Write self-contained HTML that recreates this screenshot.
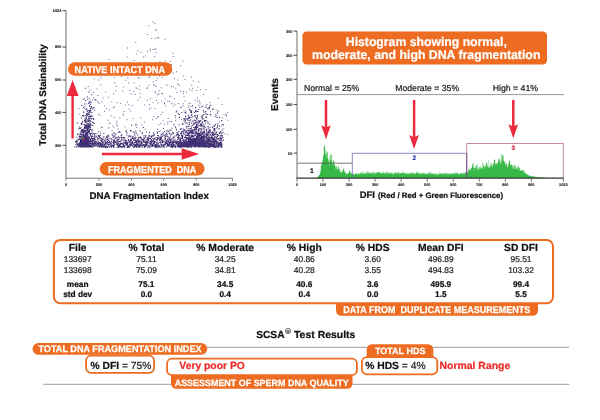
<!DOCTYPE html>
<html><head><meta charset="utf-8"><style>
html,body{margin:0;padding:0;background:#fff;width:600px;height:420px;overflow:hidden}
svg{display:block;font-family:"Liberation Sans", sans-serif;will-change:transform;text-rendering:geometricPrecision}
</style></head><body>
<svg width="600" height="420" viewBox="0 0 600 420">
<rect width="600" height="420" fill="#fff"/>
<path d="M87.5 141.6h1.1v1.1h-1.1zM88.3 145.6h1.1v1.1h-1.1zM84.1 136.9h1.1v1.1h-1.1zM85.8 137.6h1.1v1.1h-1.1zM82.7 146.0h1.1v1.1h-1.1zM84.6 145.3h1.1v1.1h-1.1zM85.5 139.6h1.1v1.1h-1.1zM82.6 143.3h1.1v1.1h-1.1zM89.7 134.2h1.1v1.1h-1.1zM83.1 140.2h1.1v1.1h-1.1zM95.4 99.7h1.1v1.1h-1.1zM86.4 142.2h1.1v1.1h-1.1zM86.4 144.6h1.1v1.1h-1.1zM88.2 125.3h1.1v1.1h-1.1zM79.7 144.0h1.1v1.1h-1.1zM82.0 140.7h1.1v1.1h-1.1zM86.1 136.6h1.1v1.1h-1.1zM84.7 143.6h1.1v1.1h-1.1zM82.6 132.2h1.1v1.1h-1.1zM86.4 135.5h1.1v1.1h-1.1zM82.7 139.0h1.1v1.1h-1.1zM91.5 131.5h1.1v1.1h-1.1zM80.4 143.0h1.1v1.1h-1.1zM84.6 120.5h1.1v1.1h-1.1zM83.2 130.2h1.1v1.1h-1.1zM93.9 144.9h1.1v1.1h-1.1zM84.7 139.7h1.1v1.1h-1.1zM82.7 138.1h1.1v1.1h-1.1zM81.0 146.0h1.1v1.1h-1.1zM79.7 135.9h1.1v1.1h-1.1zM84.4 120.5h1.1v1.1h-1.1zM90.2 135.2h1.1v1.1h-1.1zM78.4 135.7h1.1v1.1h-1.1zM89.4 110.3h1.1v1.1h-1.1zM84.1 138.5h1.1v1.1h-1.1zM84.4 131.4h1.1v1.1h-1.1zM91.9 133.5h1.1v1.1h-1.1zM84.1 142.3h1.1v1.1h-1.1zM84.2 140.4h1.1v1.1h-1.1zM84.1 138.8h1.1v1.1h-1.1zM85.1 144.2h1.1v1.1h-1.1zM86.6 128.2h1.1v1.1h-1.1zM84.2 144.8h1.1v1.1h-1.1zM90.1 120.9h1.1v1.1h-1.1zM79.7 145.4h1.1v1.1h-1.1zM88.1 119.6h1.1v1.1h-1.1zM88.0 125.1h1.1v1.1h-1.1zM82.4 139.8h1.1v1.1h-1.1zM91.3 140.9h1.1v1.1h-1.1zM78.1 144.5h1.1v1.1h-1.1zM84.5 144.1h1.1v1.1h-1.1zM87.4 138.2h1.1v1.1h-1.1zM85.0 135.4h1.1v1.1h-1.1zM85.0 139.7h1.1v1.1h-1.1zM76.4 140.7h1.1v1.1h-1.1zM81.8 131.8h1.1v1.1h-1.1zM80.9 137.4h1.1v1.1h-1.1zM80.4 145.8h1.1v1.1h-1.1zM88.2 117.8h1.1v1.1h-1.1zM78.7 126.5h1.1v1.1h-1.1zM83.2 140.3h1.1v1.1h-1.1zM86.2 133.9h1.1v1.1h-1.1zM86.3 145.7h1.1v1.1h-1.1zM85.2 144.3h1.1v1.1h-1.1zM84.5 141.3h1.1v1.1h-1.1zM84.2 144.4h1.1v1.1h-1.1zM83.5 145.2h1.1v1.1h-1.1zM87.2 120.6h1.1v1.1h-1.1zM86.8 134.6h1.1v1.1h-1.1zM86.7 141.2h1.1v1.1h-1.1zM89.5 140.8h1.1v1.1h-1.1zM89.6 138.7h1.1v1.1h-1.1zM86.2 138.2h1.1v1.1h-1.1zM85.3 141.3h1.1v1.1h-1.1zM85.4 142.7h1.1v1.1h-1.1zM82.1 146.2h1.1v1.1h-1.1zM85.7 108.8h1.1v1.1h-1.1zM84.6 136.7h1.1v1.1h-1.1zM74.2 146.2h1.1v1.1h-1.1zM84.7 121.6h1.1v1.1h-1.1zM85.2 131.6h1.1v1.1h-1.1zM87.6 144.2h1.1v1.1h-1.1zM79.7 128.0h1.1v1.1h-1.1zM83.2 141.5h1.1v1.1h-1.1zM88.2 143.3h1.1v1.1h-1.1zM76.7 122.6h1.1v1.1h-1.1zM88.5 126.0h1.1v1.1h-1.1zM78.9 143.3h1.1v1.1h-1.1zM84.3 137.4h1.1v1.1h-1.1zM84.7 146.1h1.1v1.1h-1.1zM84.0 142.4h1.1v1.1h-1.1zM93.4 107.3h1.1v1.1h-1.1zM94.6 139.1h1.1v1.1h-1.1zM83.7 107.7h1.1v1.1h-1.1zM85.0 140.8h1.1v1.1h-1.1zM86.8 143.8h1.1v1.1h-1.1zM78.7 143.6h1.1v1.1h-1.1zM80.8 123.6h1.1v1.1h-1.1zM81.1 138.3h1.1v1.1h-1.1zM78.8 145.4h1.1v1.1h-1.1zM90.6 133.0h1.1v1.1h-1.1zM82.3 129.2h1.1v1.1h-1.1zM87.5 138.4h1.1v1.1h-1.1zM90.2 141.4h1.1v1.1h-1.1zM89.5 126.3h1.1v1.1h-1.1zM84.0 140.1h1.1v1.1h-1.1zM87.3 109.8h1.1v1.1h-1.1zM81.9 144.8h1.1v1.1h-1.1zM89.5 144.5h1.1v1.1h-1.1zM80.5 144.5h1.1v1.1h-1.1zM91.4 124.6h1.1v1.1h-1.1zM83.8 141.1h1.1v1.1h-1.1zM85.4 136.6h1.1v1.1h-1.1zM88.8 102.3h1.1v1.1h-1.1zM77.0 133.4h1.1v1.1h-1.1zM83.3 139.4h1.1v1.1h-1.1zM87.7 120.8h1.1v1.1h-1.1zM82.1 142.9h1.1v1.1h-1.1zM84.7 142.2h1.1v1.1h-1.1zM89.1 142.7h1.1v1.1h-1.1zM90.0 139.7h1.1v1.1h-1.1zM90.3 141.0h1.1v1.1h-1.1zM78.0 138.8h1.1v1.1h-1.1zM80.7 139.7h1.1v1.1h-1.1zM82.6 115.3h1.1v1.1h-1.1zM84.8 137.2h1.1v1.1h-1.1zM81.8 146.3h1.1v1.1h-1.1zM84.8 146.5h1.1v1.1h-1.1zM87.9 126.4h1.1v1.1h-1.1zM89.2 130.4h1.1v1.1h-1.1zM83.0 136.3h1.1v1.1h-1.1zM88.8 136.4h1.1v1.1h-1.1zM89.5 127.3h1.1v1.1h-1.1zM87.2 142.9h1.1v1.1h-1.1zM85.0 142.4h1.1v1.1h-1.1zM80.7 136.2h1.1v1.1h-1.1zM89.1 128.7h1.1v1.1h-1.1zM83.1 134.6h1.1v1.1h-1.1zM79.3 137.7h1.1v1.1h-1.1zM84.3 139.0h1.1v1.1h-1.1zM76.4 137.0h1.1v1.1h-1.1zM86.6 131.5h1.1v1.1h-1.1zM89.2 120.4h1.1v1.1h-1.1zM84.0 136.3h1.1v1.1h-1.1zM88.6 110.6h1.1v1.1h-1.1zM82.5 144.9h1.1v1.1h-1.1zM87.1 139.2h1.1v1.1h-1.1zM85.2 145.6h1.1v1.1h-1.1zM87.0 132.7h1.1v1.1h-1.1zM76.7 144.4h1.1v1.1h-1.1zM84.5 130.8h1.1v1.1h-1.1zM84.9 119.7h1.1v1.1h-1.1zM89.9 103.7h1.1v1.1h-1.1zM93.3 140.2h1.1v1.1h-1.1zM91.6 138.2h1.1v1.1h-1.1zM83.7 144.3h1.1v1.1h-1.1zM81.4 139.4h1.1v1.1h-1.1zM83.9 143.8h1.1v1.1h-1.1zM84.3 141.7h1.1v1.1h-1.1zM84.3 136.4h1.1v1.1h-1.1zM87.9 139.2h1.1v1.1h-1.1zM85.5 134.3h1.1v1.1h-1.1zM94.4 137.5h1.1v1.1h-1.1zM90.0 127.1h1.1v1.1h-1.1zM90.6 101.9h1.1v1.1h-1.1zM85.7 146.0h1.1v1.1h-1.1zM85.6 127.6h1.1v1.1h-1.1zM86.5 139.6h1.1v1.1h-1.1zM88.1 116.2h1.1v1.1h-1.1zM81.6 144.5h1.1v1.1h-1.1zM82.0 115.1h1.1v1.1h-1.1zM81.7 145.3h1.1v1.1h-1.1zM82.6 145.8h1.1v1.1h-1.1zM80.5 145.6h1.1v1.1h-1.1zM83.1 111.7h1.1v1.1h-1.1zM79.2 145.4h1.1v1.1h-1.1zM92.9 122.3h1.1v1.1h-1.1zM87.6 138.9h1.1v1.1h-1.1zM76.7 141.3h1.1v1.1h-1.1zM81.6 142.6h1.1v1.1h-1.1zM81.5 144.8h1.1v1.1h-1.1zM83.6 145.1h1.1v1.1h-1.1zM86.5 144.3h1.1v1.1h-1.1zM85.2 141.8h1.1v1.1h-1.1zM84.6 142.0h1.1v1.1h-1.1zM81.8 137.8h1.1v1.1h-1.1zM83.8 144.1h1.1v1.1h-1.1zM84.9 142.9h1.1v1.1h-1.1zM83.5 146.3h1.1v1.1h-1.1zM79.7 143.9h1.1v1.1h-1.1zM86.3 138.5h1.1v1.1h-1.1zM85.4 125.1h1.1v1.1h-1.1zM77.8 139.4h1.1v1.1h-1.1zM84.8 140.3h1.1v1.1h-1.1zM80.9 137.7h1.1v1.1h-1.1zM75.0 141.3h1.1v1.1h-1.1zM84.8 124.2h1.1v1.1h-1.1zM79.7 140.0h1.1v1.1h-1.1zM86.3 141.2h1.1v1.1h-1.1zM84.7 145.6h1.1v1.1h-1.1zM85.6 129.6h1.1v1.1h-1.1zM86.2 145.4h1.1v1.1h-1.1zM89.9 123.5h1.1v1.1h-1.1zM80.5 142.4h1.1v1.1h-1.1zM83.2 143.0h1.1v1.1h-1.1zM88.0 144.4h1.1v1.1h-1.1zM83.9 139.1h1.1v1.1h-1.1zM97.6 101.5h1.1v1.1h-1.1zM85.3 136.6h1.1v1.1h-1.1zM93.8 141.9h1.1v1.1h-1.1zM88.0 141.0h1.1v1.1h-1.1zM84.8 138.5h1.1v1.1h-1.1zM86.1 137.8h1.1v1.1h-1.1zM88.0 146.4h1.1v1.1h-1.1zM87.4 142.7h1.1v1.1h-1.1zM85.9 146.0h1.1v1.1h-1.1zM83.1 146.2h1.1v1.1h-1.1zM87.5 135.5h1.1v1.1h-1.1zM84.9 137.1h1.1v1.1h-1.1zM80.3 130.8h1.1v1.1h-1.1zM84.1 120.1h1.1v1.1h-1.1zM91.2 94.2h1.1v1.1h-1.1zM83.3 144.5h1.1v1.1h-1.1zM78.9 145.9h1.1v1.1h-1.1zM90.1 124.0h1.1v1.1h-1.1zM82.4 130.0h1.1v1.1h-1.1zM88.9 125.6h1.1v1.1h-1.1zM88.2 137.7h1.1v1.1h-1.1zM88.5 124.0h1.1v1.1h-1.1zM78.7 135.5h1.1v1.1h-1.1zM84.5 118.6h1.1v1.1h-1.1zM79.2 143.2h1.1v1.1h-1.1zM86.3 146.1h1.1v1.1h-1.1zM86.6 145.1h1.1v1.1h-1.1zM81.5 123.9h1.1v1.1h-1.1zM83.4 134.2h1.1v1.1h-1.1zM85.1 132.2h1.1v1.1h-1.1zM86.0 126.5h1.1v1.1h-1.1zM81.2 129.3h1.1v1.1h-1.1zM85.2 133.0h1.1v1.1h-1.1zM83.8 145.6h1.1v1.1h-1.1zM81.3 145.5h1.1v1.1h-1.1zM84.0 142.6h1.1v1.1h-1.1zM83.2 129.7h1.1v1.1h-1.1zM85.1 100.0h1.1v1.1h-1.1zM84.9 138.3h1.1v1.1h-1.1zM85.9 132.1h1.1v1.1h-1.1zM80.3 133.6h1.1v1.1h-1.1zM85.7 145.5h1.1v1.1h-1.1zM87.9 129.5h1.1v1.1h-1.1zM83.9 142.0h1.1v1.1h-1.1zM83.8 145.7h1.1v1.1h-1.1zM81.7 142.6h1.1v1.1h-1.1zM80.5 132.4h1.1v1.1h-1.1zM80.4 142.2h1.1v1.1h-1.1zM84.3 138.7h1.1v1.1h-1.1zM86.0 144.9h1.1v1.1h-1.1zM87.2 98.7h1.1v1.1h-1.1zM91.4 112.1h1.1v1.1h-1.1zM86.5 125.1h1.1v1.1h-1.1zM85.6 103.4h1.1v1.1h-1.1zM85.1 143.6h1.1v1.1h-1.1zM88.8 110.1h1.1v1.1h-1.1zM88.7 144.6h1.1v1.1h-1.1zM86.7 137.2h1.1v1.1h-1.1zM85.5 125.0h1.1v1.1h-1.1zM89.1 137.6h1.1v1.1h-1.1zM80.6 143.2h1.1v1.1h-1.1zM86.0 118.0h1.1v1.1h-1.1zM84.0 146.5h1.1v1.1h-1.1zM81.9 138.0h1.1v1.1h-1.1zM85.1 144.6h1.1v1.1h-1.1zM81.7 141.2h1.1v1.1h-1.1zM90.3 146.5h1.1v1.1h-1.1zM86.7 129.1h1.1v1.1h-1.1zM85.7 113.9h1.1v1.1h-1.1zM87.9 130.9h1.1v1.1h-1.1zM82.8 140.7h1.1v1.1h-1.1zM89.4 140.3h1.1v1.1h-1.1zM84.5 140.9h1.1v1.1h-1.1zM84.5 139.5h1.1v1.1h-1.1zM85.2 145.2h1.1v1.1h-1.1zM84.3 124.0h1.1v1.1h-1.1zM92.5 142.9h1.1v1.1h-1.1zM82.0 142.6h1.1v1.1h-1.1zM84.4 140.7h1.1v1.1h-1.1zM92.8 107.4h1.1v1.1h-1.1zM80.8 134.0h1.1v1.1h-1.1zM91.2 115.9h1.1v1.1h-1.1zM83.9 130.6h1.1v1.1h-1.1zM83.6 145.9h1.1v1.1h-1.1zM81.8 129.0h1.1v1.1h-1.1zM85.0 133.6h1.1v1.1h-1.1zM88.3 113.8h1.1v1.1h-1.1zM80.9 144.8h1.1v1.1h-1.1zM85.0 142.1h1.1v1.1h-1.1zM88.4 129.7h1.1v1.1h-1.1zM84.9 133.2h1.1v1.1h-1.1zM81.0 142.0h1.1v1.1h-1.1zM82.9 144.2h1.1v1.1h-1.1zM86.2 144.3h1.1v1.1h-1.1zM92.4 137.9h1.1v1.1h-1.1zM94.3 143.4h1.1v1.1h-1.1zM78.0 139.0h1.1v1.1h-1.1zM84.7 144.6h1.1v1.1h-1.1zM85.9 141.3h1.1v1.1h-1.1zM84.3 145.3h1.1v1.1h-1.1zM87.8 136.0h1.1v1.1h-1.1zM86.7 119.2h1.1v1.1h-1.1zM80.9 139.8h1.1v1.1h-1.1zM82.5 137.2h1.1v1.1h-1.1zM86.3 145.7h1.1v1.1h-1.1zM86.2 142.4h1.1v1.1h-1.1zM84.4 137.8h1.1v1.1h-1.1zM86.8 134.1h1.1v1.1h-1.1zM82.4 142.5h1.1v1.1h-1.1zM81.1 142.9h1.1v1.1h-1.1zM90.1 108.0h1.1v1.1h-1.1zM86.8 122.9h1.1v1.1h-1.1zM83.4 146.1h1.1v1.1h-1.1zM88.7 131.0h1.1v1.1h-1.1zM82.6 135.4h1.1v1.1h-1.1zM77.6 146.5h1.1v1.1h-1.1zM91.3 124.7h1.1v1.1h-1.1zM89.0 122.3h1.1v1.1h-1.1zM83.6 145.1h1.1v1.1h-1.1zM78.8 144.4h1.1v1.1h-1.1zM86.7 111.0h1.1v1.1h-1.1zM81.9 130.5h1.1v1.1h-1.1zM79.8 138.9h1.1v1.1h-1.1zM91.0 136.5h1.1v1.1h-1.1zM85.8 143.2h1.1v1.1h-1.1zM85.2 114.9h1.1v1.1h-1.1zM81.7 144.8h1.1v1.1h-1.1zM80.7 142.9h1.1v1.1h-1.1zM79.9 145.0h1.1v1.1h-1.1zM79.3 145.6h1.1v1.1h-1.1zM83.8 140.4h1.1v1.1h-1.1zM83.8 143.3h1.1v1.1h-1.1zM84.1 142.0h1.1v1.1h-1.1zM89.7 138.8h1.1v1.1h-1.1zM85.3 119.6h1.1v1.1h-1.1zM85.0 138.4h1.1v1.1h-1.1zM90.7 106.1h1.1v1.1h-1.1zM85.2 131.3h1.1v1.1h-1.1zM85.5 137.9h1.1v1.1h-1.1zM82.9 132.5h1.1v1.1h-1.1zM86.7 132.7h1.1v1.1h-1.1zM87.3 114.1h1.1v1.1h-1.1zM85.4 141.3h1.1v1.1h-1.1zM83.6 139.7h1.1v1.1h-1.1zM83.8 126.6h1.1v1.1h-1.1zM83.2 129.7h1.1v1.1h-1.1zM88.3 102.7h1.1v1.1h-1.1zM85.5 141.8h1.1v1.1h-1.1zM81.9 143.4h1.1v1.1h-1.1zM83.3 128.6h1.1v1.1h-1.1zM93.3 137.9h1.1v1.1h-1.1zM84.8 143.9h1.1v1.1h-1.1zM89.0 132.8h1.1v1.1h-1.1zM89.8 109.4h1.1v1.1h-1.1zM87.1 143.5h1.1v1.1h-1.1zM89.3 100.8h1.1v1.1h-1.1zM84.9 145.7h1.1v1.1h-1.1zM90.6 140.3h1.1v1.1h-1.1zM81.1 130.0h1.1v1.1h-1.1zM86.2 113.0h1.1v1.1h-1.1zM89.4 112.2h1.1v1.1h-1.1zM90.9 129.4h1.1v1.1h-1.1zM85.6 140.6h1.1v1.1h-1.1zM83.5 140.6h1.1v1.1h-1.1zM85.9 146.5h1.1v1.1h-1.1zM79.0 142.4h1.1v1.1h-1.1zM91.3 144.8h1.1v1.1h-1.1zM89.0 104.9h1.1v1.1h-1.1zM89.4 125.0h1.1v1.1h-1.1zM85.1 124.9h1.1v1.1h-1.1zM85.2 138.5h1.1v1.1h-1.1zM86.6 140.7h1.1v1.1h-1.1zM83.4 140.8h1.1v1.1h-1.1zM90.4 118.1h1.1v1.1h-1.1zM86.7 125.6h1.1v1.1h-1.1zM86.7 128.3h1.1v1.1h-1.1zM84.3 145.7h1.1v1.1h-1.1zM86.8 114.9h1.1v1.1h-1.1zM92.8 117.9h1.1v1.1h-1.1zM83.2 141.3h1.1v1.1h-1.1zM94.1 134.5h1.1v1.1h-1.1zM83.7 142.7h1.1v1.1h-1.1zM81.3 142.5h1.1v1.1h-1.1zM84.2 146.5h1.1v1.1h-1.1zM77.2 133.9h1.1v1.1h-1.1zM90.1 110.6h1.1v1.1h-1.1zM85.2 138.4h1.1v1.1h-1.1zM91.3 107.2h1.1v1.1h-1.1zM83.3 142.9h1.1v1.1h-1.1zM76.4 139.5h1.1v1.1h-1.1zM84.5 144.0h1.1v1.1h-1.1zM85.5 126.2h1.1v1.1h-1.1zM79.1 128.0h1.1v1.1h-1.1zM83.6 134.8h1.1v1.1h-1.1zM87.3 140.9h1.1v1.1h-1.1zM88.0 127.4h1.1v1.1h-1.1zM86.8 129.0h1.1v1.1h-1.1zM85.2 142.9h1.1v1.1h-1.1zM85.3 136.4h1.1v1.1h-1.1zM91.8 141.6h1.1v1.1h-1.1zM88.5 91.4h1.1v1.1h-1.1zM85.7 142.7h1.1v1.1h-1.1zM85.6 137.9h1.1v1.1h-1.1zM83.0 131.0h1.1v1.1h-1.1zM85.5 139.8h1.1v1.1h-1.1zM82.4 134.4h1.1v1.1h-1.1zM81.0 123.0h1.1v1.1h-1.1zM90.3 132.9h1.1v1.1h-1.1zM89.1 142.2h1.1v1.1h-1.1zM80.9 136.0h1.1v1.1h-1.1zM88.4 143.7h1.1v1.1h-1.1zM84.4 142.9h1.1v1.1h-1.1zM88.7 119.6h1.1v1.1h-1.1zM83.4 135.7h1.1v1.1h-1.1zM88.0 137.7h1.1v1.1h-1.1zM86.2 143.2h1.1v1.1h-1.1zM84.9 87.7h1.1v1.1h-1.1zM77.5 145.2h1.1v1.1h-1.1zM87.3 123.5h1.1v1.1h-1.1zM89.9 115.8h1.1v1.1h-1.1zM84.9 144.9h1.1v1.1h-1.1zM88.9 143.9h1.1v1.1h-1.1zM86.5 113.2h1.1v1.1h-1.1zM87.2 140.7h1.1v1.1h-1.1zM81.4 142.7h1.1v1.1h-1.1zM87.4 127.7h1.1v1.1h-1.1zM84.5 135.2h1.1v1.1h-1.1zM85.9 134.4h1.1v1.1h-1.1zM87.5 144.6h1.1v1.1h-1.1zM84.1 143.6h1.1v1.1h-1.1zM90.1 133.3h1.1v1.1h-1.1zM87.4 143.7h1.1v1.1h-1.1zM85.6 132.3h1.1v1.1h-1.1zM83.3 143.9h1.1v1.1h-1.1zM88.2 126.7h1.1v1.1h-1.1zM86.5 136.6h1.1v1.1h-1.1zM85.2 140.2h1.1v1.1h-1.1zM83.9 136.5h1.1v1.1h-1.1zM83.0 144.3h1.1v1.1h-1.1zM83.0 131.6h1.1v1.1h-1.1zM86.0 141.9h1.1v1.1h-1.1zM86.0 108.2h1.1v1.1h-1.1zM88.8 141.0h1.1v1.1h-1.1zM92.6 139.8h1.1v1.1h-1.1zM75.4 140.8h1.1v1.1h-1.1zM83.9 143.8h1.1v1.1h-1.1zM81.6 146.4h1.1v1.1h-1.1zM80.9 117.5h1.1v1.1h-1.1zM87.7 140.0h1.1v1.1h-1.1zM84.6 119.7h1.1v1.1h-1.1zM84.5 146.3h1.1v1.1h-1.1zM79.9 136.5h1.1v1.1h-1.1zM78.0 145.3h1.1v1.1h-1.1zM82.2 134.3h1.1v1.1h-1.1zM87.2 144.5h1.1v1.1h-1.1zM76.2 142.3h1.1v1.1h-1.1zM83.0 145.1h1.1v1.1h-1.1zM88.0 138.1h1.1v1.1h-1.1zM75.4 143.8h1.1v1.1h-1.1zM93.3 144.8h1.1v1.1h-1.1zM81.3 138.3h1.1v1.1h-1.1zM87.2 145.8h1.1v1.1h-1.1zM85.3 117.2h1.1v1.1h-1.1zM86.1 134.4h1.1v1.1h-1.1zM84.0 127.2h1.1v1.1h-1.1zM78.5 143.4h1.1v1.1h-1.1zM90.1 124.4h1.1v1.1h-1.1zM84.9 144.0h1.1v1.1h-1.1zM88.4 137.4h1.1v1.1h-1.1zM86.5 140.5h1.1v1.1h-1.1zM87.5 130.4h1.1v1.1h-1.1zM91.3 118.1h1.1v1.1h-1.1zM86.9 128.8h1.1v1.1h-1.1zM84.9 146.0h1.1v1.1h-1.1zM83.6 135.1h1.1v1.1h-1.1zM82.8 136.5h1.1v1.1h-1.1zM82.4 139.7h1.1v1.1h-1.1zM80.3 135.6h1.1v1.1h-1.1zM87.1 139.1h1.1v1.1h-1.1zM89.6 139.3h1.1v1.1h-1.1zM85.5 138.1h1.1v1.1h-1.1zM84.8 143.1h1.1v1.1h-1.1zM78.5 138.8h1.1v1.1h-1.1zM82.5 144.0h1.1v1.1h-1.1zM84.4 144.8h1.1v1.1h-1.1zM87.9 139.5h1.1v1.1h-1.1zM87.0 137.6h1.1v1.1h-1.1zM83.0 146.0h1.1v1.1h-1.1zM84.5 130.0h1.1v1.1h-1.1zM84.6 127.7h1.1v1.1h-1.1zM84.7 137.7h1.1v1.1h-1.1zM86.4 140.6h1.1v1.1h-1.1zM85.8 122.2h1.1v1.1h-1.1zM86.5 130.0h1.1v1.1h-1.1zM86.8 96.5h1.1v1.1h-1.1zM92.5 138.0h1.1v1.1h-1.1zM82.0 144.2h1.1v1.1h-1.1zM87.1 127.1h1.1v1.1h-1.1zM83.9 141.1h1.1v1.1h-1.1zM89.9 128.9h1.1v1.1h-1.1zM90.8 142.5h1.1v1.1h-1.1zM88.7 125.4h1.1v1.1h-1.1zM90.4 114.9h1.1v1.1h-1.1zM83.9 143.6h1.1v1.1h-1.1zM88.7 141.7h1.1v1.1h-1.1zM84.9 146.0h1.1v1.1h-1.1zM89.3 112.1h1.1v1.1h-1.1zM87.1 132.3h1.1v1.1h-1.1zM84.5 127.3h1.1v1.1h-1.1zM79.1 145.0h1.1v1.1h-1.1zM83.5 140.9h1.1v1.1h-1.1zM82.1 120.7h1.1v1.1h-1.1zM85.0 119.7h1.1v1.1h-1.1zM89.2 145.1h1.1v1.1h-1.1zM84.4 140.2h1.1v1.1h-1.1zM84.9 126.5h1.1v1.1h-1.1zM96.0 135.7h1.1v1.1h-1.1zM84.9 140.9h1.1v1.1h-1.1zM80.3 144.1h1.1v1.1h-1.1zM92.0 129.5h1.1v1.1h-1.1zM86.3 142.8h1.1v1.1h-1.1zM90.0 133.8h1.1v1.1h-1.1zM84.8 132.9h1.1v1.1h-1.1zM85.4 141.8h1.1v1.1h-1.1zM84.2 144.5h1.1v1.1h-1.1zM81.2 134.5h1.1v1.1h-1.1zM88.6 118.3h1.1v1.1h-1.1zM84.9 144.7h1.1v1.1h-1.1zM89.2 146.2h1.1v1.1h-1.1zM82.9 146.5h1.1v1.1h-1.1zM85.9 141.0h1.1v1.1h-1.1zM80.1 143.3h1.1v1.1h-1.1zM81.8 143.6h1.1v1.1h-1.1zM83.3 134.3h1.1v1.1h-1.1zM87.7 112.0h1.1v1.1h-1.1zM85.3 143.0h1.1v1.1h-1.1zM86.5 133.8h1.1v1.1h-1.1zM87.2 120.9h1.1v1.1h-1.1zM80.8 142.7h1.1v1.1h-1.1zM81.1 146.4h1.1v1.1h-1.1zM80.8 141.1h1.1v1.1h-1.1zM77.3 133.5h1.1v1.1h-1.1zM88.5 130.0h1.1v1.1h-1.1zM85.2 142.9h1.1v1.1h-1.1zM84.3 137.0h1.1v1.1h-1.1zM84.7 140.0h1.1v1.1h-1.1zM87.1 127.6h1.1v1.1h-1.1zM75.8 146.3h1.1v1.1h-1.1zM81.4 144.6h1.1v1.1h-1.1zM80.9 143.7h1.1v1.1h-1.1zM82.5 133.7h1.1v1.1h-1.1zM87.5 125.5h1.1v1.1h-1.1zM87.2 142.0h1.1v1.1h-1.1zM88.8 145.9h1.1v1.1h-1.1zM81.5 130.8h1.1v1.1h-1.1zM87.3 146.4h1.1v1.1h-1.1zM79.8 138.7h1.1v1.1h-1.1zM83.2 129.6h1.1v1.1h-1.1zM84.8 145.1h1.1v1.1h-1.1zM87.4 143.2h1.1v1.1h-1.1zM86.5 129.2h1.1v1.1h-1.1zM88.6 131.7h1.1v1.1h-1.1zM79.6 142.6h1.1v1.1h-1.1zM79.1 136.4h1.1v1.1h-1.1zM87.4 137.2h1.1v1.1h-1.1zM78.5 142.6h1.1v1.1h-1.1zM77.0 143.4h1.1v1.1h-1.1zM89.4 120.0h1.1v1.1h-1.1zM84.6 143.1h1.1v1.1h-1.1zM91.3 129.5h1.1v1.1h-1.1zM82.4 141.6h1.1v1.1h-1.1zM85.3 120.0h1.1v1.1h-1.1zM89.3 116.7h1.1v1.1h-1.1zM83.3 134.0h1.1v1.1h-1.1zM83.8 98.2h1.1v1.1h-1.1zM87.7 138.6h1.1v1.1h-1.1zM81.7 122.1h1.1v1.1h-1.1zM83.9 139.3h1.1v1.1h-1.1zM79.8 141.9h1.1v1.1h-1.1zM83.2 143.5h1.1v1.1h-1.1zM86.0 116.3h1.1v1.1h-1.1zM85.8 144.5h1.1v1.1h-1.1zM87.5 113.4h1.1v1.1h-1.1zM85.0 141.2h1.1v1.1h-1.1zM84.7 146.0h1.1v1.1h-1.1zM81.7 131.8h1.1v1.1h-1.1zM81.5 129.8h1.1v1.1h-1.1zM81.2 145.6h1.1v1.1h-1.1zM84.2 125.2h1.1v1.1h-1.1zM87.1 125.1h1.1v1.1h-1.1zM85.6 121.2h1.1v1.1h-1.1zM88.6 115.8h1.1v1.1h-1.1zM83.7 143.6h1.1v1.1h-1.1zM90.9 145.0h1.1v1.1h-1.1zM87.5 125.6h1.1v1.1h-1.1zM87.5 133.9h1.1v1.1h-1.1zM79.8 142.3h1.1v1.1h-1.1zM89.0 145.2h1.1v1.1h-1.1zM87.7 143.6h1.1v1.1h-1.1zM83.8 141.7h1.1v1.1h-1.1zM84.7 142.8h1.1v1.1h-1.1zM83.6 142.3h1.1v1.1h-1.1zM81.1 141.7h1.1v1.1h-1.1zM81.1 104.9h1.1v1.1h-1.1zM85.0 134.5h1.1v1.1h-1.1zM80.7 146.1h1.1v1.1h-1.1zM87.8 128.0h1.1v1.1h-1.1zM83.2 141.2h1.1v1.1h-1.1zM80.0 143.4h1.1v1.1h-1.1zM92.0 121.7h1.1v1.1h-1.1zM87.8 144.2h1.1v1.1h-1.1zM85.8 146.5h1.1v1.1h-1.1zM94.5 98.9h1.1v1.1h-1.1zM79.8 146.4h1.1v1.1h-1.1zM86.2 126.6h1.1v1.1h-1.1zM80.9 144.0h1.1v1.1h-1.1zM86.3 124.2h1.1v1.1h-1.1zM87.1 142.7h1.1v1.1h-1.1zM83.2 143.5h1.1v1.1h-1.1zM83.7 131.5h1.1v1.1h-1.1zM85.2 133.8h1.1v1.1h-1.1zM85.4 145.4h1.1v1.1h-1.1zM80.5 127.2h1.1v1.1h-1.1zM82.9 134.1h1.1v1.1h-1.1zM87.4 140.2h1.1v1.1h-1.1zM93.2 118.9h1.1v1.1h-1.1zM87.9 146.2h1.1v1.1h-1.1zM83.6 143.6h1.1v1.1h-1.1zM92.5 137.8h1.1v1.1h-1.1zM86.5 140.5h1.1v1.1h-1.1zM83.0 138.8h1.1v1.1h-1.1zM85.1 137.0h1.1v1.1h-1.1zM79.2 133.5h1.1v1.1h-1.1zM83.5 141.1h1.1v1.1h-1.1zM88.1 123.3h1.1v1.1h-1.1zM85.2 132.9h1.1v1.1h-1.1zM82.5 139.3h1.1v1.1h-1.1zM84.2 127.9h1.1v1.1h-1.1zM83.8 138.8h1.1v1.1h-1.1zM206.4 146.5h1.1v1.1h-1.1zM127.0 142.6h1.1v1.1h-1.1zM181.6 144.7h1.1v1.1h-1.1zM107.2 143.7h1.1v1.1h-1.1zM119.7 143.1h1.1v1.1h-1.1zM107.9 139.8h1.1v1.1h-1.1zM130.6 140.2h1.1v1.1h-1.1zM185.1 130.4h1.1v1.1h-1.1zM99.8 143.9h1.1v1.1h-1.1zM138.3 146.1h1.1v1.1h-1.1zM219.8 143.9h1.1v1.1h-1.1zM145.1 136.6h1.1v1.1h-1.1zM112.7 144.8h1.1v1.1h-1.1zM114.1 144.4h1.1v1.1h-1.1zM138.8 140.4h1.1v1.1h-1.1zM193.6 145.4h1.1v1.1h-1.1zM180.3 137.6h1.1v1.1h-1.1zM149.0 146.8h1.1v1.1h-1.1zM105.3 141.5h1.1v1.1h-1.1zM186.8 142.8h1.1v1.1h-1.1zM209.5 139.1h1.1v1.1h-1.1zM187.9 143.2h1.1v1.1h-1.1zM143.3 145.4h1.1v1.1h-1.1zM205.7 136.5h1.1v1.1h-1.1zM191.3 142.9h1.1v1.1h-1.1zM178.4 134.7h1.1v1.1h-1.1zM173.2 141.4h1.1v1.1h-1.1zM171.4 145.2h1.1v1.1h-1.1zM99.3 136.9h1.1v1.1h-1.1zM183.0 141.3h1.1v1.1h-1.1zM171.6 146.8h1.1v1.1h-1.1zM147.9 140.0h1.1v1.1h-1.1zM170.5 138.6h1.1v1.1h-1.1zM212.5 141.5h1.1v1.1h-1.1zM110.9 140.4h1.1v1.1h-1.1zM138.9 137.5h1.1v1.1h-1.1zM152.6 145.0h1.1v1.1h-1.1zM159.9 146.5h1.1v1.1h-1.1zM107.9 143.7h1.1v1.1h-1.1zM156.6 131.7h1.1v1.1h-1.1zM99.7 139.6h1.1v1.1h-1.1zM183.6 143.1h1.1v1.1h-1.1zM155.7 139.0h1.1v1.1h-1.1zM156.9 137.4h1.1v1.1h-1.1zM141.8 142.6h1.1v1.1h-1.1zM179.1 145.4h1.1v1.1h-1.1zM139.4 146.5h1.1v1.1h-1.1zM219.9 143.5h1.1v1.1h-1.1zM134.3 141.9h1.1v1.1h-1.1zM140.4 145.0h1.1v1.1h-1.1zM87.8 140.9h1.1v1.1h-1.1zM181.0 143.5h1.1v1.1h-1.1zM133.9 146.4h1.1v1.1h-1.1zM186.8 142.2h1.1v1.1h-1.1zM213.8 142.3h1.1v1.1h-1.1zM195.0 146.0h1.1v1.1h-1.1zM139.3 146.0h1.1v1.1h-1.1zM191.6 143.5h1.1v1.1h-1.1zM196.1 141.9h1.1v1.1h-1.1zM162.4 141.3h1.1v1.1h-1.1zM116.7 140.9h1.1v1.1h-1.1zM172.9 145.4h1.1v1.1h-1.1zM197.3 143.8h1.1v1.1h-1.1zM126.0 140.1h1.1v1.1h-1.1zM160.6 138.1h1.1v1.1h-1.1zM134.2 138.1h1.1v1.1h-1.1zM201.7 146.1h1.1v1.1h-1.1zM120.5 140.5h1.1v1.1h-1.1zM144.0 146.6h1.1v1.1h-1.1zM184.2 146.4h1.1v1.1h-1.1zM124.2 146.6h1.1v1.1h-1.1zM151.2 141.3h1.1v1.1h-1.1zM144.3 140.6h1.1v1.1h-1.1zM135.3 139.6h1.1v1.1h-1.1zM212.3 145.4h1.1v1.1h-1.1zM198.6 145.0h1.1v1.1h-1.1zM209.2 146.0h1.1v1.1h-1.1zM199.1 143.3h1.1v1.1h-1.1zM172.1 145.8h1.1v1.1h-1.1zM215.4 146.7h1.1v1.1h-1.1zM175.2 146.8h1.1v1.1h-1.1zM105.4 143.8h1.1v1.1h-1.1zM117.8 145.8h1.1v1.1h-1.1zM106.8 140.9h1.1v1.1h-1.1zM209.0 145.8h1.1v1.1h-1.1zM207.2 143.0h1.1v1.1h-1.1zM168.7 144.9h1.1v1.1h-1.1zM207.6 137.3h1.1v1.1h-1.1zM193.2 144.5h1.1v1.1h-1.1zM180.2 143.1h1.1v1.1h-1.1zM158.2 146.4h1.1v1.1h-1.1zM206.0 139.8h1.1v1.1h-1.1zM161.5 146.4h1.1v1.1h-1.1zM105.0 142.1h1.1v1.1h-1.1zM153.1 140.0h1.1v1.1h-1.1zM105.6 144.2h1.1v1.1h-1.1zM152.8 138.7h1.1v1.1h-1.1zM203.4 146.7h1.1v1.1h-1.1zM86.9 142.9h1.1v1.1h-1.1zM162.5 140.7h1.1v1.1h-1.1zM176.5 143.4h1.1v1.1h-1.1zM143.0 141.5h1.1v1.1h-1.1zM216.6 138.6h1.1v1.1h-1.1zM172.5 142.6h1.1v1.1h-1.1zM89.9 139.2h1.1v1.1h-1.1zM212.7 140.5h1.1v1.1h-1.1zM130.9 139.1h1.1v1.1h-1.1zM151.9 145.9h1.1v1.1h-1.1zM208.1 136.7h1.1v1.1h-1.1zM171.0 144.6h1.1v1.1h-1.1zM132.1 142.8h1.1v1.1h-1.1zM150.5 142.1h1.1v1.1h-1.1zM157.5 146.2h1.1v1.1h-1.1zM145.2 142.4h1.1v1.1h-1.1zM143.4 135.3h1.1v1.1h-1.1zM125.8 142.7h1.1v1.1h-1.1zM198.6 140.5h1.1v1.1h-1.1zM123.0 142.4h1.1v1.1h-1.1zM154.9 137.4h1.1v1.1h-1.1zM193.7 145.3h1.1v1.1h-1.1zM131.0 144.6h1.1v1.1h-1.1zM165.8 141.8h1.1v1.1h-1.1zM172.3 146.4h1.1v1.1h-1.1zM184.3 145.0h1.1v1.1h-1.1zM206.4 144.8h1.1v1.1h-1.1zM126.9 146.2h1.1v1.1h-1.1zM86.8 141.4h1.1v1.1h-1.1zM168.8 133.2h1.1v1.1h-1.1zM175.5 143.3h1.1v1.1h-1.1zM169.2 133.0h1.1v1.1h-1.1zM169.9 139.8h1.1v1.1h-1.1zM167.1 139.6h1.1v1.1h-1.1zM178.6 144.5h1.1v1.1h-1.1zM148.3 137.4h1.1v1.1h-1.1zM189.7 143.5h1.1v1.1h-1.1zM91.0 144.4h1.1v1.1h-1.1zM191.3 138.7h1.1v1.1h-1.1zM136.2 141.9h1.1v1.1h-1.1zM197.9 144.9h1.1v1.1h-1.1zM121.1 138.7h1.1v1.1h-1.1zM127.1 141.8h1.1v1.1h-1.1zM144.6 144.1h1.1v1.1h-1.1zM173.3 144.8h1.1v1.1h-1.1zM163.2 145.9h1.1v1.1h-1.1zM91.4 138.1h1.1v1.1h-1.1zM164.2 138.7h1.1v1.1h-1.1zM210.9 145.8h1.1v1.1h-1.1zM138.7 146.4h1.1v1.1h-1.1zM166.5 129.9h1.1v1.1h-1.1zM150.7 139.8h1.1v1.1h-1.1zM142.1 139.3h1.1v1.1h-1.1zM114.9 141.2h1.1v1.1h-1.1zM106.6 146.2h1.1v1.1h-1.1zM179.0 146.7h1.1v1.1h-1.1zM102.5 144.1h1.1v1.1h-1.1zM204.3 146.2h1.1v1.1h-1.1zM103.5 136.5h1.1v1.1h-1.1zM118.9 145.6h1.1v1.1h-1.1zM185.8 146.0h1.1v1.1h-1.1zM191.3 144.9h1.1v1.1h-1.1zM183.0 140.3h1.1v1.1h-1.1zM97.5 138.5h1.1v1.1h-1.1zM171.5 145.0h1.1v1.1h-1.1zM212.8 139.8h1.1v1.1h-1.1zM120.6 136.7h1.1v1.1h-1.1zM87.6 144.5h1.1v1.1h-1.1zM88.0 139.8h1.1v1.1h-1.1zM96.8 137.1h1.1v1.1h-1.1zM128.3 146.3h1.1v1.1h-1.1zM203.1 142.9h1.1v1.1h-1.1zM152.1 141.0h1.1v1.1h-1.1zM164.2 144.5h1.1v1.1h-1.1zM145.7 145.2h1.1v1.1h-1.1zM194.4 143.5h1.1v1.1h-1.1zM135.4 141.2h1.1v1.1h-1.1zM142.8 139.6h1.1v1.1h-1.1zM138.5 143.3h1.1v1.1h-1.1zM192.7 131.6h1.1v1.1h-1.1zM163.1 146.2h1.1v1.1h-1.1zM218.5 144.6h1.1v1.1h-1.1zM181.6 144.1h1.1v1.1h-1.1zM168.4 141.6h1.1v1.1h-1.1zM218.9 142.5h1.1v1.1h-1.1zM128.0 139.1h1.1v1.1h-1.1zM144.3 142.0h1.1v1.1h-1.1zM179.1 142.7h1.1v1.1h-1.1zM167.8 137.4h1.1v1.1h-1.1zM124.5 139.6h1.1v1.1h-1.1zM86.2 146.2h1.1v1.1h-1.1zM165.8 140.0h1.1v1.1h-1.1zM197.0 145.3h1.1v1.1h-1.1zM199.3 145.6h1.1v1.1h-1.1zM196.4 141.1h1.1v1.1h-1.1zM123.2 140.5h1.1v1.1h-1.1zM201.8 143.3h1.1v1.1h-1.1zM210.3 137.6h1.1v1.1h-1.1zM133.2 139.7h1.1v1.1h-1.1zM194.4 142.6h1.1v1.1h-1.1zM113.3 146.8h1.1v1.1h-1.1zM117.8 131.7h1.1v1.1h-1.1zM168.5 143.6h1.1v1.1h-1.1zM114.1 140.3h1.1v1.1h-1.1zM120.6 146.7h1.1v1.1h-1.1zM148.5 135.3h1.1v1.1h-1.1zM97.9 142.9h1.1v1.1h-1.1zM117.7 136.3h1.1v1.1h-1.1zM164.8 136.0h1.1v1.1h-1.1zM157.0 138.6h1.1v1.1h-1.1zM150.8 143.2h1.1v1.1h-1.1zM112.2 144.6h1.1v1.1h-1.1zM110.6 144.9h1.1v1.1h-1.1zM162.8 140.9h1.1v1.1h-1.1zM140.7 143.1h1.1v1.1h-1.1zM92.1 146.4h1.1v1.1h-1.1zM221.6 144.6h1.1v1.1h-1.1zM172.1 144.6h1.1v1.1h-1.1zM193.1 141.9h1.1v1.1h-1.1zM132.9 139.5h1.1v1.1h-1.1zM156.6 145.1h1.1v1.1h-1.1zM220.7 146.6h1.1v1.1h-1.1zM203.8 138.4h1.1v1.1h-1.1zM121.6 146.1h1.1v1.1h-1.1zM192.0 132.7h1.1v1.1h-1.1zM190.3 139.7h1.1v1.1h-1.1zM197.4 142.0h1.1v1.1h-1.1zM91.2 145.7h1.1v1.1h-1.1zM113.3 145.7h1.1v1.1h-1.1zM92.9 144.3h1.1v1.1h-1.1zM161.8 141.9h1.1v1.1h-1.1zM214.8 141.6h1.1v1.1h-1.1zM209.7 138.7h1.1v1.1h-1.1zM140.0 143.4h1.1v1.1h-1.1zM102.3 142.0h1.1v1.1h-1.1zM162.8 145.5h1.1v1.1h-1.1zM173.1 137.5h1.1v1.1h-1.1zM139.5 144.2h1.1v1.1h-1.1zM147.0 137.7h1.1v1.1h-1.1zM220.9 132.6h1.1v1.1h-1.1zM116.2 141.9h1.1v1.1h-1.1zM133.9 145.6h1.1v1.1h-1.1zM208.8 136.6h1.1v1.1h-1.1zM92.4 139.8h1.1v1.1h-1.1zM192.9 144.4h1.1v1.1h-1.1zM220.0 137.7h1.1v1.1h-1.1zM93.6 140.1h1.1v1.1h-1.1zM213.8 138.2h1.1v1.1h-1.1zM178.1 144.2h1.1v1.1h-1.1zM189.1 138.5h1.1v1.1h-1.1zM100.3 144.6h1.1v1.1h-1.1zM102.9 142.3h1.1v1.1h-1.1zM151.5 144.5h1.1v1.1h-1.1zM105.5 142.6h1.1v1.1h-1.1zM178.2 136.5h1.1v1.1h-1.1zM112.5 146.0h1.1v1.1h-1.1zM90.9 142.7h1.1v1.1h-1.1zM213.0 144.8h1.1v1.1h-1.1zM203.9 144.1h1.1v1.1h-1.1zM146.8 144.5h1.1v1.1h-1.1zM99.2 135.5h1.1v1.1h-1.1zM171.5 141.4h1.1v1.1h-1.1zM147.5 140.3h1.1v1.1h-1.1zM150.9 136.6h1.1v1.1h-1.1zM171.4 143.9h1.1v1.1h-1.1zM93.7 143.2h1.1v1.1h-1.1zM183.1 143.4h1.1v1.1h-1.1zM204.4 145.6h1.1v1.1h-1.1zM122.2 143.6h1.1v1.1h-1.1zM122.9 144.8h1.1v1.1h-1.1zM200.2 144.8h1.1v1.1h-1.1zM152.8 143.4h1.1v1.1h-1.1zM129.3 144.2h1.1v1.1h-1.1zM219.1 145.0h1.1v1.1h-1.1zM93.7 139.2h1.1v1.1h-1.1zM114.7 140.9h1.1v1.1h-1.1zM150.9 145.7h1.1v1.1h-1.1zM113.4 141.9h1.1v1.1h-1.1zM135.5 123.8h1.1v1.1h-1.1zM211.8 145.5h1.1v1.1h-1.1zM99.3 143.4h1.1v1.1h-1.1zM93.8 133.4h1.1v1.1h-1.1zM184.8 141.9h1.1v1.1h-1.1zM88.2 129.4h1.1v1.1h-1.1zM195.8 144.9h1.1v1.1h-1.1zM86.3 143.8h1.1v1.1h-1.1zM199.2 142.7h1.1v1.1h-1.1zM145.2 146.1h1.1v1.1h-1.1zM210.0 145.1h1.1v1.1h-1.1zM104.8 138.5h1.1v1.1h-1.1zM110.5 145.5h1.1v1.1h-1.1zM112.8 136.6h1.1v1.1h-1.1zM96.8 139.2h1.1v1.1h-1.1zM153.4 142.2h1.1v1.1h-1.1zM123.2 144.4h1.1v1.1h-1.1zM182.3 138.2h1.1v1.1h-1.1zM196.4 143.0h1.1v1.1h-1.1zM94.9 144.6h1.1v1.1h-1.1zM185.6 138.1h1.1v1.1h-1.1zM93.5 141.1h1.1v1.1h-1.1zM196.2 140.4h1.1v1.1h-1.1zM203.6 136.1h1.1v1.1h-1.1zM153.1 132.6h1.1v1.1h-1.1zM150.8 145.4h1.1v1.1h-1.1zM204.6 146.4h1.1v1.1h-1.1zM199.1 142.7h1.1v1.1h-1.1zM135.9 143.6h1.1v1.1h-1.1zM166.9 141.4h1.1v1.1h-1.1zM86.6 139.8h1.1v1.1h-1.1zM156.1 145.9h1.1v1.1h-1.1zM102.4 144.2h1.1v1.1h-1.1zM203.7 135.1h1.1v1.1h-1.1zM129.7 145.3h1.1v1.1h-1.1zM188.2 140.6h1.1v1.1h-1.1zM94.3 135.6h1.1v1.1h-1.1zM153.3 135.2h1.1v1.1h-1.1zM155.8 138.9h1.1v1.1h-1.1zM88.8 145.3h1.1v1.1h-1.1zM217.6 146.1h1.1v1.1h-1.1zM100.0 142.7h1.1v1.1h-1.1zM120.1 146.1h1.1v1.1h-1.1zM99.1 145.3h1.1v1.1h-1.1zM181.1 146.4h1.1v1.1h-1.1zM167.5 145.6h1.1v1.1h-1.1zM164.4 136.8h1.1v1.1h-1.1zM100.0 145.3h1.1v1.1h-1.1zM204.3 146.4h1.1v1.1h-1.1zM102.7 144.9h1.1v1.1h-1.1zM153.1 141.5h1.1v1.1h-1.1zM102.6 146.8h1.1v1.1h-1.1zM141.2 141.1h1.1v1.1h-1.1zM203.1 140.2h1.1v1.1h-1.1zM106.0 137.1h1.1v1.1h-1.1zM108.3 142.0h1.1v1.1h-1.1zM198.3 140.8h1.1v1.1h-1.1zM143.2 144.3h1.1v1.1h-1.1zM200.2 140.4h1.1v1.1h-1.1zM214.0 145.8h1.1v1.1h-1.1zM191.7 144.3h1.1v1.1h-1.1zM131.6 142.7h1.1v1.1h-1.1zM145.2 135.1h1.1v1.1h-1.1zM210.1 145.4h1.1v1.1h-1.1zM196.8 145.6h1.1v1.1h-1.1zM156.4 145.0h1.1v1.1h-1.1zM216.3 142.3h1.1v1.1h-1.1zM143.4 144.8h1.1v1.1h-1.1zM172.0 141.5h1.1v1.1h-1.1zM95.4 140.8h1.1v1.1h-1.1zM144.9 145.5h1.1v1.1h-1.1zM105.0 146.8h1.1v1.1h-1.1zM217.9 144.3h1.1v1.1h-1.1zM172.1 131.7h1.1v1.1h-1.1zM196.1 136.7h1.1v1.1h-1.1zM90.7 137.8h1.1v1.1h-1.1zM173.3 145.8h1.1v1.1h-1.1zM123.2 137.1h1.1v1.1h-1.1zM159.7 138.7h1.1v1.1h-1.1zM120.1 142.7h1.1v1.1h-1.1zM156.8 132.2h1.1v1.1h-1.1zM125.1 140.3h1.1v1.1h-1.1zM127.5 144.8h1.1v1.1h-1.1zM166.8 144.2h1.1v1.1h-1.1zM216.0 141.7h1.1v1.1h-1.1zM149.4 146.4h1.1v1.1h-1.1zM158.6 144.8h1.1v1.1h-1.1zM103.9 144.1h1.1v1.1h-1.1zM125.9 142.3h1.1v1.1h-1.1zM119.1 143.8h1.1v1.1h-1.1zM97.9 134.9h1.1v1.1h-1.1zM169.0 143.2h1.1v1.1h-1.1zM163.5 144.2h1.1v1.1h-1.1zM182.6 143.3h1.1v1.1h-1.1zM148.7 138.3h1.1v1.1h-1.1zM149.8 144.1h1.1v1.1h-1.1zM128.2 146.6h1.1v1.1h-1.1zM155.7 142.2h1.1v1.1h-1.1zM138.1 145.9h1.1v1.1h-1.1zM134.0 146.3h1.1v1.1h-1.1zM203.2 146.2h1.1v1.1h-1.1zM152.8 138.5h1.1v1.1h-1.1zM124.7 141.4h1.1v1.1h-1.1zM191.0 146.4h1.1v1.1h-1.1zM107.6 134.8h1.1v1.1h-1.1zM145.8 141.4h1.1v1.1h-1.1zM94.4 141.5h1.1v1.1h-1.1zM186.0 142.3h1.1v1.1h-1.1zM100.9 144.2h1.1v1.1h-1.1zM186.5 130.6h1.1v1.1h-1.1zM107.0 143.6h1.1v1.1h-1.1zM177.8 141.6h1.1v1.1h-1.1zM169.8 139.7h1.1v1.1h-1.1zM156.4 137.0h1.1v1.1h-1.1zM186.5 146.3h1.1v1.1h-1.1zM150.6 135.8h1.1v1.1h-1.1zM192.8 143.1h1.1v1.1h-1.1zM103.3 132.9h1.1v1.1h-1.1zM204.4 135.7h1.1v1.1h-1.1zM165.7 146.5h1.1v1.1h-1.1zM153.7 138.6h1.1v1.1h-1.1zM142.8 144.8h1.1v1.1h-1.1zM192.6 140.6h1.1v1.1h-1.1zM137.6 140.4h1.1v1.1h-1.1zM147.5 136.7h1.1v1.1h-1.1zM125.8 144.1h1.1v1.1h-1.1zM139.1 140.8h1.1v1.1h-1.1zM129.8 144.6h1.1v1.1h-1.1zM193.0 142.3h1.1v1.1h-1.1zM146.4 140.6h1.1v1.1h-1.1zM111.1 145.6h1.1v1.1h-1.1zM164.3 143.4h1.1v1.1h-1.1zM165.1 134.4h1.1v1.1h-1.1zM130.0 139.1h1.1v1.1h-1.1zM200.7 138.2h1.1v1.1h-1.1zM113.8 132.8h1.1v1.1h-1.1zM144.0 146.0h1.1v1.1h-1.1zM92.5 146.3h1.1v1.1h-1.1zM162.8 132.2h1.1v1.1h-1.1zM191.2 146.6h1.1v1.1h-1.1zM159.2 139.0h1.1v1.1h-1.1zM156.3 146.7h1.1v1.1h-1.1zM179.2 142.1h1.1v1.1h-1.1zM166.9 142.9h1.1v1.1h-1.1zM133.8 137.6h1.1v1.1h-1.1zM157.4 143.7h1.1v1.1h-1.1zM99.5 142.2h1.1v1.1h-1.1zM162.3 142.1h1.1v1.1h-1.1zM164.1 134.6h1.1v1.1h-1.1zM152.2 135.3h1.1v1.1h-1.1zM145.9 131.4h1.1v1.1h-1.1zM132.7 131.5h1.1v1.1h-1.1zM158.1 145.2h1.1v1.1h-1.1zM129.3 143.2h1.1v1.1h-1.1zM219.1 143.2h1.1v1.1h-1.1zM101.0 139.9h1.1v1.1h-1.1zM207.7 142.4h1.1v1.1h-1.1zM220.7 135.6h1.1v1.1h-1.1zM206.8 143.5h1.1v1.1h-1.1zM125.4 145.0h1.1v1.1h-1.1zM155.6 142.6h1.1v1.1h-1.1zM110.8 146.7h1.1v1.1h-1.1zM171.7 142.0h1.1v1.1h-1.1zM221.1 143.1h1.1v1.1h-1.1zM172.6 140.3h1.1v1.1h-1.1zM193.1 145.0h1.1v1.1h-1.1zM127.7 146.6h1.1v1.1h-1.1zM127.4 146.3h1.1v1.1h-1.1zM200.5 138.5h1.1v1.1h-1.1zM112.7 141.8h1.1v1.1h-1.1zM153.7 142.0h1.1v1.1h-1.1zM174.0 145.1h1.1v1.1h-1.1zM158.3 138.3h1.1v1.1h-1.1zM141.9 146.6h1.1v1.1h-1.1zM102.5 140.7h1.1v1.1h-1.1zM100.5 137.7h1.1v1.1h-1.1zM99.6 143.0h1.1v1.1h-1.1zM197.9 139.9h1.1v1.1h-1.1zM169.4 146.0h1.1v1.1h-1.1zM87.7 144.6h1.1v1.1h-1.1zM190.8 142.2h1.1v1.1h-1.1zM134.1 137.6h1.1v1.1h-1.1zM109.0 146.5h1.1v1.1h-1.1zM208.9 143.8h1.1v1.1h-1.1zM165.2 142.7h1.1v1.1h-1.1zM138.4 141.0h1.1v1.1h-1.1zM93.4 140.2h1.1v1.1h-1.1zM216.5 141.3h1.1v1.1h-1.1zM145.8 143.2h1.1v1.1h-1.1zM92.0 143.4h1.1v1.1h-1.1zM212.6 143.3h1.1v1.1h-1.1zM208.2 142.3h1.1v1.1h-1.1zM197.0 143.9h1.1v1.1h-1.1zM216.6 138.5h1.1v1.1h-1.1zM153.4 142.2h1.1v1.1h-1.1zM139.0 145.3h1.1v1.1h-1.1zM183.7 145.8h1.1v1.1h-1.1zM205.0 141.3h1.1v1.1h-1.1zM151.9 145.5h1.1v1.1h-1.1zM109.6 142.1h1.1v1.1h-1.1zM134.7 140.1h1.1v1.1h-1.1zM125.5 130.8h1.1v1.1h-1.1zM162.4 140.8h1.1v1.1h-1.1zM138.4 141.5h1.1v1.1h-1.1zM140.8 143.7h1.1v1.1h-1.1zM198.3 145.5h1.1v1.1h-1.1zM133.8 146.7h1.1v1.1h-1.1zM124.6 142.6h1.1v1.1h-1.1zM118.3 137.4h1.1v1.1h-1.1zM132.4 144.7h1.1v1.1h-1.1zM107.2 146.0h1.1v1.1h-1.1zM122.7 144.0h1.1v1.1h-1.1zM199.6 141.9h1.1v1.1h-1.1zM199.7 141.7h1.1v1.1h-1.1zM195.5 143.5h1.1v1.1h-1.1zM184.3 141.7h1.1v1.1h-1.1zM137.3 142.5h1.1v1.1h-1.1zM215.3 145.7h1.1v1.1h-1.1zM154.7 145.8h1.1v1.1h-1.1zM103.8 139.7h1.1v1.1h-1.1zM182.1 145.9h1.1v1.1h-1.1zM165.9 132.9h1.1v1.1h-1.1zM136.0 146.6h1.1v1.1h-1.1zM114.9 137.9h1.1v1.1h-1.1zM204.6 141.2h1.1v1.1h-1.1zM159.8 141.4h1.1v1.1h-1.1zM122.8 145.9h1.1v1.1h-1.1zM175.4 140.5h1.1v1.1h-1.1zM163.2 144.4h1.1v1.1h-1.1zM97.7 140.8h1.1v1.1h-1.1zM110.1 143.4h1.1v1.1h-1.1zM176.1 142.2h1.1v1.1h-1.1zM100.8 141.1h1.1v1.1h-1.1zM154.0 144.5h1.1v1.1h-1.1zM126.4 141.7h1.1v1.1h-1.1zM116.8 144.5h1.1v1.1h-1.1zM103.2 145.7h1.1v1.1h-1.1zM140.9 141.6h1.1v1.1h-1.1zM209.6 144.7h1.1v1.1h-1.1zM203.1 133.5h1.1v1.1h-1.1zM104.0 146.5h1.1v1.1h-1.1zM178.4 145.2h1.1v1.1h-1.1zM176.3 142.8h1.1v1.1h-1.1zM175.6 141.4h1.1v1.1h-1.1zM181.1 146.7h1.1v1.1h-1.1zM133.9 134.2h1.1v1.1h-1.1zM171.5 145.5h1.1v1.1h-1.1zM210.1 143.9h1.1v1.1h-1.1zM185.8 146.4h1.1v1.1h-1.1zM91.4 145.0h1.1v1.1h-1.1zM108.0 145.0h1.1v1.1h-1.1zM137.8 141.6h1.1v1.1h-1.1zM91.3 143.3h1.1v1.1h-1.1zM110.4 138.2h1.1v1.1h-1.1zM200.2 137.5h1.1v1.1h-1.1zM120.6 142.4h1.1v1.1h-1.1zM145.2 144.4h1.1v1.1h-1.1zM86.1 141.3h1.1v1.1h-1.1zM199.5 145.9h1.1v1.1h-1.1zM91.8 141.5h1.1v1.1h-1.1zM202.2 145.2h1.1v1.1h-1.1zM119.2 145.5h1.1v1.1h-1.1zM101.1 145.7h1.1v1.1h-1.1zM210.4 142.5h1.1v1.1h-1.1zM187.9 138.2h1.1v1.1h-1.1zM139.5 141.6h1.1v1.1h-1.1zM187.7 144.3h1.1v1.1h-1.1zM98.2 142.2h1.1v1.1h-1.1zM214.7 133.5h1.1v1.1h-1.1zM180.1 139.9h1.1v1.1h-1.1zM186.5 142.4h1.1v1.1h-1.1zM147.6 138.8h1.1v1.1h-1.1zM93.4 144.6h1.1v1.1h-1.1zM155.6 140.3h1.1v1.1h-1.1zM212.2 139.1h1.1v1.1h-1.1zM91.9 138.9h1.1v1.1h-1.1zM181.6 145.1h1.1v1.1h-1.1zM160.3 142.0h1.1v1.1h-1.1zM217.8 141.5h1.1v1.1h-1.1zM120.0 140.6h1.1v1.1h-1.1zM94.1 142.6h1.1v1.1h-1.1zM113.4 141.6h1.1v1.1h-1.1zM128.2 140.1h1.1v1.1h-1.1zM177.2 139.1h1.1v1.1h-1.1zM118.4 146.4h1.1v1.1h-1.1zM146.5 139.0h1.1v1.1h-1.1zM213.3 143.5h1.1v1.1h-1.1zM206.3 142.4h1.1v1.1h-1.1zM105.3 141.4h1.1v1.1h-1.1zM196.9 144.5h1.1v1.1h-1.1zM160.6 146.5h1.1v1.1h-1.1zM176.6 142.9h1.1v1.1h-1.1zM167.4 136.0h1.1v1.1h-1.1zM199.0 144.1h1.1v1.1h-1.1zM101.6 145.3h1.1v1.1h-1.1zM114.1 140.8h1.1v1.1h-1.1zM94.2 146.0h1.1v1.1h-1.1zM181.4 142.6h1.1v1.1h-1.1zM146.9 142.4h1.1v1.1h-1.1zM149.7 143.0h1.1v1.1h-1.1zM135.4 145.6h1.1v1.1h-1.1zM87.5 144.6h1.1v1.1h-1.1zM220.9 146.8h1.1v1.1h-1.1zM183.5 144.1h1.1v1.1h-1.1zM219.3 143.9h1.1v1.1h-1.1zM152.5 145.6h1.1v1.1h-1.1zM145.1 143.8h1.1v1.1h-1.1zM87.1 139.2h1.1v1.1h-1.1zM211.1 141.2h1.1v1.1h-1.1zM213.2 139.6h1.1v1.1h-1.1zM174.8 146.8h1.1v1.1h-1.1zM104.9 141.9h1.1v1.1h-1.1zM89.8 144.9h1.1v1.1h-1.1zM126.3 134.5h1.1v1.1h-1.1zM111.3 138.7h1.1v1.1h-1.1zM212.0 137.2h1.1v1.1h-1.1zM108.9 144.2h1.1v1.1h-1.1zM187.0 134.8h1.1v1.1h-1.1zM130.4 141.9h1.1v1.1h-1.1zM129.5 135.7h1.1v1.1h-1.1zM136.1 140.9h1.1v1.1h-1.1zM199.1 144.8h1.1v1.1h-1.1zM118.6 138.7h1.1v1.1h-1.1zM171.4 144.6h1.1v1.1h-1.1zM197.5 142.9h1.1v1.1h-1.1zM214.5 133.2h1.1v1.1h-1.1zM153.2 143.0h1.1v1.1h-1.1zM126.7 146.8h1.1v1.1h-1.1zM165.0 138.1h1.1v1.1h-1.1zM108.3 142.0h1.1v1.1h-1.1zM146.3 144.0h1.1v1.1h-1.1zM91.4 146.3h1.1v1.1h-1.1zM145.8 143.0h1.1v1.1h-1.1zM86.4 137.1h1.1v1.1h-1.1zM200.4 139.8h1.1v1.1h-1.1zM143.9 137.8h1.1v1.1h-1.1zM124.5 142.7h1.1v1.1h-1.1zM143.3 140.2h1.1v1.1h-1.1zM132.1 137.9h1.1v1.1h-1.1zM198.3 143.2h1.1v1.1h-1.1zM208.9 144.0h1.1v1.1h-1.1zM146.3 142.1h1.1v1.1h-1.1zM162.6 144.3h1.1v1.1h-1.1zM97.6 143.3h1.1v1.1h-1.1zM130.0 130.0h1.1v1.1h-1.1zM209.6 142.5h1.1v1.1h-1.1zM203.7 130.4h1.1v1.1h-1.1zM170.3 144.1h1.1v1.1h-1.1zM196.3 137.7h1.1v1.1h-1.1zM168.8 143.2h1.1v1.1h-1.1zM126.4 132.3h1.1v1.1h-1.1zM151.4 139.9h1.1v1.1h-1.1zM174.0 145.0h1.1v1.1h-1.1zM206.4 141.1h1.1v1.1h-1.1zM89.8 143.1h1.1v1.1h-1.1zM146.8 137.7h1.1v1.1h-1.1zM97.6 143.5h1.1v1.1h-1.1zM165.0 141.5h1.1v1.1h-1.1zM142.6 138.6h1.1v1.1h-1.1zM139.9 145.2h1.1v1.1h-1.1zM101.5 141.0h1.1v1.1h-1.1zM160.5 134.4h1.1v1.1h-1.1zM101.3 143.6h1.1v1.1h-1.1zM98.9 143.0h1.1v1.1h-1.1zM158.2 146.7h1.1v1.1h-1.1zM161.3 139.3h1.1v1.1h-1.1zM116.8 143.9h1.1v1.1h-1.1zM155.8 145.4h1.1v1.1h-1.1zM166.0 141.0h1.1v1.1h-1.1zM96.0 143.6h1.1v1.1h-1.1zM145.8 141.4h1.1v1.1h-1.1zM183.2 140.6h1.1v1.1h-1.1zM188.9 131.9h1.1v1.1h-1.1zM184.1 133.7h1.1v1.1h-1.1zM99.9 143.7h1.1v1.1h-1.1zM109.3 141.1h1.1v1.1h-1.1zM216.6 136.4h1.1v1.1h-1.1zM104.6 142.5h1.1v1.1h-1.1zM191.6 142.3h1.1v1.1h-1.1zM136.6 145.1h1.1v1.1h-1.1zM88.1 143.1h1.1v1.1h-1.1zM126.8 144.3h1.1v1.1h-1.1zM182.2 134.6h1.1v1.1h-1.1zM170.5 140.7h1.1v1.1h-1.1zM204.6 133.4h1.1v1.1h-1.1zM204.4 141.2h1.1v1.1h-1.1zM108.8 146.6h1.1v1.1h-1.1zM189.9 140.9h1.1v1.1h-1.1zM178.6 145.3h1.1v1.1h-1.1zM136.7 143.8h1.1v1.1h-1.1zM186.3 137.0h1.1v1.1h-1.1zM91.9 143.5h1.1v1.1h-1.1zM168.1 140.2h1.1v1.1h-1.1zM195.2 142.0h1.1v1.1h-1.1zM101.4 138.1h1.1v1.1h-1.1zM120.6 142.4h1.1v1.1h-1.1zM112.3 135.1h1.1v1.1h-1.1zM165.1 142.7h1.1v1.1h-1.1zM101.4 143.7h1.1v1.1h-1.1zM194.9 146.4h1.1v1.1h-1.1zM111.2 141.7h1.1v1.1h-1.1zM179.5 145.0h1.1v1.1h-1.1zM137.8 138.6h1.1v1.1h-1.1zM159.2 136.4h1.1v1.1h-1.1zM179.8 141.1h1.1v1.1h-1.1zM87.9 132.0h1.1v1.1h-1.1zM132.6 142.3h1.1v1.1h-1.1zM204.7 140.6h1.1v1.1h-1.1zM194.9 142.8h1.1v1.1h-1.1zM197.3 145.9h1.1v1.1h-1.1zM178.4 141.0h1.1v1.1h-1.1zM107.5 142.2h1.1v1.1h-1.1zM200.9 136.4h1.1v1.1h-1.1zM169.1 138.6h1.1v1.1h-1.1zM96.3 144.6h1.1v1.1h-1.1zM207.6 142.8h1.1v1.1h-1.1zM166.1 143.0h1.1v1.1h-1.1zM135.1 145.7h1.1v1.1h-1.1zM149.6 141.1h1.1v1.1h-1.1zM134.1 143.8h1.1v1.1h-1.1zM86.8 141.7h1.1v1.1h-1.1zM88.8 144.0h1.1v1.1h-1.1zM148.5 144.8h1.1v1.1h-1.1zM105.8 146.6h1.1v1.1h-1.1zM177.3 146.1h1.1v1.1h-1.1zM154.0 141.7h1.1v1.1h-1.1zM121.6 139.6h1.1v1.1h-1.1zM216.1 143.5h1.1v1.1h-1.1zM220.9 138.7h1.1v1.1h-1.1zM190.8 145.0h1.1v1.1h-1.1zM204.6 145.4h1.1v1.1h-1.1zM172.3 137.7h1.1v1.1h-1.1zM135.4 144.5h1.1v1.1h-1.1zM204.7 135.4h1.1v1.1h-1.1zM213.7 144.5h1.1v1.1h-1.1zM189.8 141.8h1.1v1.1h-1.1zM186.6 137.6h1.1v1.1h-1.1zM133.7 146.3h1.1v1.1h-1.1zM160.9 144.9h1.1v1.1h-1.1zM131.9 145.5h1.1v1.1h-1.1zM130.0 139.4h1.1v1.1h-1.1zM136.0 146.3h1.1v1.1h-1.1zM119.1 146.2h1.1v1.1h-1.1zM104.4 140.8h1.1v1.1h-1.1zM87.0 141.9h1.1v1.1h-1.1zM146.6 141.6h1.1v1.1h-1.1zM163.3 145.5h1.1v1.1h-1.1zM95.0 143.1h1.1v1.1h-1.1zM127.0 143.0h1.1v1.1h-1.1zM161.0 137.0h1.1v1.1h-1.1zM213.5 138.9h1.1v1.1h-1.1zM165.3 134.5h1.1v1.1h-1.1zM96.9 143.1h1.1v1.1h-1.1zM220.3 139.1h1.1v1.1h-1.1zM134.5 145.7h1.1v1.1h-1.1zM204.1 140.0h1.1v1.1h-1.1zM95.2 132.9h1.1v1.1h-1.1zM123.5 145.4h1.1v1.1h-1.1zM121.0 142.9h1.1v1.1h-1.1zM122.5 146.2h1.1v1.1h-1.1zM181.8 145.5h1.1v1.1h-1.1zM113.2 140.4h1.1v1.1h-1.1zM168.0 140.6h1.1v1.1h-1.1zM112.8 139.7h1.1v1.1h-1.1zM185.8 138.2h1.1v1.1h-1.1zM96.8 144.8h1.1v1.1h-1.1zM196.1 142.6h1.1v1.1h-1.1zM104.6 142.6h1.1v1.1h-1.1zM111.6 133.9h1.1v1.1h-1.1zM173.0 143.7h1.1v1.1h-1.1zM211.5 145.4h1.1v1.1h-1.1zM187.9 141.2h1.1v1.1h-1.1zM174.3 138.7h1.1v1.1h-1.1zM131.9 141.3h1.1v1.1h-1.1zM93.8 145.1h1.1v1.1h-1.1zM171.2 145.8h1.1v1.1h-1.1zM131.5 138.0h1.1v1.1h-1.1zM121.0 146.5h1.1v1.1h-1.1zM149.0 132.0h1.1v1.1h-1.1zM162.7 145.5h1.1v1.1h-1.1zM220.3 138.4h1.1v1.1h-1.1zM184.5 143.7h1.1v1.1h-1.1zM130.8 143.6h1.1v1.1h-1.1zM105.4 144.7h1.1v1.1h-1.1zM190.3 136.7h1.1v1.1h-1.1zM143.6 140.4h1.1v1.1h-1.1zM159.3 139.8h1.1v1.1h-1.1zM175.4 142.4h1.1v1.1h-1.1zM167.8 141.6h1.1v1.1h-1.1zM121.1 137.5h1.1v1.1h-1.1zM182.8 145.9h1.1v1.1h-1.1zM128.1 135.6h1.1v1.1h-1.1zM191.1 139.7h1.1v1.1h-1.1zM123.8 145.8h1.1v1.1h-1.1zM157.2 143.6h1.1v1.1h-1.1zM87.2 145.5h1.1v1.1h-1.1zM150.7 140.5h1.1v1.1h-1.1zM135.3 137.5h1.1v1.1h-1.1zM220.6 145.3h1.1v1.1h-1.1zM98.2 136.0h1.1v1.1h-1.1zM89.8 145.3h1.1v1.1h-1.1zM154.3 145.1h1.1v1.1h-1.1zM161.5 140.4h1.1v1.1h-1.1zM135.7 132.8h1.1v1.1h-1.1zM106.3 142.1h1.1v1.1h-1.1zM211.3 137.3h1.1v1.1h-1.1zM108.0 135.7h1.1v1.1h-1.1zM119.0 144.8h1.1v1.1h-1.1zM219.6 137.6h1.1v1.1h-1.1zM132.8 146.7h1.1v1.1h-1.1zM194.9 141.2h1.1v1.1h-1.1zM208.9 145.4h1.1v1.1h-1.1zM100.7 146.6h1.1v1.1h-1.1zM173.8 144.4h1.1v1.1h-1.1zM140.7 145.3h1.1v1.1h-1.1zM162.7 145.1h1.1v1.1h-1.1zM141.8 133.1h1.1v1.1h-1.1zM171.3 139.2h1.1v1.1h-1.1zM116.5 146.7h1.1v1.1h-1.1zM145.0 141.7h1.1v1.1h-1.1zM117.5 143.6h1.1v1.1h-1.1zM173.4 136.3h1.1v1.1h-1.1zM126.6 142.3h1.1v1.1h-1.1zM163.5 146.6h1.1v1.1h-1.1zM107.3 138.2h1.1v1.1h-1.1zM122.3 136.9h1.1v1.1h-1.1zM188.2 144.5h1.1v1.1h-1.1zM131.1 142.0h1.1v1.1h-1.1zM152.0 143.8h1.1v1.1h-1.1zM178.9 144.4h1.1v1.1h-1.1zM167.3 138.6h1.1v1.1h-1.1zM206.1 144.3h1.1v1.1h-1.1zM114.5 142.2h1.1v1.1h-1.1zM192.1 142.7h1.1v1.1h-1.1zM203.4 141.4h1.1v1.1h-1.1zM221.3 135.0h1.1v1.1h-1.1zM126.5 143.7h1.1v1.1h-1.1zM218.5 146.3h1.1v1.1h-1.1zM87.3 143.6h1.1v1.1h-1.1zM186.1 144.8h1.1v1.1h-1.1zM99.3 142.0h1.1v1.1h-1.1zM98.3 138.2h1.1v1.1h-1.1zM132.2 137.8h1.1v1.1h-1.1zM205.9 141.7h1.1v1.1h-1.1zM219.2 142.1h1.1v1.1h-1.1zM193.7 145.8h1.1v1.1h-1.1zM179.8 139.3h1.1v1.1h-1.1zM117.5 145.0h1.1v1.1h-1.1zM144.5 145.8h1.1v1.1h-1.1zM220.7 146.0h1.1v1.1h-1.1zM129.0 144.4h1.1v1.1h-1.1zM152.3 144.5h1.1v1.1h-1.1zM104.5 143.1h1.1v1.1h-1.1zM179.2 145.0h1.1v1.1h-1.1zM106.1 146.2h1.1v1.1h-1.1zM101.3 139.2h1.1v1.1h-1.1zM134.1 132.2h1.1v1.1h-1.1zM133.5 146.5h1.1v1.1h-1.1zM115.3 133.6h1.1v1.1h-1.1zM185.5 144.1h1.1v1.1h-1.1zM123.1 144.5h1.1v1.1h-1.1zM95.4 142.2h1.1v1.1h-1.1zM91.9 140.2h1.1v1.1h-1.1zM161.7 146.4h1.1v1.1h-1.1zM135.3 136.9h1.1v1.1h-1.1zM174.8 146.1h1.1v1.1h-1.1zM160.0 137.3h1.1v1.1h-1.1zM219.6 143.8h1.1v1.1h-1.1zM204.9 145.5h1.1v1.1h-1.1zM129.3 140.4h1.1v1.1h-1.1zM143.0 140.5h1.1v1.1h-1.1zM138.4 145.7h1.1v1.1h-1.1zM141.8 132.3h1.1v1.1h-1.1zM86.7 128.6h1.1v1.1h-1.1zM168.7 142.3h1.1v1.1h-1.1zM169.1 144.6h1.1v1.1h-1.1zM137.3 146.5h1.1v1.1h-1.1zM101.8 142.5h1.1v1.1h-1.1zM200.7 143.8h1.1v1.1h-1.1zM92.7 132.9h1.1v1.1h-1.1zM180.4 142.6h1.1v1.1h-1.1zM160.7 138.4h1.1v1.1h-1.1zM128.9 146.5h1.1v1.1h-1.1zM187.5 146.8h1.1v1.1h-1.1zM202.1 138.1h1.1v1.1h-1.1zM221.3 146.2h1.1v1.1h-1.1zM117.9 139.4h1.1v1.1h-1.1zM137.5 139.0h1.1v1.1h-1.1zM182.9 140.6h1.1v1.1h-1.1zM169.3 141.9h1.1v1.1h-1.1zM178.1 142.8h1.1v1.1h-1.1zM159.9 138.6h1.1v1.1h-1.1zM116.4 142.9h1.1v1.1h-1.1zM209.6 143.5h1.1v1.1h-1.1zM150.4 145.4h1.1v1.1h-1.1zM150.8 139.0h1.1v1.1h-1.1zM116.1 137.5h1.1v1.1h-1.1zM157.9 135.2h1.1v1.1h-1.1zM157.3 135.1h1.1v1.1h-1.1zM118.5 144.8h1.1v1.1h-1.1zM109.4 143.6h1.1v1.1h-1.1zM173.1 140.3h1.1v1.1h-1.1zM198.5 136.5h1.1v1.1h-1.1zM91.9 138.7h1.1v1.1h-1.1zM137.9 140.9h1.1v1.1h-1.1zM102.7 136.4h1.1v1.1h-1.1zM106.9 146.8h1.1v1.1h-1.1zM134.5 143.8h1.1v1.1h-1.1zM195.2 139.7h1.1v1.1h-1.1zM98.0 145.8h1.1v1.1h-1.1zM139.8 136.8h1.1v1.1h-1.1zM147.1 146.6h1.1v1.1h-1.1zM151.1 143.5h1.1v1.1h-1.1zM106.4 136.3h1.1v1.1h-1.1zM178.5 141.5h1.1v1.1h-1.1zM118.3 141.0h1.1v1.1h-1.1zM136.4 143.4h1.1v1.1h-1.1zM88.4 141.4h1.1v1.1h-1.1zM113.3 144.8h1.1v1.1h-1.1zM110.3 145.8h1.1v1.1h-1.1zM183.7 145.9h1.1v1.1h-1.1zM118.9 141.1h1.1v1.1h-1.1zM199.4 139.0h1.1v1.1h-1.1zM202.8 141.8h1.1v1.1h-1.1zM113.4 136.6h1.1v1.1h-1.1zM170.0 141.4h1.1v1.1h-1.1zM136.5 140.0h1.1v1.1h-1.1zM135.9 144.9h1.1v1.1h-1.1zM182.9 144.9h1.1v1.1h-1.1zM174.2 140.4h1.1v1.1h-1.1zM196.3 143.0h1.1v1.1h-1.1zM164.7 141.7h1.1v1.1h-1.1zM211.8 140.6h1.1v1.1h-1.1zM182.8 130.6h1.1v1.1h-1.1zM136.6 143.9h1.1v1.1h-1.1zM95.6 141.8h1.1v1.1h-1.1zM188.8 141.0h1.1v1.1h-1.1zM153.5 141.3h1.1v1.1h-1.1zM208.6 146.7h1.1v1.1h-1.1zM166.6 145.3h1.1v1.1h-1.1zM148.9 134.7h1.1v1.1h-1.1zM142.4 143.9h1.1v1.1h-1.1zM150.4 141.4h1.1v1.1h-1.1zM152.8 142.4h1.1v1.1h-1.1zM155.6 142.4h1.1v1.1h-1.1zM186.7 138.2h1.1v1.1h-1.1zM140.6 137.3h1.1v1.1h-1.1zM161.3 144.3h1.1v1.1h-1.1zM190.6 146.4h1.1v1.1h-1.1zM116.0 143.6h1.1v1.1h-1.1zM96.5 145.6h1.1v1.1h-1.1zM98.0 144.1h1.1v1.1h-1.1zM188.5 144.8h1.1v1.1h-1.1zM178.6 145.9h1.1v1.1h-1.1zM182.7 144.6h1.1v1.1h-1.1zM180.0 146.6h1.1v1.1h-1.1zM142.8 126.9h1.1v1.1h-1.1zM197.1 135.2h1.1v1.1h-1.1zM204.6 143.2h1.1v1.1h-1.1zM156.5 142.2h1.1v1.1h-1.1zM86.8 141.6h1.1v1.1h-1.1zM121.7 146.4h1.1v1.1h-1.1zM128.6 146.4h1.1v1.1h-1.1zM161.6 133.9h1.1v1.1h-1.1zM155.5 145.0h1.1v1.1h-1.1zM127.4 145.8h1.1v1.1h-1.1zM203.9 142.7h1.1v1.1h-1.1zM121.0 134.7h1.1v1.1h-1.1zM113.5 139.2h1.1v1.1h-1.1zM136.8 144.2h1.1v1.1h-1.1zM149.1 138.2h1.1v1.1h-1.1zM135.7 146.2h1.1v1.1h-1.1zM195.0 142.3h1.1v1.1h-1.1zM161.6 132.9h1.1v1.1h-1.1zM93.0 143.6h1.1v1.1h-1.1zM141.6 139.4h1.1v1.1h-1.1zM162.8 144.5h1.1v1.1h-1.1zM194.3 142.1h1.1v1.1h-1.1zM125.6 143.9h1.1v1.1h-1.1zM166.5 135.5h1.1v1.1h-1.1zM147.8 140.3h1.1v1.1h-1.1zM205.4 144.0h1.1v1.1h-1.1zM93.8 138.3h1.1v1.1h-1.1zM92.7 143.0h1.1v1.1h-1.1zM203.3 138.9h1.1v1.1h-1.1zM110.5 143.0h1.1v1.1h-1.1zM211.4 136.0h1.1v1.1h-1.1zM153.8 142.4h1.1v1.1h-1.1zM177.6 144.3h1.1v1.1h-1.1zM114.7 142.0h1.1v1.1h-1.1zM200.0 137.9h1.1v1.1h-1.1zM114.1 135.3h1.1v1.1h-1.1zM99.7 137.4h1.1v1.1h-1.1zM215.3 140.4h1.1v1.1h-1.1zM142.4 144.1h1.1v1.1h-1.1zM209.2 142.6h1.1v1.1h-1.1zM179.3 145.6h1.1v1.1h-1.1zM180.6 145.0h1.1v1.1h-1.1zM91.7 144.0h1.1v1.1h-1.1zM117.6 142.2h1.1v1.1h-1.1zM165.2 143.3h1.1v1.1h-1.1zM106.9 139.2h1.1v1.1h-1.1zM210.0 141.2h1.1v1.1h-1.1zM106.7 135.7h1.1v1.1h-1.1zM194.7 140.4h1.1v1.1h-1.1zM90.5 146.0h1.1v1.1h-1.1zM137.7 143.9h1.1v1.1h-1.1zM160.2 143.2h1.1v1.1h-1.1zM98.7 136.6h1.1v1.1h-1.1zM144.5 144.5h1.1v1.1h-1.1zM178.3 137.6h1.1v1.1h-1.1zM102.6 138.8h1.1v1.1h-1.1zM211.6 131.4h1.1v1.1h-1.1zM157.6 146.4h1.1v1.1h-1.1zM125.5 140.5h1.1v1.1h-1.1zM153.5 138.0h1.1v1.1h-1.1zM212.5 140.6h1.1v1.1h-1.1zM203.5 142.7h1.1v1.1h-1.1zM167.3 144.1h1.1v1.1h-1.1zM105.0 146.1h1.1v1.1h-1.1zM122.9 137.0h1.1v1.1h-1.1zM116.9 139.0h1.1v1.1h-1.1zM211.7 138.2h1.1v1.1h-1.1zM217.6 145.0h1.1v1.1h-1.1zM132.8 137.9h1.1v1.1h-1.1zM92.8 143.5h1.1v1.1h-1.1zM131.3 142.1h1.1v1.1h-1.1zM187.0 145.3h1.1v1.1h-1.1zM110.3 145.5h1.1v1.1h-1.1zM95.4 141.5h1.1v1.1h-1.1zM162.0 140.0h1.1v1.1h-1.1zM193.2 142.1h1.1v1.1h-1.1zM167.0 145.1h1.1v1.1h-1.1zM155.8 146.4h1.1v1.1h-1.1zM99.2 144.7h1.1v1.1h-1.1zM164.6 144.0h1.1v1.1h-1.1zM134.0 140.0h1.1v1.1h-1.1zM108.3 140.0h1.1v1.1h-1.1zM109.1 141.4h1.1v1.1h-1.1zM200.6 144.7h1.1v1.1h-1.1zM204.8 143.1h1.1v1.1h-1.1zM98.8 146.3h1.1v1.1h-1.1zM205.6 141.2h1.1v1.1h-1.1zM158.9 141.7h1.1v1.1h-1.1zM102.0 143.0h1.1v1.1h-1.1zM158.8 146.0h1.1v1.1h-1.1zM154.9 143.9h1.1v1.1h-1.1zM140.9 143.6h1.1v1.1h-1.1zM113.7 143.4h1.1v1.1h-1.1zM204.5 143.4h1.1v1.1h-1.1zM154.2 145.9h1.1v1.1h-1.1zM214.3 146.1h1.1v1.1h-1.1zM152.4 144.6h1.1v1.1h-1.1zM179.7 138.6h1.1v1.1h-1.1zM117.2 146.8h1.1v1.1h-1.1zM121.9 143.0h1.1v1.1h-1.1zM90.2 140.6h1.1v1.1h-1.1zM125.7 141.9h1.1v1.1h-1.1zM207.1 139.4h1.1v1.1h-1.1zM117.8 142.5h1.1v1.1h-1.1zM167.0 144.6h1.1v1.1h-1.1zM94.5 136.8h1.1v1.1h-1.1zM119.4 131.7h1.1v1.1h-1.1zM91.6 136.0h1.1v1.1h-1.1zM170.1 142.5h1.1v1.1h-1.1zM132.5 135.7h1.1v1.1h-1.1zM196.2 132.6h1.1v1.1h-1.1zM87.5 143.3h1.1v1.1h-1.1zM213.9 141.1h1.1v1.1h-1.1zM98.0 143.3h1.1v1.1h-1.1zM119.3 145.8h1.1v1.1h-1.1zM106.6 137.1h1.1v1.1h-1.1zM132.8 144.1h1.1v1.1h-1.1zM115.9 143.5h1.1v1.1h-1.1zM131.0 124.7h1.1v1.1h-1.1zM193.7 143.4h1.1v1.1h-1.1zM151.2 135.5h1.1v1.1h-1.1zM209.5 146.6h1.1v1.1h-1.1zM188.2 144.0h1.1v1.1h-1.1zM171.0 143.5h1.1v1.1h-1.1zM201.0 146.1h1.1v1.1h-1.1zM183.6 144.0h1.1v1.1h-1.1zM133.5 138.0h1.1v1.1h-1.1zM177.5 132.4h1.1v1.1h-1.1zM187.4 138.7h1.1v1.1h-1.1zM213.5 137.6h1.1v1.1h-1.1zM209.1 146.4h1.1v1.1h-1.1zM195.1 134.5h1.1v1.1h-1.1zM166.3 135.6h1.1v1.1h-1.1zM192.7 142.0h1.1v1.1h-1.1zM204.4 141.8h1.1v1.1h-1.1zM158.3 131.0h1.1v1.1h-1.1zM214.6 134.0h1.1v1.1h-1.1zM193.1 135.4h1.1v1.1h-1.1zM120.3 144.3h1.1v1.1h-1.1zM112.9 142.8h1.1v1.1h-1.1zM148.3 146.2h1.1v1.1h-1.1zM209.5 139.3h1.1v1.1h-1.1zM179.2 145.2h1.1v1.1h-1.1zM192.6 140.5h1.1v1.1h-1.1zM193.9 140.5h1.1v1.1h-1.1zM198.3 132.7h1.1v1.1h-1.1zM141.2 138.7h1.1v1.1h-1.1zM199.7 141.9h1.1v1.1h-1.1zM132.2 136.6h1.1v1.1h-1.1zM193.8 139.9h1.1v1.1h-1.1zM86.6 145.6h1.1v1.1h-1.1zM101.0 146.7h1.1v1.1h-1.1zM196.5 139.1h1.1v1.1h-1.1zM148.2 142.5h1.1v1.1h-1.1zM131.6 145.4h1.1v1.1h-1.1zM200.9 140.9h1.1v1.1h-1.1zM170.2 146.1h1.1v1.1h-1.1zM122.9 144.1h1.1v1.1h-1.1zM181.4 137.9h1.1v1.1h-1.1zM195.8 143.4h1.1v1.1h-1.1zM102.4 146.0h1.1v1.1h-1.1zM197.9 145.1h1.1v1.1h-1.1zM111.0 144.6h1.1v1.1h-1.1zM135.3 130.6h1.1v1.1h-1.1zM116.5 139.9h1.1v1.1h-1.1zM207.6 141.1h1.1v1.1h-1.1zM139.6 130.6h1.1v1.1h-1.1zM154.9 146.8h1.1v1.1h-1.1zM220.4 142.3h1.1v1.1h-1.1zM108.1 135.4h1.1v1.1h-1.1zM157.7 142.8h1.1v1.1h-1.1zM214.5 146.8h1.1v1.1h-1.1zM147.8 145.0h1.1v1.1h-1.1zM133.9 142.2h1.1v1.1h-1.1zM99.7 134.6h1.1v1.1h-1.1zM155.9 142.6h1.1v1.1h-1.1zM137.2 134.4h1.1v1.1h-1.1zM176.6 140.8h1.1v1.1h-1.1zM96.3 141.8h1.1v1.1h-1.1zM216.3 141.9h1.1v1.1h-1.1zM135.2 141.9h1.1v1.1h-1.1zM137.1 139.0h1.1v1.1h-1.1zM157.0 140.5h1.1v1.1h-1.1zM153.7 134.1h1.1v1.1h-1.1zM135.5 144.6h1.1v1.1h-1.1zM199.5 146.5h1.1v1.1h-1.1zM179.0 140.2h1.1v1.1h-1.1zM188.1 144.3h1.1v1.1h-1.1zM207.2 145.4h1.1v1.1h-1.1zM90.8 136.1h1.1v1.1h-1.1zM130.2 136.3h1.1v1.1h-1.1zM207.2 134.6h1.1v1.1h-1.1zM105.7 139.5h1.1v1.1h-1.1zM92.3 142.3h1.1v1.1h-1.1zM139.3 146.6h1.1v1.1h-1.1zM124.2 137.5h1.1v1.1h-1.1zM189.7 144.7h1.1v1.1h-1.1zM143.2 138.9h1.1v1.1h-1.1zM219.0 139.8h1.1v1.1h-1.1zM178.0 137.3h1.1v1.1h-1.1zM137.7 136.9h1.1v1.1h-1.1zM180.0 144.4h1.1v1.1h-1.1zM123.7 142.3h1.1v1.1h-1.1zM198.3 139.6h1.1v1.1h-1.1zM193.9 144.8h1.1v1.1h-1.1zM156.2 143.9h1.1v1.1h-1.1zM205.3 141.2h1.1v1.1h-1.1zM109.2 137.7h1.1v1.1h-1.1zM128.4 141.6h1.1v1.1h-1.1zM138.1 145.0h1.1v1.1h-1.1zM217.5 142.7h1.1v1.1h-1.1zM128.1 145.8h1.1v1.1h-1.1zM214.3 144.9h1.1v1.1h-1.1zM145.6 141.4h1.1v1.1h-1.1zM100.7 146.4h1.1v1.1h-1.1zM138.4 140.3h1.1v1.1h-1.1zM217.0 146.3h1.1v1.1h-1.1zM209.6 142.4h1.1v1.1h-1.1zM147.2 142.0h1.1v1.1h-1.1zM191.9 138.9h1.1v1.1h-1.1zM128.8 140.5h1.1v1.1h-1.1zM149.9 137.9h1.1v1.1h-1.1zM162.0 141.6h1.1v1.1h-1.1zM123.5 137.3h1.1v1.1h-1.1zM135.3 139.9h1.1v1.1h-1.1zM125.2 142.8h1.1v1.1h-1.1zM171.7 146.1h1.1v1.1h-1.1zM91.6 135.7h1.1v1.1h-1.1zM198.4 141.2h1.1v1.1h-1.1zM213.8 144.3h1.1v1.1h-1.1zM122.1 146.7h1.1v1.1h-1.1zM160.6 144.3h1.1v1.1h-1.1zM188.5 143.9h1.1v1.1h-1.1zM195.9 140.8h1.1v1.1h-1.1zM101.1 143.5h1.1v1.1h-1.1zM217.6 138.0h1.1v1.1h-1.1zM172.2 142.8h1.1v1.1h-1.1zM139.7 136.3h1.1v1.1h-1.1zM213.9 146.5h1.1v1.1h-1.1zM139.4 140.9h1.1v1.1h-1.1zM195.6 144.4h1.1v1.1h-1.1zM204.5 143.4h1.1v1.1h-1.1zM158.3 137.2h1.1v1.1h-1.1zM208.6 145.5h1.1v1.1h-1.1zM104.2 145.5h1.1v1.1h-1.1zM142.2 144.8h1.1v1.1h-1.1zM154.3 141.0h1.1v1.1h-1.1zM164.6 139.1h1.1v1.1h-1.1zM140.9 142.1h1.1v1.1h-1.1zM200.9 144.5h1.1v1.1h-1.1zM193.2 144.8h1.1v1.1h-1.1zM177.3 143.6h1.1v1.1h-1.1zM188.6 132.9h1.1v1.1h-1.1zM208.2 146.8h1.1v1.1h-1.1zM187.0 142.7h1.1v1.1h-1.1zM205.5 138.3h1.1v1.1h-1.1zM103.9 143.9h1.1v1.1h-1.1zM169.3 137.1h1.1v1.1h-1.1zM123.4 138.7h1.1v1.1h-1.1zM198.1 143.2h1.1v1.1h-1.1zM123.1 145.7h1.1v1.1h-1.1zM98.8 142.3h1.1v1.1h-1.1zM177.9 135.2h1.1v1.1h-1.1zM134.9 145.0h1.1v1.1h-1.1zM181.1 135.6h1.1v1.1h-1.1zM130.2 141.4h1.1v1.1h-1.1zM86.5 144.4h1.1v1.1h-1.1zM123.4 144.2h1.1v1.1h-1.1zM208.6 137.6h1.1v1.1h-1.1zM201.5 128.4h1.1v1.1h-1.1zM217.9 145.2h1.1v1.1h-1.1zM202.3 143.7h1.1v1.1h-1.1zM189.8 142.1h1.1v1.1h-1.1zM189.4 137.3h1.1v1.1h-1.1zM201.1 143.9h1.1v1.1h-1.1zM217.0 126.4h1.1v1.1h-1.1zM202.1 146.2h1.1v1.1h-1.1zM183.7 129.9h1.1v1.1h-1.1zM210.4 140.4h1.1v1.1h-1.1zM199.4 145.8h1.1v1.1h-1.1zM184.4 136.8h1.1v1.1h-1.1zM183.5 140.9h1.1v1.1h-1.1zM181.7 143.7h1.1v1.1h-1.1zM195.8 124.3h1.1v1.1h-1.1zM217.8 110.7h1.1v1.1h-1.1zM196.4 142.1h1.1v1.1h-1.1zM201.4 139.4h1.1v1.1h-1.1zM196.6 144.9h1.1v1.1h-1.1zM180.3 132.9h1.1v1.1h-1.1zM202.0 139.8h1.1v1.1h-1.1zM192.9 140.8h1.1v1.1h-1.1zM203.3 142.8h1.1v1.1h-1.1zM203.4 138.5h1.1v1.1h-1.1zM214.6 140.1h1.1v1.1h-1.1zM202.8 144.1h1.1v1.1h-1.1zM214.0 143.1h1.1v1.1h-1.1zM180.4 106.8h1.1v1.1h-1.1zM190.4 131.4h1.1v1.1h-1.1zM221.5 132.4h1.1v1.1h-1.1zM188.8 132.5h1.1v1.1h-1.1zM204.2 146.4h1.1v1.1h-1.1zM200.0 124.6h1.1v1.1h-1.1zM194.2 143.1h1.1v1.1h-1.1zM181.0 141.7h1.1v1.1h-1.1zM210.9 142.5h1.1v1.1h-1.1zM203.9 141.7h1.1v1.1h-1.1zM199.0 121.3h1.1v1.1h-1.1zM201.3 145.3h1.1v1.1h-1.1zM185.1 145.3h1.1v1.1h-1.1zM208.3 139.5h1.1v1.1h-1.1zM214.4 139.4h1.1v1.1h-1.1zM186.2 127.5h1.1v1.1h-1.1zM200.8 137.4h1.1v1.1h-1.1zM201.0 138.7h1.1v1.1h-1.1zM199.2 146.3h1.1v1.1h-1.1zM205.5 120.1h1.1v1.1h-1.1zM170.1 140.2h1.1v1.1h-1.1zM195.8 128.1h1.1v1.1h-1.1zM185.7 126.2h1.1v1.1h-1.1zM198.2 143.9h1.1v1.1h-1.1zM198.4 136.8h1.1v1.1h-1.1zM195.9 127.0h1.1v1.1h-1.1zM198.1 129.5h1.1v1.1h-1.1zM193.7 122.3h1.1v1.1h-1.1zM197.8 138.1h1.1v1.1h-1.1zM206.2 135.7h1.1v1.1h-1.1zM201.4 122.7h1.1v1.1h-1.1zM180.7 144.0h1.1v1.1h-1.1zM198.6 143.4h1.1v1.1h-1.1zM206.4 145.3h1.1v1.1h-1.1zM190.7 136.7h1.1v1.1h-1.1zM202.4 139.8h1.1v1.1h-1.1zM202.5 136.8h1.1v1.1h-1.1zM185.2 140.1h1.1v1.1h-1.1zM183.4 145.7h1.1v1.1h-1.1zM196.4 139.5h1.1v1.1h-1.1zM193.2 140.9h1.1v1.1h-1.1zM188.5 143.5h1.1v1.1h-1.1zM180.9 135.0h1.1v1.1h-1.1zM192.4 144.8h1.1v1.1h-1.1zM184.9 120.1h1.1v1.1h-1.1zM193.6 143.5h1.1v1.1h-1.1zM198.5 129.4h1.1v1.1h-1.1zM208.4 127.4h1.1v1.1h-1.1zM184.4 146.1h1.1v1.1h-1.1zM182.9 145.4h1.1v1.1h-1.1zM217.5 146.1h1.1v1.1h-1.1zM193.9 146.0h1.1v1.1h-1.1zM198.6 143.8h1.1v1.1h-1.1zM219.0 117.2h1.1v1.1h-1.1zM180.4 143.1h1.1v1.1h-1.1zM177.3 144.7h1.1v1.1h-1.1zM216.2 145.3h1.1v1.1h-1.1zM199.2 106.7h1.1v1.1h-1.1zM195.2 128.4h1.1v1.1h-1.1zM189.8 144.5h1.1v1.1h-1.1zM191.6 129.5h1.1v1.1h-1.1zM196.6 122.3h1.1v1.1h-1.1zM197.7 125.5h1.1v1.1h-1.1zM196.6 137.6h1.1v1.1h-1.1zM202.9 135.9h1.1v1.1h-1.1zM184.8 136.6h1.1v1.1h-1.1zM198.4 145.9h1.1v1.1h-1.1zM192.6 137.8h1.1v1.1h-1.1zM194.1 146.4h1.1v1.1h-1.1zM208.2 131.5h1.1v1.1h-1.1zM218.4 128.1h1.1v1.1h-1.1zM200.3 139.8h1.1v1.1h-1.1zM209.0 143.9h1.1v1.1h-1.1zM208.6 140.3h1.1v1.1h-1.1zM221.2 137.8h1.1v1.1h-1.1zM217.1 141.7h1.1v1.1h-1.1zM212.5 125.7h1.1v1.1h-1.1zM207.4 125.8h1.1v1.1h-1.1zM205.8 142.5h1.1v1.1h-1.1zM203.5 130.7h1.1v1.1h-1.1zM209.6 130.4h1.1v1.1h-1.1zM201.5 145.2h1.1v1.1h-1.1zM197.2 133.5h1.1v1.1h-1.1zM185.7 139.8h1.1v1.1h-1.1zM188.9 140.7h1.1v1.1h-1.1zM184.3 119.2h1.1v1.1h-1.1zM186.3 132.0h1.1v1.1h-1.1zM204.3 126.5h1.1v1.1h-1.1zM172.7 132.6h1.1v1.1h-1.1zM214.1 125.6h1.1v1.1h-1.1zM200.3 140.3h1.1v1.1h-1.1zM202.2 115.0h1.1v1.1h-1.1zM192.0 140.1h1.1v1.1h-1.1zM194.6 142.6h1.1v1.1h-1.1zM188.5 141.8h1.1v1.1h-1.1zM194.7 140.1h1.1v1.1h-1.1zM181.9 130.7h1.1v1.1h-1.1zM175.0 126.6h1.1v1.1h-1.1zM216.2 143.0h1.1v1.1h-1.1zM196.3 143.3h1.1v1.1h-1.1zM195.0 143.6h1.1v1.1h-1.1zM198.2 122.6h1.1v1.1h-1.1zM206.0 130.3h1.1v1.1h-1.1zM192.1 130.1h1.1v1.1h-1.1zM212.8 138.1h1.1v1.1h-1.1zM183.9 145.3h1.1v1.1h-1.1zM201.6 135.7h1.1v1.1h-1.1zM188.1 141.5h1.1v1.1h-1.1zM168.0 144.6h1.1v1.1h-1.1zM190.1 138.2h1.1v1.1h-1.1zM188.6 115.9h1.1v1.1h-1.1zM185.4 140.7h1.1v1.1h-1.1zM212.1 108.8h1.1v1.1h-1.1zM187.9 145.5h1.1v1.1h-1.1zM199.2 120.4h1.1v1.1h-1.1zM206.2 146.3h1.1v1.1h-1.1zM215.2 144.4h1.1v1.1h-1.1zM180.8 133.6h1.1v1.1h-1.1zM203.7 131.4h1.1v1.1h-1.1zM197.2 143.2h1.1v1.1h-1.1zM188.3 146.2h1.1v1.1h-1.1zM194.2 143.2h1.1v1.1h-1.1zM189.7 109.8h1.1v1.1h-1.1zM187.4 134.8h1.1v1.1h-1.1zM184.9 136.5h1.1v1.1h-1.1zM193.7 145.8h1.1v1.1h-1.1zM187.8 145.7h1.1v1.1h-1.1zM207.8 144.8h1.1v1.1h-1.1zM198.0 145.2h1.1v1.1h-1.1zM166.6 133.7h1.1v1.1h-1.1zM198.2 143.0h1.1v1.1h-1.1zM197.9 145.3h1.1v1.1h-1.1zM189.9 142.5h1.1v1.1h-1.1zM182.2 140.0h1.1v1.1h-1.1zM206.5 132.2h1.1v1.1h-1.1zM219.1 141.9h1.1v1.1h-1.1zM212.0 126.9h1.1v1.1h-1.1zM218.2 143.7h1.1v1.1h-1.1zM201.1 125.3h1.1v1.1h-1.1zM202.6 142.9h1.1v1.1h-1.1zM180.8 146.4h1.1v1.1h-1.1zM206.2 144.6h1.1v1.1h-1.1zM220.2 134.7h1.1v1.1h-1.1zM182.5 144.3h1.1v1.1h-1.1zM188.2 144.8h1.1v1.1h-1.1zM220.7 134.9h1.1v1.1h-1.1zM215.8 137.2h1.1v1.1h-1.1zM197.7 146.3h1.1v1.1h-1.1zM201.2 125.4h1.1v1.1h-1.1zM217.2 141.5h1.1v1.1h-1.1zM218.5 132.4h1.1v1.1h-1.1zM210.1 143.3h1.1v1.1h-1.1zM212.5 141.5h1.1v1.1h-1.1zM191.5 143.4h1.1v1.1h-1.1zM196.2 129.0h1.1v1.1h-1.1zM194.5 130.6h1.1v1.1h-1.1zM208.0 143.7h1.1v1.1h-1.1zM199.8 141.2h1.1v1.1h-1.1zM204.6 141.5h1.1v1.1h-1.1zM188.8 124.1h1.1v1.1h-1.1zM186.9 145.9h1.1v1.1h-1.1zM185.7 143.6h1.1v1.1h-1.1zM178.3 146.2h1.1v1.1h-1.1zM191.7 139.7h1.1v1.1h-1.1zM199.2 132.8h1.1v1.1h-1.1zM201.8 139.3h1.1v1.1h-1.1zM200.2 144.4h1.1v1.1h-1.1zM198.5 145.1h1.1v1.1h-1.1zM209.3 145.7h1.1v1.1h-1.1zM188.7 116.2h1.1v1.1h-1.1zM206.9 137.6h1.1v1.1h-1.1zM204.3 131.5h1.1v1.1h-1.1zM200.5 137.4h1.1v1.1h-1.1zM217.2 125.0h1.1v1.1h-1.1zM175.5 145.2h1.1v1.1h-1.1zM210.2 143.5h1.1v1.1h-1.1zM192.1 144.4h1.1v1.1h-1.1zM202.2 145.5h1.1v1.1h-1.1zM191.0 143.1h1.1v1.1h-1.1zM208.4 132.0h1.1v1.1h-1.1zM191.1 145.6h1.1v1.1h-1.1zM187.4 144.0h1.1v1.1h-1.1zM199.9 134.5h1.1v1.1h-1.1zM201.4 139.3h1.1v1.1h-1.1zM197.7 134.9h1.1v1.1h-1.1zM198.5 138.5h1.1v1.1h-1.1zM209.8 131.7h1.1v1.1h-1.1zM199.0 138.0h1.1v1.1h-1.1zM198.3 136.3h1.1v1.1h-1.1zM210.5 134.9h1.1v1.1h-1.1zM209.7 114.5h1.1v1.1h-1.1zM213.4 131.7h1.1v1.1h-1.1zM203.9 120.9h1.1v1.1h-1.1zM188.4 144.3h1.1v1.1h-1.1zM199.2 121.0h1.1v1.1h-1.1zM212.4 145.6h1.1v1.1h-1.1zM197.6 140.1h1.1v1.1h-1.1zM200.0 144.8h1.1v1.1h-1.1zM203.9 136.9h1.1v1.1h-1.1zM214.8 115.7h1.1v1.1h-1.1zM182.8 146.4h1.1v1.1h-1.1zM207.0 113.9h1.1v1.1h-1.1zM198.4 138.6h1.1v1.1h-1.1zM210.0 113.9h1.1v1.1h-1.1zM161.4 135.8h1.1v1.1h-1.1zM198.8 143.8h1.1v1.1h-1.1zM190.3 139.8h1.1v1.1h-1.1zM201.4 142.2h1.1v1.1h-1.1zM220.6 141.9h1.1v1.1h-1.1zM195.8 141.3h1.1v1.1h-1.1zM194.8 144.6h1.1v1.1h-1.1zM197.1 136.2h1.1v1.1h-1.1zM196.8 143.2h1.1v1.1h-1.1zM182.8 132.8h1.1v1.1h-1.1zM201.2 144.9h1.1v1.1h-1.1zM197.3 111.0h1.1v1.1h-1.1zM202.8 144.7h1.1v1.1h-1.1zM206.1 136.9h1.1v1.1h-1.1zM207.6 122.6h1.1v1.1h-1.1zM204.9 144.5h1.1v1.1h-1.1zM199.9 136.8h1.1v1.1h-1.1zM185.7 122.4h1.1v1.1h-1.1zM200.5 134.6h1.1v1.1h-1.1zM215.4 143.1h1.1v1.1h-1.1zM174.8 115.2h1.1v1.1h-1.1zM193.9 119.4h1.1v1.1h-1.1zM199.1 145.3h1.1v1.1h-1.1zM206.5 142.7h1.1v1.1h-1.1zM198.0 109.0h1.1v1.1h-1.1zM205.2 138.2h1.1v1.1h-1.1zM188.3 125.7h1.1v1.1h-1.1zM202.9 138.6h1.1v1.1h-1.1zM181.3 145.1h1.1v1.1h-1.1zM197.7 136.8h1.1v1.1h-1.1zM213.8 128.7h1.1v1.1h-1.1zM220.7 144.1h1.1v1.1h-1.1zM179.5 145.6h1.1v1.1h-1.1zM209.0 144.3h1.1v1.1h-1.1zM188.0 133.5h1.1v1.1h-1.1zM196.7 141.5h1.1v1.1h-1.1zM205.4 138.3h1.1v1.1h-1.1zM195.0 131.6h1.1v1.1h-1.1zM193.0 135.7h1.1v1.1h-1.1zM180.1 128.8h1.1v1.1h-1.1zM200.0 146.4h1.1v1.1h-1.1zM179.9 132.9h1.1v1.1h-1.1zM199.7 135.0h1.1v1.1h-1.1zM209.3 129.6h1.1v1.1h-1.1zM221.6 140.3h1.1v1.1h-1.1zM204.6 140.7h1.1v1.1h-1.1zM195.0 110.6h1.1v1.1h-1.1zM203.8 131.9h1.1v1.1h-1.1zM192.1 141.6h1.1v1.1h-1.1zM186.8 145.0h1.1v1.1h-1.1zM180.2 143.7h1.1v1.1h-1.1zM199.0 146.1h1.1v1.1h-1.1zM205.8 144.9h1.1v1.1h-1.1zM187.0 145.6h1.1v1.1h-1.1zM203.7 136.9h1.1v1.1h-1.1zM211.1 141.7h1.1v1.1h-1.1zM191.7 133.1h1.1v1.1h-1.1zM190.4 139.3h1.1v1.1h-1.1zM199.7 146.3h1.1v1.1h-1.1zM193.9 141.4h1.1v1.1h-1.1zM190.9 110.4h1.1v1.1h-1.1zM199.3 135.2h1.1v1.1h-1.1zM175.3 135.4h1.1v1.1h-1.1zM188.6 144.1h1.1v1.1h-1.1zM168.2 130.5h1.1v1.1h-1.1zM194.2 127.5h1.1v1.1h-1.1zM205.4 136.4h1.1v1.1h-1.1zM210.7 136.7h1.1v1.1h-1.1zM178.0 144.1h1.1v1.1h-1.1zM211.2 132.3h1.1v1.1h-1.1zM198.3 143.0h1.1v1.1h-1.1zM198.0 144.4h1.1v1.1h-1.1zM197.5 133.4h1.1v1.1h-1.1zM205.3 143.1h1.1v1.1h-1.1zM197.2 132.8h1.1v1.1h-1.1zM199.3 145.2h1.1v1.1h-1.1zM196.8 116.5h1.1v1.1h-1.1zM203.4 142.0h1.1v1.1h-1.1zM195.8 138.4h1.1v1.1h-1.1zM191.9 139.3h1.1v1.1h-1.1zM207.8 143.2h1.1v1.1h-1.1zM201.5 144.5h1.1v1.1h-1.1zM198.6 145.4h1.1v1.1h-1.1zM184.4 143.1h1.1v1.1h-1.1zM184.5 129.2h1.1v1.1h-1.1zM195.6 139.1h1.1v1.1h-1.1zM186.6 144.2h1.1v1.1h-1.1zM210.3 145.9h1.1v1.1h-1.1zM190.6 144.7h1.1v1.1h-1.1zM193.0 132.6h1.1v1.1h-1.1zM186.4 143.6h1.1v1.1h-1.1zM203.0 145.4h1.1v1.1h-1.1zM177.2 136.8h1.1v1.1h-1.1zM203.5 128.6h1.1v1.1h-1.1zM213.8 129.3h1.1v1.1h-1.1zM197.6 134.5h1.1v1.1h-1.1zM202.1 137.3h1.1v1.1h-1.1zM201.9 136.9h1.1v1.1h-1.1zM202.7 145.2h1.1v1.1h-1.1zM191.3 143.2h1.1v1.1h-1.1zM190.6 140.4h1.1v1.1h-1.1zM178.9 146.2h1.1v1.1h-1.1zM193.2 132.3h1.1v1.1h-1.1zM198.7 135.3h1.1v1.1h-1.1zM206.4 133.6h1.1v1.1h-1.1zM178.4 144.0h1.1v1.1h-1.1zM180.6 142.4h1.1v1.1h-1.1zM192.3 144.6h1.1v1.1h-1.1zM189.4 143.7h1.1v1.1h-1.1zM199.9 132.6h1.1v1.1h-1.1zM175.7 111.4h1.1v1.1h-1.1zM199.7 142.3h1.1v1.1h-1.1zM187.5 132.5h1.1v1.1h-1.1zM211.8 145.5h1.1v1.1h-1.1zM202.4 145.9h1.1v1.1h-1.1zM190.4 117.0h1.1v1.1h-1.1zM196.4 123.4h1.1v1.1h-1.1zM189.6 145.1h1.1v1.1h-1.1zM198.8 138.7h1.1v1.1h-1.1zM186.2 132.6h1.1v1.1h-1.1zM195.5 138.2h1.1v1.1h-1.1zM197.9 145.7h1.1v1.1h-1.1zM191.6 141.1h1.1v1.1h-1.1zM188.3 134.4h1.1v1.1h-1.1zM197.9 143.7h1.1v1.1h-1.1zM191.6 132.8h1.1v1.1h-1.1zM208.9 130.3h1.1v1.1h-1.1zM188.3 117.6h1.1v1.1h-1.1zM206.0 116.6h1.1v1.1h-1.1zM193.0 139.8h1.1v1.1h-1.1zM193.3 135.4h1.1v1.1h-1.1zM200.1 120.1h1.1v1.1h-1.1zM205.9 135.9h1.1v1.1h-1.1zM206.3 142.6h1.1v1.1h-1.1zM214.4 130.3h1.1v1.1h-1.1zM205.0 140.2h1.1v1.1h-1.1zM206.9 145.4h1.1v1.1h-1.1zM202.9 110.1h1.1v1.1h-1.1zM206.0 130.4h1.1v1.1h-1.1zM200.0 144.9h1.1v1.1h-1.1zM200.5 144.5h1.1v1.1h-1.1zM199.7 138.2h1.1v1.1h-1.1zM200.5 144.4h1.1v1.1h-1.1zM190.9 130.6h1.1v1.1h-1.1zM187.7 145.1h1.1v1.1h-1.1zM201.7 143.4h1.1v1.1h-1.1zM202.6 143.2h1.1v1.1h-1.1zM196.0 131.7h1.1v1.1h-1.1zM216.4 139.5h1.1v1.1h-1.1zM181.3 112.0h1.1v1.1h-1.1zM189.5 139.6h1.1v1.1h-1.1zM191.2 132.7h1.1v1.1h-1.1zM196.4 144.1h1.1v1.1h-1.1zM191.0 111.6h1.1v1.1h-1.1zM213.5 141.9h1.1v1.1h-1.1zM210.1 143.4h1.1v1.1h-1.1zM209.9 144.7h1.1v1.1h-1.1zM203.2 144.4h1.1v1.1h-1.1zM189.0 131.5h1.1v1.1h-1.1zM193.0 140.5h1.1v1.1h-1.1zM203.2 127.5h1.1v1.1h-1.1zM206.8 146.4h1.1v1.1h-1.1zM185.6 130.6h1.1v1.1h-1.1zM177.7 113.1h1.1v1.1h-1.1zM181.7 142.1h1.1v1.1h-1.1zM209.3 143.1h1.1v1.1h-1.1zM179.7 141.5h1.1v1.1h-1.1zM189.4 141.3h1.1v1.1h-1.1zM204.6 145.2h1.1v1.1h-1.1zM200.6 140.7h1.1v1.1h-1.1zM222.0 135.4h1.1v1.1h-1.1zM211.7 143.4h1.1v1.1h-1.1zM184.4 118.8h1.1v1.1h-1.1zM208.7 132.2h1.1v1.1h-1.1zM163.9 131.0h1.1v1.1h-1.1zM200.4 134.8h1.1v1.1h-1.1zM188.9 141.2h1.1v1.1h-1.1zM200.3 138.0h1.1v1.1h-1.1zM191.8 142.0h1.1v1.1h-1.1zM201.5 126.1h1.1v1.1h-1.1zM187.4 125.8h1.1v1.1h-1.1zM201.6 115.9h1.1v1.1h-1.1zM192.7 131.5h1.1v1.1h-1.1zM189.6 146.0h1.1v1.1h-1.1zM182.0 124.0h1.1v1.1h-1.1zM184.9 141.9h1.1v1.1h-1.1zM193.2 129.7h1.1v1.1h-1.1zM201.7 143.8h1.1v1.1h-1.1zM174.3 141.9h1.1v1.1h-1.1zM197.0 142.1h1.1v1.1h-1.1zM202.3 146.2h1.1v1.1h-1.1zM199.4 145.7h1.1v1.1h-1.1zM189.1 145.7h1.1v1.1h-1.1zM196.6 139.7h1.1v1.1h-1.1zM189.4 140.8h1.1v1.1h-1.1zM206.2 142.4h1.1v1.1h-1.1zM170.0 135.5h1.1v1.1h-1.1zM207.2 121.2h1.1v1.1h-1.1zM189.0 131.9h1.1v1.1h-1.1zM188.2 137.1h1.1v1.1h-1.1zM218.7 145.3h1.1v1.1h-1.1zM178.6 138.5h1.1v1.1h-1.1zM185.7 139.2h1.1v1.1h-1.1zM176.5 134.5h1.1v1.1h-1.1zM208.9 143.9h1.1v1.1h-1.1zM189.9 111.5h1.1v1.1h-1.1zM205.3 133.4h1.1v1.1h-1.1zM215.0 146.1h1.1v1.1h-1.1zM215.0 136.7h1.1v1.1h-1.1zM180.3 140.3h1.1v1.1h-1.1zM204.5 145.4h1.1v1.1h-1.1zM175.9 129.4h1.1v1.1h-1.1zM193.8 141.6h1.1v1.1h-1.1zM200.3 128.7h1.1v1.1h-1.1zM215.7 143.8h1.1v1.1h-1.1zM220.4 141.2h1.1v1.1h-1.1zM172.9 132.9h1.1v1.1h-1.1zM204.0 142.5h1.1v1.1h-1.1zM193.7 142.1h1.1v1.1h-1.1zM196.2 137.8h1.1v1.1h-1.1zM189.7 138.9h1.1v1.1h-1.1zM193.9 112.0h1.1v1.1h-1.1zM178.0 144.3h1.1v1.1h-1.1zM189.3 120.0h1.1v1.1h-1.1zM178.6 124.2h1.1v1.1h-1.1zM190.8 141.6h1.1v1.1h-1.1zM204.0 146.2h1.1v1.1h-1.1zM193.4 138.8h1.1v1.1h-1.1zM216.9 112.4h1.1v1.1h-1.1zM182.3 138.6h1.1v1.1h-1.1zM210.4 144.8h1.1v1.1h-1.1zM190.9 135.5h1.1v1.1h-1.1zM201.0 136.4h1.1v1.1h-1.1zM185.6 143.2h1.1v1.1h-1.1zM195.0 138.6h1.1v1.1h-1.1zM208.8 139.6h1.1v1.1h-1.1zM198.0 141.9h1.1v1.1h-1.1zM197.7 132.6h1.1v1.1h-1.1zM196.9 143.3h1.1v1.1h-1.1zM188.5 138.5h1.1v1.1h-1.1zM204.1 120.7h1.1v1.1h-1.1zM210.9 144.0h1.1v1.1h-1.1zM181.2 131.3h1.1v1.1h-1.1zM187.6 132.8h1.1v1.1h-1.1zM194.8 126.5h1.1v1.1h-1.1zM188.1 118.0h1.1v1.1h-1.1zM220.3 145.5h1.1v1.1h-1.1zM206.0 145.7h1.1v1.1h-1.1zM202.0 144.8h1.1v1.1h-1.1zM180.4 139.7h1.1v1.1h-1.1zM171.3 142.0h1.1v1.1h-1.1zM166.4 130.5h1.1v1.1h-1.1zM197.2 144.6h1.1v1.1h-1.1zM204.7 140.7h1.1v1.1h-1.1zM189.8 144.6h1.1v1.1h-1.1zM190.4 143.8h1.1v1.1h-1.1zM203.5 142.3h1.1v1.1h-1.1zM200.8 138.8h1.1v1.1h-1.1zM202.3 140.1h1.1v1.1h-1.1zM209.0 106.8h1.1v1.1h-1.1zM169.4 139.5h1.1v1.1h-1.1zM199.4 144.1h1.1v1.1h-1.1zM191.6 144.5h1.1v1.1h-1.1zM193.5 145.7h1.1v1.1h-1.1zM188.0 140.8h1.1v1.1h-1.1zM168.4 141.7h1.1v1.1h-1.1zM187.5 133.6h1.1v1.1h-1.1zM201.9 141.0h1.1v1.1h-1.1zM210.2 137.2h1.1v1.1h-1.1zM215.8 146.4h1.1v1.1h-1.1zM207.9 141.7h1.1v1.1h-1.1zM181.9 135.6h1.1v1.1h-1.1zM207.2 140.3h1.1v1.1h-1.1zM191.4 142.6h1.1v1.1h-1.1zM181.0 131.9h1.1v1.1h-1.1zM191.3 113.7h1.1v1.1h-1.1zM203.7 125.5h1.1v1.1h-1.1zM205.7 129.3h1.1v1.1h-1.1zM182.4 141.9h1.1v1.1h-1.1zM187.7 114.6h1.1v1.1h-1.1zM185.9 144.3h1.1v1.1h-1.1zM193.4 145.2h1.1v1.1h-1.1zM213.5 146.2h1.1v1.1h-1.1zM184.6 142.2h1.1v1.1h-1.1zM183.7 141.5h1.1v1.1h-1.1zM198.7 121.7h1.1v1.1h-1.1zM188.7 117.3h1.1v1.1h-1.1zM208.5 135.3h1.1v1.1h-1.1zM186.8 141.1h1.1v1.1h-1.1zM198.5 136.2h1.1v1.1h-1.1zM199.0 141.4h1.1v1.1h-1.1zM188.3 141.1h1.1v1.1h-1.1zM180.5 138.0h1.1v1.1h-1.1zM216.3 143.0h1.1v1.1h-1.1zM186.4 144.6h1.1v1.1h-1.1zM215.6 133.6h1.1v1.1h-1.1zM204.5 145.8h1.1v1.1h-1.1zM198.0 128.5h1.1v1.1h-1.1zM202.0 145.8h1.1v1.1h-1.1zM203.6 143.1h1.1v1.1h-1.1zM195.1 120.0h1.1v1.1h-1.1zM178.7 114.2h1.1v1.1h-1.1zM172.3 145.5h1.1v1.1h-1.1zM188.8 118.0h1.1v1.1h-1.1zM190.1 131.3h1.1v1.1h-1.1zM200.0 125.0h1.1v1.1h-1.1zM193.2 123.8h1.1v1.1h-1.1zM200.3 131.1h1.1v1.1h-1.1zM171.1 146.1h1.1v1.1h-1.1zM178.9 145.9h1.1v1.1h-1.1zM198.7 132.9h1.1v1.1h-1.1zM198.7 135.6h1.1v1.1h-1.1zM202.2 144.3h1.1v1.1h-1.1zM201.4 136.2h1.1v1.1h-1.1zM182.8 141.6h1.1v1.1h-1.1zM186.5 143.3h1.1v1.1h-1.1zM201.6 143.6h1.1v1.1h-1.1zM218.8 144.4h1.1v1.1h-1.1zM191.1 144.3h1.1v1.1h-1.1zM203.2 131.8h1.1v1.1h-1.1zM205.7 145.8h1.1v1.1h-1.1zM179.9 146.1h1.1v1.1h-1.1zM193.7 140.1h1.1v1.1h-1.1zM200.8 139.9h1.1v1.1h-1.1zM182.4 123.1h1.1v1.1h-1.1zM188.6 141.0h1.1v1.1h-1.1zM190.8 114.9h1.1v1.1h-1.1zM213.2 137.4h1.1v1.1h-1.1zM177.3 144.8h1.1v1.1h-1.1zM202.1 133.6h1.1v1.1h-1.1zM207.1 146.4h1.1v1.1h-1.1zM203.5 138.5h1.1v1.1h-1.1zM177.9 146.4h1.1v1.1h-1.1zM200.5 134.3h1.1v1.1h-1.1zM185.6 137.2h1.1v1.1h-1.1zM195.4 111.1h1.1v1.1h-1.1zM185.3 112.3h1.1v1.1h-1.1zM211.3 142.3h1.1v1.1h-1.1zM190.1 141.3h1.1v1.1h-1.1zM194.0 129.2h1.1v1.1h-1.1zM221.7 129.4h1.1v1.1h-1.1zM212.2 133.7h1.1v1.1h-1.1zM165.3 142.3h1.1v1.1h-1.1zM197.4 136.1h1.1v1.1h-1.1zM188.0 144.6h1.1v1.1h-1.1zM205.3 143.0h1.1v1.1h-1.1zM186.6 118.3h1.1v1.1h-1.1zM220.0 130.9h1.1v1.1h-1.1zM210.2 144.7h1.1v1.1h-1.1zM198.0 120.3h1.1v1.1h-1.1zM182.0 136.8h1.1v1.1h-1.1zM173.0 145.5h1.1v1.1h-1.1zM208.8 130.0h1.1v1.1h-1.1zM204.4 145.2h1.1v1.1h-1.1zM202.6 123.9h1.1v1.1h-1.1zM179.7 143.2h1.1v1.1h-1.1zM203.6 132.1h1.1v1.1h-1.1zM193.9 139.0h1.1v1.1h-1.1zM192.8 132.4h1.1v1.1h-1.1zM200.7 142.9h1.1v1.1h-1.1zM213.3 141.4h1.1v1.1h-1.1zM183.7 140.4h1.1v1.1h-1.1zM178.2 130.9h1.1v1.1h-1.1zM187.9 139.8h1.1v1.1h-1.1zM204.6 113.5h1.1v1.1h-1.1zM188.2 139.5h1.1v1.1h-1.1zM211.1 144.8h1.1v1.1h-1.1zM210.0 134.0h1.1v1.1h-1.1zM219.8 131.7h1.1v1.1h-1.1zM208.3 145.0h1.1v1.1h-1.1zM189.7 143.3h1.1v1.1h-1.1zM188.5 127.9h1.1v1.1h-1.1zM209.8 145.5h1.1v1.1h-1.1zM199.7 125.5h1.1v1.1h-1.1zM199.4 139.6h1.1v1.1h-1.1zM195.1 139.5h1.1v1.1h-1.1zM193.4 141.9h1.1v1.1h-1.1zM178.8 116.8h1.1v1.1h-1.1zM199.5 128.0h1.1v1.1h-1.1zM202.7 145.1h1.1v1.1h-1.1zM202.3 142.0h1.1v1.1h-1.1zM209.5 144.5h1.1v1.1h-1.1zM208.8 129.5h1.1v1.1h-1.1zM191.4 143.3h1.1v1.1h-1.1zM203.9 120.4h1.1v1.1h-1.1zM192.8 136.1h1.1v1.1h-1.1zM216.4 135.5h1.1v1.1h-1.1zM193.4 138.1h1.1v1.1h-1.1zM204.6 145.4h1.1v1.1h-1.1zM187.2 119.5h1.1v1.1h-1.1zM203.0 131.5h1.1v1.1h-1.1zM180.6 143.6h1.1v1.1h-1.1zM176.2 110.5h1.1v1.1h-1.1zM201.9 118.3h1.1v1.1h-1.1zM206.3 137.6h1.1v1.1h-1.1zM211.8 140.8h1.1v1.1h-1.1zM200.1 139.5h1.1v1.1h-1.1zM202.4 139.0h1.1v1.1h-1.1zM195.8 137.6h1.1v1.1h-1.1zM207.9 130.7h1.1v1.1h-1.1zM191.2 122.6h1.1v1.1h-1.1zM193.4 141.5h1.1v1.1h-1.1zM222.2 136.9h1.1v1.1h-1.1zM188.9 109.0h1.1v1.1h-1.1zM186.1 142.4h1.1v1.1h-1.1zM206.6 146.2h1.1v1.1h-1.1zM198.7 142.8h1.1v1.1h-1.1zM202.7 135.6h1.1v1.1h-1.1zM171.2 133.8h1.1v1.1h-1.1zM186.2 141.6h1.1v1.1h-1.1zM212.5 137.9h1.1v1.1h-1.1zM191.9 124.7h1.1v1.1h-1.1zM191.8 136.3h1.1v1.1h-1.1zM187.5 142.6h1.1v1.1h-1.1zM205.4 106.8h1.1v1.1h-1.1zM195.3 145.8h1.1v1.1h-1.1zM211.6 144.0h1.1v1.1h-1.1zM197.9 138.7h1.1v1.1h-1.1zM213.1 134.3h1.1v1.1h-1.1zM211.8 133.8h1.1v1.1h-1.1zM218.9 132.8h1.1v1.1h-1.1zM181.1 146.5h1.1v1.1h-1.1zM208.6 108.3h1.1v1.1h-1.1zM200.7 142.4h1.1v1.1h-1.1zM195.6 140.6h1.1v1.1h-1.1zM196.4 120.9h1.1v1.1h-1.1zM178.9 146.4h1.1v1.1h-1.1zM185.6 144.0h1.1v1.1h-1.1zM206.3 145.3h1.1v1.1h-1.1zM216.6 116.9h1.1v1.1h-1.1zM194.4 138.5h1.1v1.1h-1.1zM220.6 142.2h1.1v1.1h-1.1zM208.5 133.4h1.1v1.1h-1.1zM194.5 145.7h1.1v1.1h-1.1zM212.7 145.2h1.1v1.1h-1.1zM168.6 131.4h1.1v1.1h-1.1zM196.2 141.5h1.1v1.1h-1.1zM203.5 134.6h1.1v1.1h-1.1zM217.0 135.8h1.1v1.1h-1.1zM186.4 134.8h1.1v1.1h-1.1zM206.8 137.7h1.1v1.1h-1.1zM212.7 141.6h1.1v1.1h-1.1zM204.1 144.8h1.1v1.1h-1.1zM191.8 144.6h1.1v1.1h-1.1zM206.1 128.7h1.1v1.1h-1.1zM209.4 144.6h1.1v1.1h-1.1zM182.0 137.5h1.1v1.1h-1.1zM196.7 140.6h1.1v1.1h-1.1zM195.1 145.8h1.1v1.1h-1.1zM196.5 140.5h1.1v1.1h-1.1zM198.6 143.5h1.1v1.1h-1.1zM216.3 127.4h1.1v1.1h-1.1zM197.3 139.4h1.1v1.1h-1.1zM202.1 141.1h1.1v1.1h-1.1zM187.0 143.7h1.1v1.1h-1.1zM213.8 134.3h1.1v1.1h-1.1zM203.4 138.8h1.1v1.1h-1.1zM186.1 118.2h1.1v1.1h-1.1zM191.2 145.7h1.1v1.1h-1.1zM192.6 145.6h1.1v1.1h-1.1zM194.6 135.0h1.1v1.1h-1.1zM201.3 140.4h1.1v1.1h-1.1zM192.0 116.2h1.1v1.1h-1.1zM209.9 143.4h1.1v1.1h-1.1zM202.5 142.2h1.1v1.1h-1.1zM205.1 120.0h1.1v1.1h-1.1zM193.7 144.5h1.1v1.1h-1.1zM185.3 146.0h1.1v1.1h-1.1zM213.0 135.0h1.1v1.1h-1.1zM212.5 144.6h1.1v1.1h-1.1zM194.2 138.7h1.1v1.1h-1.1zM194.2 142.0h1.1v1.1h-1.1zM212.2 132.6h1.1v1.1h-1.1zM208.4 138.6h1.1v1.1h-1.1zM205.4 140.3h1.1v1.1h-1.1zM211.9 134.6h1.1v1.1h-1.1zM217.8 146.5h1.1v1.1h-1.1zM210.5 143.7h1.1v1.1h-1.1zM190.9 145.5h1.1v1.1h-1.1zM201.6 133.7h1.1v1.1h-1.1zM207.4 143.1h1.1v1.1h-1.1zM196.6 134.3h1.1v1.1h-1.1zM199.0 133.7h1.1v1.1h-1.1zM208.5 140.3h1.1v1.1h-1.1zM199.5 137.9h1.1v1.1h-1.1zM201.6 138.8h1.1v1.1h-1.1zM194.5 139.1h1.1v1.1h-1.1zM202.9 139.0h1.1v1.1h-1.1zM213.1 128.3h1.1v1.1h-1.1zM190.0 128.0h1.1v1.1h-1.1zM222.9 139.4h1.1v1.1h-1.1zM205.3 145.0h1.1v1.1h-1.1zM207.3 133.8h1.1v1.1h-1.1zM192.1 105.3h1.1v1.1h-1.1zM182.7 146.0h1.1v1.1h-1.1zM192.5 145.2h1.1v1.1h-1.1zM176.8 142.2h1.1v1.1h-1.1zM211.4 132.4h1.1v1.1h-1.1zM202.0 141.8h1.1v1.1h-1.1zM193.3 132.8h1.1v1.1h-1.1zM186.6 142.9h1.1v1.1h-1.1zM209.2 146.5h1.1v1.1h-1.1zM195.3 145.4h1.1v1.1h-1.1zM193.6 135.4h1.1v1.1h-1.1zM174.3 144.6h1.1v1.1h-1.1zM209.7 145.2h1.1v1.1h-1.1zM183.8 141.2h1.1v1.1h-1.1zM196.5 146.0h1.1v1.1h-1.1zM196.1 141.7h1.1v1.1h-1.1zM221.1 120.1h1.1v1.1h-1.1zM169.7 129.5h1.1v1.1h-1.1zM207.1 108.2h1.1v1.1h-1.1zM185.5 135.1h1.1v1.1h-1.1zM211.1 144.1h1.1v1.1h-1.1zM192.2 138.5h1.1v1.1h-1.1zM186.6 141.4h1.1v1.1h-1.1zM198.1 138.6h1.1v1.1h-1.1zM190.1 142.9h1.1v1.1h-1.1zM192.7 138.8h1.1v1.1h-1.1zM185.0 134.5h1.1v1.1h-1.1zM196.7 144.2h1.1v1.1h-1.1zM187.9 130.3h1.1v1.1h-1.1zM195.2 133.1h1.1v1.1h-1.1zM199.7 143.4h1.1v1.1h-1.1zM183.4 117.9h1.1v1.1h-1.1zM185.9 142.7h1.1v1.1h-1.1zM196.2 140.8h1.1v1.1h-1.1zM191.5 139.3h1.1v1.1h-1.1zM176.5 132.1h1.1v1.1h-1.1zM199.9 141.6h1.1v1.1h-1.1zM209.3 142.5h1.1v1.1h-1.1zM184.8 132.0h1.1v1.1h-1.1zM211.9 143.9h1.1v1.1h-1.1zM199.0 134.8h1.1v1.1h-1.1zM217.0 134.1h1.1v1.1h-1.1zM185.3 143.0h1.1v1.1h-1.1zM183.7 145.8h1.1v1.1h-1.1zM195.1 110.5h1.1v1.1h-1.1zM199.3 138.3h1.1v1.1h-1.1zM182.6 128.6h1.1v1.1h-1.1zM170.7 143.6h1.1v1.1h-1.1zM194.1 129.0h1.1v1.1h-1.1zM201.7 131.8h1.1v1.1h-1.1zM186.0 143.0h1.1v1.1h-1.1zM197.9 139.2h1.1v1.1h-1.1zM191.2 125.7h1.1v1.1h-1.1zM173.3 124.3h1.1v1.1h-1.1zM185.8 142.4h1.1v1.1h-1.1zM201.5 106.3h1.1v1.1h-1.1zM199.7 142.9h1.1v1.1h-1.1zM203.2 118.4h1.1v1.1h-1.1zM203.2 125.5h1.1v1.1h-1.1zM188.8 122.1h1.1v1.1h-1.1zM190.3 130.2h1.1v1.1h-1.1zM200.3 141.3h1.1v1.1h-1.1zM215.2 140.1h1.1v1.1h-1.1zM213.9 140.9h1.1v1.1h-1.1zM189.7 146.3h1.1v1.1h-1.1zM192.0 141.1h1.1v1.1h-1.1zM195.8 141.4h1.1v1.1h-1.1zM198.2 130.7h1.1v1.1h-1.1zM188.4 135.7h1.1v1.1h-1.1zM212.0 144.2h1.1v1.1h-1.1zM214.1 136.1h1.1v1.1h-1.1zM199.2 142.7h1.1v1.1h-1.1zM204.0 120.1h1.1v1.1h-1.1zM218.5 143.6h1.1v1.1h-1.1zM184.1 142.2h1.1v1.1h-1.1zM189.3 146.1h1.1v1.1h-1.1zM189.5 136.4h1.1v1.1h-1.1zM211.7 138.7h1.1v1.1h-1.1zM202.7 142.4h1.1v1.1h-1.1zM202.5 140.6h1.1v1.1h-1.1zM180.8 145.1h1.1v1.1h-1.1zM198.4 143.4h1.1v1.1h-1.1zM219.6 136.8h1.1v1.1h-1.1zM194.7 129.0h1.1v1.1h-1.1zM199.2 128.2h1.1v1.1h-1.1zM194.6 139.3h1.1v1.1h-1.1zM207.6 143.7h1.1v1.1h-1.1zM200.8 135.7h1.1v1.1h-1.1zM200.9 137.8h1.1v1.1h-1.1zM175.2 141.1h1.1v1.1h-1.1zM198.7 143.2h1.1v1.1h-1.1zM191.9 131.1h1.1v1.1h-1.1zM163.3 145.5h1.1v1.1h-1.1zM210.2 139.7h1.1v1.1h-1.1zM197.2 145.4h1.1v1.1h-1.1zM197.7 145.5h1.1v1.1h-1.1zM188.7 138.7h1.1v1.1h-1.1zM206.0 142.7h1.1v1.1h-1.1zM183.8 144.5h1.1v1.1h-1.1zM183.6 141.4h1.1v1.1h-1.1zM196.1 124.8h1.1v1.1h-1.1zM202.9 141.6h1.1v1.1h-1.1zM219.8 142.0h1.1v1.1h-1.1zM185.9 142.8h1.1v1.1h-1.1zM187.2 145.5h1.1v1.1h-1.1zM207.6 145.2h1.1v1.1h-1.1zM193.9 134.7h1.1v1.1h-1.1zM187.0 142.1h1.1v1.1h-1.1zM195.0 126.0h1.1v1.1h-1.1zM190.7 111.9h1.1v1.1h-1.1zM207.1 141.6h1.1v1.1h-1.1zM191.4 134.6h1.1v1.1h-1.1zM200.9 134.5h1.1v1.1h-1.1zM185.9 143.6h1.1v1.1h-1.1zM200.9 129.3h1.1v1.1h-1.1zM176.1 141.3h1.1v1.1h-1.1zM202.8 132.0h1.1v1.1h-1.1zM205.0 110.9h1.1v1.1h-1.1zM198.5 133.9h1.1v1.1h-1.1zM190.9 139.5h1.1v1.1h-1.1zM185.0 144.1h1.1v1.1h-1.1zM204.7 133.5h1.1v1.1h-1.1zM211.7 143.2h1.1v1.1h-1.1zM193.2 136.1h1.1v1.1h-1.1zM192.1 144.4h1.1v1.1h-1.1zM187.0 137.7h1.1v1.1h-1.1zM196.4 144.9h1.1v1.1h-1.1zM181.2 144.9h1.1v1.1h-1.1zM198.7 142.4h1.1v1.1h-1.1zM190.7 136.0h1.1v1.1h-1.1zM184.0 129.8h1.1v1.1h-1.1zM189.7 140.1h1.1v1.1h-1.1zM193.5 127.0h1.1v1.1h-1.1zM179.4 141.5h1.1v1.1h-1.1zM189.2 140.0h1.1v1.1h-1.1zM218.0 134.9h1.1v1.1h-1.1zM193.0 145.3h1.1v1.1h-1.1zM194.7 116.6h1.1v1.1h-1.1zM195.1 107.1h1.1v1.1h-1.1zM195.8 125.9h1.1v1.1h-1.1zM188.0 144.4h1.1v1.1h-1.1zM203.6 146.3h1.1v1.1h-1.1zM184.7 122.2h1.1v1.1h-1.1zM176.9 133.7h1.1v1.1h-1.1zM205.0 138.1h1.1v1.1h-1.1zM202.0 121.3h1.1v1.1h-1.1zM191.1 141.9h1.1v1.1h-1.1zM207.3 145.7h1.1v1.1h-1.1zM198.7 145.7h1.1v1.1h-1.1zM192.9 144.6h1.1v1.1h-1.1zM192.9 142.7h1.1v1.1h-1.1zM192.4 120.6h1.1v1.1h-1.1zM222.4 124.1h1.1v1.1h-1.1zM209.4 129.0h1.1v1.1h-1.1zM196.2 142.9h1.1v1.1h-1.1zM215.8 132.0h1.1v1.1h-1.1zM187.7 143.7h1.1v1.1h-1.1zM219.0 137.7h1.1v1.1h-1.1zM211.2 136.1h1.1v1.1h-1.1zM201.1 133.3h1.1v1.1h-1.1zM192.1 139.6h1.1v1.1h-1.1zM199.9 144.1h1.1v1.1h-1.1zM184.6 112.1h1.1v1.1h-1.1zM193.3 126.9h1.1v1.1h-1.1zM215.6 143.4h1.1v1.1h-1.1zM193.1 143.7h1.1v1.1h-1.1zM186.1 143.8h1.1v1.1h-1.1zM207.6 138.7h1.1v1.1h-1.1zM193.9 138.8h1.1v1.1h-1.1zM216.0 131.5h1.1v1.1h-1.1zM200.2 123.5h1.1v1.1h-1.1zM192.1 141.8h1.1v1.1h-1.1zM203.2 132.0h1.1v1.1h-1.1zM190.6 138.3h1.1v1.1h-1.1zM187.2 144.7h1.1v1.1h-1.1zM208.3 138.7h1.1v1.1h-1.1zM190.6 129.5h1.1v1.1h-1.1zM202.9 141.7h1.1v1.1h-1.1zM214.4 128.1h1.1v1.1h-1.1zM204.7 135.4h1.1v1.1h-1.1zM202.2 139.3h1.1v1.1h-1.1zM186.2 143.8h1.1v1.1h-1.1zM207.6 140.2h1.1v1.1h-1.1zM217.6 143.3h1.1v1.1h-1.1zM197.2 127.0h1.1v1.1h-1.1zM182.2 135.7h1.1v1.1h-1.1zM192.0 145.0h1.1v1.1h-1.1zM198.6 124.7h1.1v1.1h-1.1zM187.6 129.5h1.1v1.1h-1.1zM187.8 140.2h1.1v1.1h-1.1zM178.0 134.2h1.1v1.1h-1.1zM204.1 145.3h1.1v1.1h-1.1zM194.8 140.7h1.1v1.1h-1.1zM190.5 143.8h1.1v1.1h-1.1zM196.6 124.3h1.1v1.1h-1.1zM192.0 144.3h1.1v1.1h-1.1zM201.2 137.0h1.1v1.1h-1.1zM201.8 138.0h1.1v1.1h-1.1zM209.1 140.1h1.1v1.1h-1.1zM175.1 146.3h1.1v1.1h-1.1zM196.5 117.3h1.1v1.1h-1.1zM198.0 130.5h1.1v1.1h-1.1zM200.1 137.2h1.1v1.1h-1.1zM189.2 129.8h1.1v1.1h-1.1zM195.1 142.5h1.1v1.1h-1.1zM195.8 137.1h1.1v1.1h-1.1zM188.8 135.0h1.1v1.1h-1.1zM187.9 145.8h1.1v1.1h-1.1zM206.5 135.2h1.1v1.1h-1.1zM194.6 137.7h1.1v1.1h-1.1zM190.8 132.0h1.1v1.1h-1.1zM214.7 124.0h1.1v1.1h-1.1zM210.0 145.9h1.1v1.1h-1.1zM197.0 143.3h1.1v1.1h-1.1zM201.8 145.5h1.1v1.1h-1.1zM188.3 142.6h1.1v1.1h-1.1zM197.6 139.7h1.1v1.1h-1.1zM183.0 132.4h1.1v1.1h-1.1zM211.6 145.2h1.1v1.1h-1.1zM197.2 142.1h1.1v1.1h-1.1zM198.5 145.2h1.1v1.1h-1.1zM178.1 143.9h1.1v1.1h-1.1zM215.8 140.7h1.1v1.1h-1.1zM201.4 117.1h1.1v1.1h-1.1zM189.2 145.7h1.1v1.1h-1.1zM203.2 114.0h1.1v1.1h-1.1zM184.6 140.2h1.1v1.1h-1.1zM196.1 130.4h1.1v1.1h-1.1zM203.4 144.3h1.1v1.1h-1.1zM185.6 140.8h1.1v1.1h-1.1zM206.1 134.6h1.1v1.1h-1.1zM189.6 137.5h1.1v1.1h-1.1zM182.4 143.4h1.1v1.1h-1.1zM200.6 137.5h1.1v1.1h-1.1zM200.1 141.4h1.1v1.1h-1.1zM193.5 123.1h1.1v1.1h-1.1zM198.9 135.7h1.1v1.1h-1.1zM196.7 135.5h1.1v1.1h-1.1zM204.2 145.0h1.1v1.1h-1.1zM186.2 142.6h1.1v1.1h-1.1zM192.7 144.0h1.1v1.1h-1.1zM178.9 135.2h1.1v1.1h-1.1zM187.7 146.3h1.1v1.1h-1.1zM183.0 140.1h1.1v1.1h-1.1zM190.0 142.0h1.1v1.1h-1.1zM210.8 145.0h1.1v1.1h-1.1zM192.5 129.3h1.1v1.1h-1.1zM188.7 142.5h1.1v1.1h-1.1zM177.0 145.1h1.1v1.1h-1.1zM191.1 132.1h1.1v1.1h-1.1zM221.5 146.2h1.1v1.1h-1.1zM208.2 132.3h1.1v1.1h-1.1zM192.1 141.0h1.1v1.1h-1.1zM202.3 138.8h1.1v1.1h-1.1zM191.9 138.4h1.1v1.1h-1.1zM200.0 142.6h1.1v1.1h-1.1zM208.1 140.2h1.1v1.1h-1.1zM194.7 143.7h1.1v1.1h-1.1zM206.9 135.1h1.1v1.1h-1.1zM195.0 126.8h1.1v1.1h-1.1zM181.9 142.9h1.1v1.1h-1.1zM209.0 145.2h1.1v1.1h-1.1zM209.1 123.7h1.1v1.1h-1.1zM200.3 144.0h1.1v1.1h-1.1zM178.8 142.9h1.1v1.1h-1.1zM204.1 144.7h1.1v1.1h-1.1zM185.0 115.8h1.1v1.1h-1.1zM195.5 121.5h1.1v1.1h-1.1zM198.1 140.6h1.1v1.1h-1.1zM211.7 146.1h1.1v1.1h-1.1zM173.0 142.5h1.1v1.1h-1.1zM205.8 136.8h1.1v1.1h-1.1zM196.0 118.1h1.1v1.1h-1.1zM193.0 145.2h1.1v1.1h-1.1zM191.2 146.3h1.1v1.1h-1.1zM214.3 141.3h1.1v1.1h-1.1zM206.1 146.3h1.1v1.1h-1.1zM206.3 144.7h1.1v1.1h-1.1zM197.8 145.5h1.1v1.1h-1.1zM201.7 144.1h1.1v1.1h-1.1zM190.8 127.6h1.1v1.1h-1.1zM196.3 140.6h1.1v1.1h-1.1zM196.9 126.4h1.1v1.1h-1.1zM205.5 146.0h1.1v1.1h-1.1zM196.7 114.7h1.1v1.1h-1.1zM191.8 140.7h1.1v1.1h-1.1zM178.2 145.3h1.1v1.1h-1.1zM183.8 145.8h1.1v1.1h-1.1zM191.7 132.5h1.1v1.1h-1.1zM182.6 142.9h1.1v1.1h-1.1zM189.6 140.2h1.1v1.1h-1.1zM197.1 142.9h1.1v1.1h-1.1zM188.7 143.0h1.1v1.1h-1.1zM192.0 135.2h1.1v1.1h-1.1zM214.8 139.0h1.1v1.1h-1.1zM207.6 143.6h1.1v1.1h-1.1zM207.3 138.8h1.1v1.1h-1.1zM206.1 132.5h1.1v1.1h-1.1zM188.7 122.0h1.1v1.1h-1.1zM205.4 143.0h1.1v1.1h-1.1zM194.1 114.9h1.1v1.1h-1.1zM196.0 136.1h1.1v1.1h-1.1zM218.1 144.0h1.1v1.1h-1.1zM213.6 128.2h1.1v1.1h-1.1zM196.7 137.5h1.1v1.1h-1.1zM217.1 144.4h1.1v1.1h-1.1zM208.0 143.2h1.1v1.1h-1.1zM191.4 139.7h1.1v1.1h-1.1zM192.0 132.7h1.1v1.1h-1.1zM210.9 145.3h1.1v1.1h-1.1zM206.6 139.4h1.1v1.1h-1.1zM186.6 146.0h1.1v1.1h-1.1zM182.8 144.2h1.1v1.1h-1.1zM208.1 140.4h1.1v1.1h-1.1zM194.2 141.3h1.1v1.1h-1.1zM190.7 134.9h1.1v1.1h-1.1zM179.2 140.8h1.1v1.1h-1.1zM184.5 144.2h1.1v1.1h-1.1zM191.1 113.7h1.1v1.1h-1.1zM192.6 139.6h1.1v1.1h-1.1zM201.5 131.6h1.1v1.1h-1.1zM189.8 132.7h1.1v1.1h-1.1zM217.2 123.2h1.1v1.1h-1.1zM188.8 143.1h1.1v1.1h-1.1zM200.0 142.4h1.1v1.1h-1.1zM184.3 141.4h1.1v1.1h-1.1zM203.7 126.0h1.1v1.1h-1.1zM175.9 134.3h1.1v1.1h-1.1zM200.2 137.3h1.1v1.1h-1.1zM202.9 143.9h1.1v1.1h-1.1zM194.2 144.7h1.1v1.1h-1.1zM201.6 132.6h1.1v1.1h-1.1zM200.7 142.1h1.1v1.1h-1.1zM219.0 125.7h1.1v1.1h-1.1zM194.1 141.0h1.1v1.1h-1.1zM205.6 146.4h1.1v1.1h-1.1zM186.7 146.4h1.1v1.1h-1.1zM201.4 124.8h1.1v1.1h-1.1zM196.8 111.0h1.1v1.1h-1.1zM197.2 143.6h1.1v1.1h-1.1zM197.0 145.3h1.1v1.1h-1.1zM199.5 132.9h1.1v1.1h-1.1zM185.1 143.4h1.1v1.1h-1.1zM190.3 142.8h1.1v1.1h-1.1zM194.9 122.5h1.1v1.1h-1.1zM212.8 146.3h1.1v1.1h-1.1zM212.7 132.8h1.1v1.1h-1.1zM203.5 137.7h1.1v1.1h-1.1zM180.5 128.1h1.1v1.1h-1.1zM205.1 143.1h1.1v1.1h-1.1zM208.8 140.9h1.1v1.1h-1.1zM203.5 137.1h1.1v1.1h-1.1zM213.8 129.9h1.1v1.1h-1.1z" fill="#36246a" fill-opacity="0.95"/>
<path d="M199.9 89.2h1v1h-1zM184.0 137.0h1v1h-1zM177.4 137.8h1v1h-1zM170.9 121.0h1v1h-1zM180.6 131.9h1v1h-1zM98.4 79.6h1v1h-1zM220.4 145.6h1v1h-1zM197.0 97.8h1v1h-1zM139.8 140.0h1v1h-1zM205.5 117.1h1v1h-1zM137.3 99.6h1v1h-1zM108.4 59.0h1v1h-1zM141.4 124.6h1v1h-1zM222.9 124.6h1v1h-1zM87.8 86.0h1v1h-1zM151.8 68.0h1v1h-1zM187.7 119.8h1v1h-1zM226.0 114.4h1v1h-1zM209.8 102.1h1v1h-1zM115.1 90.6h1v1h-1zM122.4 114.7h1v1h-1zM163.0 134.7h1v1h-1zM147.0 87.3h1v1h-1zM149.7 98.1h1v1h-1zM183.7 139.1h1v1h-1zM126.1 129.8h1v1h-1zM175.2 119.8h1v1h-1zM157.3 94.3h1v1h-1zM166.0 140.0h1v1h-1zM155.4 65.5h1v1h-1zM152.0 137.7h1v1h-1zM160.2 136.6h1v1h-1zM183.1 91.0h1v1h-1zM198.2 81.5h1v1h-1zM201.1 122.5h1v1h-1zM218.9 121.2h1v1h-1zM78.2 128.6h1v1h-1zM92.6 115.4h1v1h-1zM125.0 104.5h1v1h-1zM205.3 89.3h1v1h-1zM115.7 86.1h1v1h-1zM206.9 131.5h1v1h-1zM182.6 103.2h1v1h-1zM194.8 115.4h1v1h-1zM130.4 130.3h1v1h-1zM89.0 113.6h1v1h-1zM139.4 73.9h1v1h-1zM185.1 117.8h1v1h-1zM135.8 53.4h1v1h-1zM173.8 78.0h1v1h-1zM216.2 138.1h1v1h-1zM163.0 128.0h1v1h-1zM153.3 115.7h1v1h-1zM142.9 144.8h1v1h-1zM135.4 125.0h1v1h-1zM121.2 73.4h1v1h-1zM149.7 141.3h1v1h-1zM140.0 144.8h1v1h-1zM205.2 122.4h1v1h-1zM190.9 76.4h1v1h-1zM107.5 119.8h1v1h-1zM91.4 143.1h1v1h-1zM134.3 69.3h1v1h-1zM211.5 138.8h1v1h-1zM145.1 143.7h1v1h-1zM130.7 69.8h1v1h-1zM159.4 70.8h1v1h-1zM125.3 79.7h1v1h-1zM195.4 131.5h1v1h-1zM87.9 102.4h1v1h-1zM135.1 135.4h1v1h-1zM161.0 100.7h1v1h-1zM83.1 111.5h1v1h-1zM119.9 73.4h1v1h-1zM167.4 100.7h1v1h-1zM178.8 84.8h1v1h-1zM112.6 125.4h1v1h-1zM144.7 128.8h1v1h-1zM112.8 107.3h1v1h-1zM134.8 144.2h1v1h-1zM160.5 114.0h1v1h-1zM83.5 116.0h1v1h-1zM116.8 102.2h1v1h-1zM158.3 93.3h1v1h-1zM130.3 110.6h1v1h-1zM103.9 110.8h1v1h-1zM190.5 106.1h1v1h-1zM116.2 139.4h1v1h-1zM80.0 132.9h1v1h-1zM164.7 73.4h1v1h-1zM156.9 116.4h1v1h-1zM129.5 135.3h1v1h-1zM162.3 77.3h1v1h-1zM98.1 131.0h1v1h-1zM92.8 136.2h1v1h-1zM83.0 106.8h1v1h-1zM158.3 124.3h1v1h-1zM152.7 102.2h1v1h-1zM106.2 108.1h1v1h-1zM100.3 84.2h1v1h-1zM171.4 127.8h1v1h-1zM110.6 115.2h1v1h-1zM137.7 140.4h1v1h-1zM222.9 131.7h1v1h-1zM159.9 138.3h1v1h-1zM205.3 116.4h1v1h-1zM195.5 109.7h1v1h-1zM84.5 137.3h1v1h-1zM123.2 86.4h1v1h-1zM220.0 140.3h1v1h-1zM183.6 110.3h1v1h-1zM80.4 136.0h1v1h-1zM167.3 121.7h1v1h-1zM82.4 136.0h1v1h-1zM227.2 111.9h1v1h-1zM100.0 132.6h1v1h-1zM221.1 125.2h1v1h-1zM84.3 106.1h1v1h-1zM147.0 99.8h1v1h-1zM154.9 144.5h1v1h-1zM161.2 93.0h1v1h-1zM94.0 109.8h1v1h-1zM175.2 117.1h1v1h-1zM162.3 135.7h1v1h-1zM176.4 92.1h1v1h-1zM191.5 90.0h1v1h-1zM141.9 70.2h1v1h-1zM162.1 62.4h1v1h-1zM166.8 63.1h1v1h-1zM120.9 75.9h1v1h-1zM86.8 131.9h1v1h-1zM182.7 119.4h1v1h-1zM207.5 127.4h1v1h-1zM167.1 144.1h1v1h-1zM146.9 34.0h1v1h-1zM199.3 102.2h1v1h-1zM211.7 137.2h1v1h-1zM93.0 92.1h1v1h-1zM115.4 136.7h1v1h-1zM129.4 90.1h1v1h-1zM143.9 121.6h1v1h-1zM139.6 96.7h1v1h-1zM96.6 88.4h1v1h-1zM155.3 48.4h1v1h-1zM119.3 117.5h1v1h-1zM138.6 77.2h1v1h-1zM194.1 133.3h1v1h-1zM180.3 65.0h1v1h-1zM98.3 131.0h1v1h-1zM182.8 75.4h1v1h-1zM128.4 104.3h1v1h-1zM78.4 108.1h1v1h-1zM109.7 122.8h1v1h-1zM127.0 47.6h1v1h-1zM165.9 71.3h1v1h-1zM225.3 113.7h1v1h-1zM84.9 143.6h1v1h-1zM174.4 104.3h1v1h-1zM169.9 60.8h1v1h-1zM143.4 136.9h1v1h-1zM102.7 97.5h1v1h-1zM114.3 82.3h1v1h-1zM205.7 105.3h1v1h-1zM181.0 119.0h1v1h-1zM101.3 101.3h1v1h-1zM160.7 87.3h1v1h-1zM127.5 137.3h1v1h-1zM216.1 115.3h1v1h-1zM196.1 90.0h1v1h-1zM139.1 85.5h1v1h-1zM183.9 119.2h1v1h-1zM99.8 114.8h1v1h-1zM133.7 60.0h1v1h-1zM192.0 87.7h1v1h-1zM119.1 130.9h1v1h-1zM107.3 141.3h1v1h-1zM158.9 68.7h1v1h-1zM91.5 135.5h1v1h-1zM98.8 103.1h1v1h-1zM113.5 117.0h1v1h-1zM157.7 115.9h1v1h-1zM157.1 133.0h1v1h-1zM137.7 77.7h1v1h-1zM222.1 117.5h1v1h-1zM123.6 110.9h1v1h-1zM210.2 104.7h1v1h-1zM162.4 120.4h1v1h-1zM212.6 108.5h1v1h-1zM128.6 108.5h1v1h-1zM133.9 145.2h1v1h-1zM89.5 89.7h1v1h-1zM117.2 73.6h1v1h-1zM214.3 124.8h1v1h-1zM144.7 55.4h1v1h-1zM130.0 142.8h1v1h-1zM187.0 123.2h1v1h-1zM203.2 140.6h1v1h-1zM162.2 93.3h1v1h-1zM188.2 105.3h1v1h-1zM148.7 75.8h1v1h-1zM209.9 126.8h1v1h-1zM151.3 38.0h1v1h-1zM188.6 144.0h1v1h-1zM130.4 93.3h1v1h-1zM134.0 145.8h1v1h-1zM81.8 139.0h1v1h-1zM162.1 62.2h1v1h-1zM218.1 139.0h1v1h-1zM116.5 122.5h1v1h-1zM140.5 138.7h1v1h-1zM133.1 91.2h1v1h-1zM184.3 100.5h1v1h-1zM182.5 60.6h1v1h-1zM89.7 145.7h1v1h-1zM107.9 127.5h1v1h-1zM158.6 90.3h1v1h-1zM91.9 108.4h1v1h-1zM116.3 120.8h1v1h-1zM78.8 113.8h1v1h-1zM89.3 106.0h1v1h-1zM126.6 56.4h1v1h-1zM126.6 119.3h1v1h-1zM93.2 97.2h1v1h-1zM189.9 102.7h1v1h-1zM148.9 76.9h1v1h-1zM169.4 70.5h1v1h-1zM181.6 145.9h1v1h-1zM175.8 128.5h1v1h-1zM129.8 143.9h1v1h-1zM172.6 136.8h1v1h-1zM108.3 127.2h1v1h-1zM171.0 86.0h1v1h-1zM169.4 121.0h1v1h-1zM156.6 70.2h1v1h-1zM188.4 106.7h1v1h-1zM83.3 123.8h1v1h-1zM172.6 56.0h1v1h-1zM224.7 133.3h1v1h-1zM196.4 118.7h1v1h-1zM204.4 123.6h1v1h-1zM113.2 127.3h1v1h-1zM193.7 120.0h1v1h-1zM97.2 145.7h1v1h-1zM183.4 131.3h1v1h-1zM205.2 111.6h1v1h-1zM139.2 89.3h1v1h-1zM185.5 110.8h1v1h-1zM108.9 109.6h1v1h-1zM137.2 50.2h1v1h-1zM154.4 22.7h1v1h-1zM164.6 98.5h1v1h-1zM78.1 143.4h1v1h-1zM111.3 101.2h1v1h-1zM135.3 41.9h1v1h-1zM126.6 69.3h1v1h-1zM203.6 111.7h1v1h-1zM108.8 122.4h1v1h-1zM170.7 103.2h1v1h-1zM171.0 64.5h1v1h-1zM200.9 124.1h1v1h-1zM164.1 103.2h1v1h-1zM174.0 98.5h1v1h-1zM206.0 113.6h1v1h-1zM158.2 37.2h1v1h-1zM130.5 131.1h1v1h-1zM166.7 84.4h1v1h-1zM90.1 116.2h1v1h-1zM166.4 84.4h1v1h-1zM226.1 115.8h1v1h-1zM223.6 114.6h1v1h-1zM163.3 72.6h1v1h-1zM184.5 79.1h1v1h-1zM227.8 119.8h1v1h-1zM145.1 61.8h1v1h-1zM148.5 84.8h1v1h-1zM93.8 78.4h1v1h-1zM103.8 73.2h1v1h-1zM153.0 84.4h1v1h-1zM161.9 142.1h1v1h-1zM152.0 119.3h1v1h-1zM133.3 67.3h1v1h-1zM164.3 141.2h1v1h-1zM167.2 123.5h1v1h-1zM83.4 140.4h1v1h-1zM120.5 135.3h1v1h-1zM119.3 132.1h1v1h-1zM140.2 117.6h1v1h-1zM149.7 48.8h1v1h-1zM152.5 21.5h1v1h-1zM100.6 77.9h1v1h-1zM216.3 109.8h1v1h-1zM154.8 91.3h1v1h-1zM153.9 141.7h1v1h-1zM155.6 117.9h1v1h-1zM119.9 144.0h1v1h-1zM111.5 129.9h1v1h-1zM155.4 85.7h1v1h-1zM165.0 73.4h1v1h-1zM202.6 105.6h1v1h-1zM223.3 128.2h1v1h-1zM196.8 114.8h1v1h-1zM97.5 95.0h1v1h-1zM79.5 142.4h1v1h-1zM117.6 128.5h1v1h-1zM196.9 132.5h1v1h-1zM169.0 95.4h1v1h-1zM155.6 29.9h1v1h-1zM197.5 86.6h1v1h-1zM133.3 71.9h1v1h-1zM105.2 91.2h1v1h-1zM149.0 108.4h1v1h-1zM154.1 56.1h1v1h-1zM172.5 52.8h1v1h-1zM154.5 84.8h1v1h-1zM192.8 80.4h1v1h-1zM116.0 124.6h1v1h-1zM88.7 97.7h1v1h-1zM206.4 104.0h1v1h-1zM144.2 104.5h1v1h-1zM132.7 118.1h1v1h-1zM82.7 98.8h1v1h-1zM155.6 51.9h1v1h-1zM107.7 96.7h1v1h-1zM149.4 136.5h1v1h-1zM183.1 93.2h1v1h-1zM203.3 93.8h1v1h-1zM96.7 133.5h1v1h-1zM207.9 107.3h1v1h-1zM170.7 129.8h1v1h-1zM164.4 38.8h1v1h-1zM100.4 75.8h1v1h-1zM104.0 143.9h1v1h-1zM127.0 101.8h1v1h-1zM147.0 51.1h1v1h-1zM183.5 96.3h1v1h-1zM177.7 83.4h1v1h-1zM124.5 126.6h1v1h-1zM154.7 108.0h1v1h-1zM135.6 87.3h1v1h-1zM227.4 133.9h1v1h-1zM101.7 127.0h1v1h-1zM198.7 100.3h1v1h-1zM139.6 62.4h1v1h-1zM209.3 104.8h1v1h-1zM159.8 130.3h1v1h-1zM131.7 104.9h1v1h-1zM152.6 48.9h1v1h-1zM213.3 142.1h1v1h-1zM155.2 28.7h1v1h-1zM119.4 137.0h1v1h-1zM204.8 127.1h1v1h-1zM136.3 70.7h1v1h-1zM157.0 128.7h1v1h-1zM194.8 99.8h1v1h-1zM148.9 142.5h1v1h-1zM162.2 111.8h1v1h-1zM192.0 141.9h1v1h-1zM196.6 139.1h1v1h-1zM160.1 123.0h1v1h-1zM172.4 102.6h1v1h-1zM89.6 139.4h1v1h-1zM136.2 127.0h1v1h-1zM172.6 72.6h1v1h-1zM156.8 77.7h1v1h-1zM143.3 69.8h1v1h-1zM83.9 103.6h1v1h-1zM142.9 56.6h1v1h-1zM120.1 102.7h1v1h-1zM146.5 88.0h1v1h-1zM175.9 71.2h1v1h-1zM180.3 90.8h1v1h-1zM199.6 103.5h1v1h-1zM169.2 101.0h1v1h-1zM194.1 128.2h1v1h-1zM133.8 82.2h1v1h-1zM97.4 142.8h1v1h-1zM170.4 96.2h1v1h-1zM122.1 90.6h1v1h-1zM175.2 87.7h1v1h-1zM90.3 107.8h1v1h-1zM136.7 88.0h1v1h-1zM164.9 60.5h1v1h-1zM106.1 137.3h1v1h-1zM134.8 94.0h1v1h-1zM177.0 83.4h1v1h-1zM110.5 68.2h1v1h-1zM104.1 105.4h1v1h-1zM184.8 139.5h1v1h-1zM201.8 115.0h1v1h-1zM197.3 100.7h1v1h-1zM92.6 125.3h1v1h-1zM98.1 113.7h1v1h-1zM139.6 93.1h1v1h-1zM158.9 75.5h1v1h-1zM181.8 136.6h1v1h-1zM159.4 61.3h1v1h-1zM190.4 120.7h1v1h-1zM128.3 82.4h1v1h-1zM136.8 70.0h1v1h-1zM150.5 107.5h1v1h-1zM177.3 79.6h1v1h-1zM159.9 140.6h1v1h-1zM100.9 126.5h1v1h-1zM154.7 37.8h1v1h-1zM113.0 93.3h1v1h-1zM156.0 99.9h1v1h-1zM170.4 134.1h1v1h-1zM183.6 121.2h1v1h-1zM140.5 52.1h1v1h-1zM170.8 64.1h1v1h-1zM157.6 102.4h1v1h-1zM133.0 139.7h1v1h-1zM83.2 114.8h1v1h-1zM215.6 132.2h1v1h-1zM157.0 37.3h1v1h-1zM164.0 123.4h1v1h-1zM113.8 106.2h1v1h-1zM186.2 91.5h1v1h-1zM123.1 113.5h1v1h-1zM172.8 86.4h1v1h-1zM127.3 77.5h1v1h-1zM154.5 49.0h1v1h-1zM112.7 132.2h1v1h-1zM210.0 111.3h1v1h-1zM217.9 97.7h1v1h-1zM155.8 79.9h1v1h-1zM121.4 134.2h1v1h-1zM198.3 104.9h1v1h-1zM188.2 102.8h1v1h-1zM152.8 81.5h1v1h-1zM117.2 125.6h1v1h-1zM182.6 105.2h1v1h-1zM164.0 102.3h1v1h-1zM144.6 142.0h1v1h-1zM148.1 25.2h1v1h-1zM116.6 137.0h1v1h-1zM145.6 139.5h1v1h-1zM93.9 122.9h1v1h-1zM221.6 103.9h1v1h-1zM89.4 124.1h1v1h-1zM165.1 105.5h1v1h-1zM189.0 88.8h1v1h-1zM114.1 77.2h1v1h-1zM98.1 131.4h1v1h-1zM190.4 119.1h1v1h-1zM159.3 145.0h1v1h-1zM136.1 142.8h1v1h-1zM210.4 105.3h1v1h-1zM167.7 117.9h1v1h-1zM149.8 50.2h1v1h-1zM137.5 74.7h1v1h-1zM166.2 131.6h1v1h-1zM148.9 104.3h1v1h-1zM215.3 113.8h1v1h-1zM92.2 99.7h1v1h-1zM177.9 103.1h1v1h-1zM172.6 105.5h1v1h-1zM87.1 131.1h1v1h-1zM155.2 92.4h1v1h-1zM191.3 84.8h1v1h-1z" fill="#36246a" fill-opacity="0.7"/>
<rect x="81.5" y="137" width="2" height="2" fill="#2a8a4a"/><rect x="82.5" y="138.5" width="2" height="2" fill="#c0304a"/><rect x="80" y="140" width="2" height="2" fill="#1a1a7a"/>
<path d="M66 10.7V178.3H232.8" fill="none" stroke="#7a7a7a" stroke-width="1.1"/>
<path d="M62.6 10.7H66" stroke="#333" stroke-width="0.9"/>
<text x="61.3" y="12.1" font-size="3.8" font-weight="bold" text-anchor="end" fill="#222" stroke="#222" stroke-width="0.12">1023</text>
<path d="M62.6 47H66" stroke="#333" stroke-width="0.9"/>
<text x="61.3" y="48.4" font-size="3.8" font-weight="bold" text-anchor="end" fill="#222" stroke="#222" stroke-width="0.12">800</text>
<path d="M62.6 80H66" stroke="#333" stroke-width="0.9"/>
<text x="61.3" y="81.4" font-size="3.8" font-weight="bold" text-anchor="end" fill="#222" stroke="#222" stroke-width="0.12">600</text>
<path d="M62.6 112.4H66" stroke="#333" stroke-width="0.9"/>
<text x="61.3" y="113.80000000000001" font-size="3.8" font-weight="bold" text-anchor="end" fill="#222" stroke="#222" stroke-width="0.12">400</text>
<path d="M62.6 145.3H66" stroke="#333" stroke-width="0.9"/>
<text x="61.3" y="146.70000000000002" font-size="3.8" font-weight="bold" text-anchor="end" fill="#222" stroke="#222" stroke-width="0.12">200</text>
<path d="M66 178V181" stroke="#7a7a7a" stroke-width="0.8"/>
<text x="66" y="186" font-size="3.8" font-weight="bold" text-anchor="middle" fill="#222" stroke="#222" stroke-width="0.12">0</text>
<path d="M99 178V181" stroke="#7a7a7a" stroke-width="0.8"/>
<text x="99" y="186" font-size="3.8" font-weight="bold" text-anchor="middle" fill="#222" stroke="#222" stroke-width="0.12">200</text>
<path d="M131.4 178V181" stroke="#7a7a7a" stroke-width="0.8"/>
<text x="131.4" y="186" font-size="3.8" font-weight="bold" text-anchor="middle" fill="#222" stroke="#222" stroke-width="0.12">400</text>
<path d="M163.7 178V181" stroke="#7a7a7a" stroke-width="0.8"/>
<text x="163.7" y="186" font-size="3.8" font-weight="bold" text-anchor="middle" fill="#222" stroke="#222" stroke-width="0.12">600</text>
<path d="M196.3 178V181" stroke="#7a7a7a" stroke-width="0.8"/>
<text x="196.3" y="186" font-size="3.8" font-weight="bold" text-anchor="middle" fill="#222" stroke="#222" stroke-width="0.12">800</text>
<path d="M232.5 178V181" stroke="#7a7a7a" stroke-width="0.8"/>
<text x="232.5" y="186" font-size="3.8" font-weight="bold" text-anchor="middle" fill="#222" stroke="#222" stroke-width="0.12">1023</text>
<text transform="translate(45.6 95) rotate(-90)" x="0" y="0" font-size="9.8" font-weight="bold" text-anchor="middle" fill="#111" stroke="#111" stroke-width="0.22">Total DNA Stainability</text>
<text x="149.2" y="198.6" font-size="9.75" font-weight="bold" text-anchor="middle" fill="#111" stroke="#111" stroke-width="0.22">DNA Fragmentation Index</text>
<rect x="68" y="62.2" width="104.3" height="13.6" rx="6.8" fill="#ed6c21"/>
<text x="74.6" y="72.7" font-size="9.9" font-weight="bold" fill="#fff" stroke="#fff" stroke-width="0.3" textLength="90.4" lengthAdjust="spacingAndGlyphs">NATIVE INTACT DNA</text>
<rect x="99.7" y="162" width="104.9" height="13.6" rx="6.8" fill="#ed6c21"/>
<text x="108" y="172.5" font-size="9.8" font-weight="bold" fill="#fff" stroke="#fff" stroke-width="0.3" textLength="88.3" lengthAdjust="spacingAndGlyphs" xml:space="preserve">FRAGMENTED  DNA</text>
<path d="M71.4 138.6V96H66.8L72.6 80L78.6 96H73.8V138.6Z" fill="#ed2a3d"/>
<path d="M102 152.8H181.7V148.3L199.2 154L181.7 159.7V155.3H102Z" fill="#ed2a3d"/>
<path d="M316.00 178.00 316.00 178.00 316.30 178.00 316.30 177.79 316.60 177.79 316.60 177.68 316.90 177.68 316.90 177.28 317.20 177.28 317.20 177.29 317.50 177.29 317.50 176.94 317.80 176.94 317.80 176.79 318.10 176.79 318.10 176.34 318.40 176.34 318.40 175.98 318.70 175.98 318.70 175.31 319.00 175.31 319.00 175.37 319.30 175.37 319.30 174.80 319.60 174.80 319.60 174.46 319.90 174.46 319.90 173.13 320.20 173.13 320.20 171.44 320.50 171.44 320.50 171.10 320.80 171.10 320.80 165.43 321.10 165.43 321.10 163.79 321.40 163.79 321.40 166.15 321.70 166.15 321.70 162.32 322.00 162.32 322.00 164.45 322.30 164.45 322.30 161.60 322.60 161.60 322.60 159.99 322.90 159.99 322.90 156.94 323.20 156.94 323.20 156.30 323.50 156.30 323.50 154.54 323.80 154.54 323.80 145.83 324.10 145.83 324.10 145.65 324.40 145.65 324.40 145.80 324.70 145.80 324.70 146.19 325.00 146.19 325.00 153.32 325.30 153.32 325.30 149.03 325.60 149.03 325.60 154.86 325.90 154.86 325.90 154.15 326.20 154.15 326.20 157.78 326.50 157.78 326.50 151.42 326.80 151.42 326.80 151.44 327.10 151.44 327.10 151.60 327.40 151.60 327.40 152.73 327.70 152.73 327.70 158.20 328.00 158.20 328.00 158.58 328.30 158.58 328.30 160.01 328.60 160.01 328.60 161.42 328.90 161.42 328.90 161.85 329.20 161.85 329.20 166.17 329.50 166.17 329.50 155.56 329.80 155.56 329.80 160.23 330.10 160.23 330.10 159.66 330.40 159.66 330.40 154.93 330.70 154.93 330.70 154.33 331.00 154.33 331.00 154.38 331.30 154.38 331.30 154.09 331.60 154.09 331.60 160.61 331.90 160.61 331.90 160.97 332.20 160.97 332.20 165.29 332.50 165.29 332.50 163.63 332.80 163.63 332.80 164.28 333.10 164.28 333.10 160.62 333.40 160.62 333.40 160.01 333.70 160.01 333.70 161.17 334.00 161.17 334.00 160.39 334.30 160.39 334.30 164.65 334.60 164.65 334.60 164.45 334.90 164.45 334.90 166.50 335.20 166.50 335.20 165.97 335.50 165.97 335.50 169.14 335.80 169.14 335.80 166.48 336.10 166.48 336.10 169.61 336.40 169.61 336.40 166.32 336.70 166.32 336.70 166.02 337.00 166.02 337.00 168.72 337.30 168.72 337.30 169.74 337.60 169.74 337.60 168.63 337.90 168.63 337.90 166.46 338.20 166.46 338.20 166.72 338.50 166.72 338.50 165.90 338.80 165.90 338.80 171.26 339.10 171.26 339.10 168.51 339.40 168.51 339.40 170.77 339.70 170.77 339.70 168.51 340.00 168.51 340.00 170.13 340.30 170.13 340.30 172.20 340.60 172.20 340.60 171.41 340.90 171.41 340.90 172.56 341.20 172.56 341.20 172.59 341.50 172.59 341.50 170.00 341.80 170.00 341.80 172.70 342.10 172.70 342.10 171.19 342.40 171.19 342.40 171.48 342.70 171.48 342.70 171.34 343.00 171.34 343.00 168.51 343.30 168.51 343.30 168.69 343.60 168.69 343.60 168.97 343.90 168.97 343.90 168.79 344.20 168.79 344.20 171.76 344.50 171.76 344.50 171.92 344.80 171.92 344.80 170.93 345.10 170.93 345.10 172.52 345.40 172.52 345.40 172.79 345.70 172.79 345.70 173.64 346.00 173.64 346.00 174.52 346.30 174.52 346.30 173.30 346.60 173.30 346.60 174.34 346.90 174.34 346.90 173.62 347.20 173.62 347.20 173.33 347.50 173.33 347.50 173.60 347.80 173.60 347.80 174.25 348.10 174.25 348.10 172.85 348.40 172.85 348.40 173.11 348.70 173.11 348.70 173.07 349.00 173.07 349.00 170.57 349.30 170.57 349.30 170.56 349.60 170.56 349.60 170.95 349.90 170.95 349.90 170.60 350.20 170.60 350.20 172.93 350.50 172.93 350.50 172.39 350.80 172.39 350.80 172.41 351.10 172.41 351.10 173.43 351.40 173.43 351.40 174.16 351.70 174.16 351.70 173.82 352.00 173.82 352.00 173.92 352.30 173.92 352.30 174.12 352.60 174.12 352.60 174.21 352.90 174.21 352.90 173.25 353.20 173.25 353.20 173.39 353.50 173.39 353.50 174.83 353.80 174.83 353.80 174.94 354.10 174.94 354.10 174.61 354.40 174.61 354.40 173.84 354.70 173.84 354.70 174.94 355.00 174.94 355.00 173.87 355.30 173.87 355.30 172.68 355.60 172.68 355.60 173.91 355.90 173.91 355.90 172.99 356.20 172.99 356.20 173.23 356.50 173.23 356.50 173.28 356.80 173.28 356.80 173.82 357.10 173.82 357.10 174.52 357.40 174.52 357.40 174.70 357.70 174.70 357.70 173.80 358.00 173.80 358.00 172.82 358.30 172.82 358.30 173.65 358.60 173.65 358.60 173.10 358.90 173.10 358.90 174.25 359.20 174.25 359.20 174.48 359.50 174.48 359.50 173.55 359.80 173.55 359.80 174.23 360.10 174.23 360.10 172.84 360.40 172.84 360.40 172.13 360.70 172.13 360.70 173.83 361.00 173.83 361.00 174.27 361.30 174.27 361.30 172.60 361.60 172.60 361.60 171.73 361.90 171.73 361.90 174.00 362.20 174.00 362.20 173.95 362.50 173.95 362.50 173.23 362.80 173.23 362.80 171.01 363.10 171.01 363.10 172.84 363.40 172.84 363.40 172.39 363.70 172.39 363.70 173.99 364.00 173.99 364.00 174.02 364.30 174.02 364.30 173.15 364.60 173.15 364.60 172.76 364.90 172.76 364.90 173.74 365.20 173.74 365.20 171.61 365.50 171.61 365.50 174.10 365.80 174.10 365.80 173.47 366.10 173.47 366.10 172.94 366.40 172.94 366.40 173.13 366.70 173.13 366.70 172.27 367.00 172.27 367.00 173.64 367.30 173.64 367.30 170.86 367.60 170.86 367.60 172.33 367.90 172.33 367.90 172.29 368.20 172.29 368.20 172.73 368.50 172.73 368.50 171.10 368.80 171.10 368.80 173.36 369.10 173.36 369.10 173.11 369.40 173.11 369.40 173.76 369.70 173.76 369.70 172.97 370.00 172.97 370.00 172.52 370.30 172.52 370.30 173.32 370.60 173.32 370.60 173.52 370.90 173.52 370.90 172.35 371.20 172.35 371.20 172.73 371.50 172.73 371.50 174.28 371.80 174.28 371.80 172.57 372.10 172.57 372.10 172.07 372.40 172.07 372.40 173.57 372.70 173.57 372.70 172.39 373.00 172.39 373.00 172.23 373.30 172.23 373.30 173.65 373.60 173.65 373.60 173.08 373.90 173.08 373.90 171.11 374.20 171.11 374.20 172.64 374.50 172.64 374.50 173.35 374.80 173.35 374.80 174.20 375.10 174.20 375.10 174.19 375.40 174.19 375.40 173.05 375.70 173.05 375.70 172.01 376.00 172.01 376.00 172.04 376.30 172.04 376.30 174.06 376.60 174.06 376.60 173.05 376.90 173.05 376.90 172.29 377.20 172.29 377.20 172.05 377.50 172.05 377.50 172.10 377.80 172.10 377.80 172.31 378.10 172.31 378.10 172.07 378.40 172.07 378.40 171.96 378.70 171.96 378.70 173.28 379.00 173.28 379.00 171.09 379.30 171.09 379.30 172.85 379.60 172.85 379.60 173.37 379.90 173.37 379.90 172.45 380.20 172.45 380.20 172.58 380.50 172.58 380.50 173.31 380.80 173.31 380.80 173.05 381.10 173.05 381.10 173.55 381.40 173.55 381.40 173.27 381.70 173.27 381.70 173.83 382.00 173.83 382.00 173.03 382.30 173.03 382.30 171.38 382.60 171.38 382.60 172.89 382.90 172.89 382.90 171.97 383.20 171.97 383.20 171.64 383.50 171.64 383.50 173.44 383.80 173.44 383.80 173.82 384.10 173.82 384.10 173.61 384.40 173.61 384.40 172.67 384.70 172.67 384.70 172.54 385.00 172.54 385.00 174.05 385.30 174.05 385.30 173.15 385.60 173.15 385.60 172.14 385.90 172.14 385.90 172.34 386.20 172.34 386.20 170.80 386.50 170.80 386.50 173.26 386.80 173.26 386.80 173.15 387.10 173.15 387.10 173.76 387.40 173.76 387.40 171.72 387.70 171.72 387.70 172.21 388.00 172.21 388.00 173.64 388.30 173.64 388.30 173.47 388.60 173.47 388.60 172.12 388.90 172.12 388.90 173.81 389.20 173.81 389.20 173.33 389.50 173.33 389.50 172.83 389.80 172.83 389.80 172.04 390.10 172.04 390.10 173.64 390.40 173.64 390.40 173.38 390.70 173.38 390.70 172.74 391.00 172.74 391.00 172.20 391.30 172.20 391.30 172.94 391.60 172.94 391.60 173.02 391.90 173.02 391.90 172.42 392.20 172.42 392.20 174.00 392.50 174.00 392.50 172.85 392.80 172.85 392.80 174.23 393.10 174.23 393.10 174.33 393.40 174.33 393.40 172.66 393.70 172.66 393.70 174.38 394.00 174.38 394.00 172.24 394.30 172.24 394.30 173.61 394.60 173.61 394.60 172.65 394.90 172.65 394.90 173.62 395.20 173.62 395.20 172.27 395.50 172.27 395.50 173.47 395.80 173.47 395.80 172.87 396.10 172.87 396.10 173.43 396.40 173.43 396.40 173.58 396.70 173.58 396.70 172.73 397.00 172.73 397.00 172.84 397.30 172.84 397.30 172.69 397.60 172.69 397.60 172.43 397.90 172.43 397.90 171.64 398.20 171.64 398.20 170.95 398.50 170.95 398.50 173.82 398.80 173.82 398.80 174.45 399.10 174.45 399.10 172.83 399.40 172.83 399.40 173.07 399.70 173.07 399.70 174.30 400.00 174.30 400.00 172.90 400.30 172.90 400.30 173.32 400.60 173.32 400.60 173.46 400.90 173.46 400.90 173.48 401.20 173.48 401.20 172.96 401.50 172.96 401.50 172.87 401.80 172.87 401.80 173.09 402.10 173.09 402.10 172.61 402.40 172.61 402.40 172.87 402.70 172.87 402.70 173.76 403.00 173.76 403.00 171.68 403.30 171.68 403.30 171.16 403.60 171.16 403.60 173.30 403.90 173.30 403.90 172.98 404.20 172.98 404.20 172.92 404.50 172.92 404.50 174.25 404.80 174.25 404.80 172.66 405.10 172.66 405.10 174.04 405.40 174.04 405.40 173.42 405.70 173.42 405.70 173.47 406.00 173.47 406.00 172.44 406.30 172.44 406.30 172.45 406.60 172.45 406.60 174.13 406.90 174.13 406.90 173.70 407.20 173.70 407.20 173.32 407.50 173.32 407.50 173.87 407.80 173.87 407.80 173.72 408.10 173.72 408.10 173.46 408.40 173.46 408.40 172.41 408.70 172.41 408.70 174.49 409.00 174.49 409.00 173.40 409.30 173.40 409.30 172.76 409.60 172.76 409.60 173.69 409.90 173.69 409.90 173.68 410.20 173.68 410.20 172.75 410.50 172.75 410.50 173.62 410.80 173.62 410.80 173.78 411.10 173.78 411.10 171.02 411.40 171.02 411.40 172.84 411.70 172.84 411.70 173.15 412.00 173.15 412.00 172.89 412.30 172.89 412.30 173.70 412.60 173.70 412.60 174.04 412.90 174.04 412.90 172.71 413.20 172.71 413.20 173.56 413.50 173.56 413.50 171.96 413.80 171.96 413.80 173.29 414.10 173.29 414.10 173.36 414.40 173.36 414.40 173.95 414.70 173.95 414.70 173.74 415.00 173.74 415.00 172.93 415.30 172.93 415.30 174.43 415.60 174.43 415.60 173.34 415.90 173.34 415.90 173.06 416.20 173.06 416.20 171.05 416.50 171.05 416.50 173.21 416.80 173.21 416.80 172.59 417.10 172.59 417.10 171.56 417.40 171.56 417.40 173.63 417.70 173.63 417.70 172.76 418.00 172.76 418.00 172.73 418.30 172.73 418.30 172.34 418.60 172.34 418.60 173.94 418.90 173.94 418.90 172.53 419.20 172.53 419.20 173.89 419.50 173.89 419.50 173.16 419.80 173.16 419.80 173.09 420.10 173.09 420.10 174.41 420.40 174.41 420.40 172.99 420.70 172.99 420.70 174.41 421.00 174.41 421.00 174.38 421.30 174.38 421.30 173.08 421.60 173.08 421.60 172.41 421.90 172.41 421.90 173.80 422.20 173.80 422.20 172.65 422.50 172.65 422.50 173.22 422.80 173.22 422.80 173.49 423.10 173.49 423.10 173.53 423.40 173.53 423.40 172.83 423.70 172.83 423.70 173.73 424.00 173.73 424.00 172.59 424.30 172.59 424.30 173.69 424.60 173.69 424.60 174.15 424.90 174.15 424.90 172.97 425.20 172.97 425.20 173.61 425.50 173.61 425.50 173.42 425.80 173.42 425.80 174.37 426.10 174.37 426.10 174.22 426.40 174.22 426.40 173.23 426.70 173.23 426.70 174.15 427.00 174.15 427.00 173.96 427.30 173.96 427.30 172.86 427.60 172.86 427.60 173.84 427.90 173.84 427.90 174.23 428.20 174.23 428.20 172.73 428.50 172.73 428.50 173.86 428.80 173.86 428.80 172.96 429.10 172.96 429.10 171.76 429.40 171.76 429.40 173.64 429.70 173.64 429.70 173.23 430.00 173.23 430.00 174.15 430.30 174.15 430.30 171.45 430.60 171.45 430.60 173.25 430.90 173.25 430.90 172.01 431.20 172.01 431.20 173.16 431.50 173.16 431.50 174.51 431.80 174.51 431.80 173.78 432.10 173.78 432.10 173.90 432.40 173.90 432.40 173.00 432.70 173.00 432.70 173.67 433.00 173.67 433.00 173.84 433.30 173.84 433.30 173.35 433.60 173.35 433.60 174.24 433.90 174.24 433.90 173.68 434.20 173.68 434.20 174.72 434.50 174.72 434.50 173.88 434.80 173.88 434.80 173.10 435.10 173.10 435.10 173.33 435.40 173.33 435.40 173.56 435.70 173.56 435.70 174.67 436.00 174.67 436.00 174.46 436.30 174.46 436.30 172.76 436.60 172.76 436.60 174.45 436.90 174.45 436.90 173.92 437.20 173.92 437.20 174.78 437.50 174.78 437.50 174.32 437.80 174.32 437.80 174.70 438.10 174.70 438.10 174.05 438.40 174.05 438.40 173.94 438.70 173.94 438.70 173.43 439.00 173.43 439.00 171.71 439.30 171.71 439.30 174.68 439.60 174.68 439.60 173.41 439.90 173.41 439.90 173.16 440.20 173.16 440.20 173.48 440.50 173.48 440.50 173.14 440.80 173.14 440.80 174.01 441.10 174.01 441.10 173.22 441.40 173.22 441.40 172.73 441.70 172.73 441.70 174.55 442.00 174.55 442.00 174.22 442.30 174.22 442.30 172.94 442.60 172.94 442.60 173.97 442.90 173.97 442.90 174.10 443.20 174.10 443.20 172.97 443.50 172.97 443.50 172.91 443.80 172.91 443.80 174.69 444.10 174.69 444.10 174.63 444.40 174.63 444.40 173.62 444.70 173.62 444.70 173.15 445.00 173.15 445.00 172.85 445.30 172.85 445.30 172.92 445.60 172.92 445.60 174.02 445.90 174.02 445.90 173.33 446.20 173.33 446.20 174.70 446.50 174.70 446.50 173.24 446.80 173.24 446.80 172.10 447.10 172.10 447.10 174.52 447.40 174.52 447.40 173.90 447.70 173.90 447.70 173.27 448.00 173.27 448.00 174.35 448.30 174.35 448.30 173.50 448.60 173.50 448.60 172.93 448.90 172.93 448.90 174.65 449.20 174.65 449.20 173.32 449.50 173.32 449.50 173.09 449.80 173.09 449.80 173.43 450.10 173.43 450.10 174.42 450.40 174.42 450.40 173.34 450.70 173.34 450.70 174.33 451.00 174.33 451.00 174.04 451.30 174.04 451.30 174.09 451.60 174.09 451.60 173.63 451.90 173.63 451.90 174.03 452.20 174.03 452.20 173.18 452.50 173.18 452.50 172.72 452.80 172.72 452.80 173.11 453.10 173.11 453.10 174.53 453.40 174.53 453.40 173.29 453.70 173.29 453.70 173.30 454.00 173.30 454.00 173.82 454.30 173.82 454.30 172.88 454.60 172.88 454.60 173.68 454.90 173.68 454.90 172.57 455.20 172.57 455.20 171.31 455.50 171.31 455.50 174.49 455.80 174.49 455.80 173.22 456.10 173.22 456.10 173.02 456.40 173.02 456.40 174.22 456.70 174.22 456.70 172.50 457.00 172.50 457.00 172.52 457.30 172.52 457.30 173.57 457.60 173.57 457.60 172.60 457.90 172.60 457.90 174.36 458.20 174.36 458.20 173.07 458.50 173.07 458.50 174.18 458.80 174.18 458.80 174.23 459.10 174.23 459.10 174.31 459.40 174.31 459.40 174.06 459.70 174.06 459.70 174.28 460.00 174.28 460.00 173.15 460.30 173.15 460.30 173.13 460.60 173.13 460.60 173.11 460.90 173.11 460.90 173.36 461.20 173.36 461.20 173.01 461.50 173.01 461.50 173.59 461.80 173.59 461.80 174.17 462.10 174.17 462.10 173.10 462.40 173.10 462.40 174.21 462.70 174.21 462.70 172.26 463.00 172.26 463.00 173.48 463.30 173.48 463.30 173.99 463.60 173.99 463.60 172.13 463.90 172.13 463.90 173.58 464.20 173.58 464.20 173.83 464.50 173.83 464.50 172.72 464.80 172.72 464.80 172.71 465.10 172.71 465.10 171.45 465.40 171.45 465.40 173.76 465.70 173.76 465.70 172.15 466.00 172.15 466.00 171.30 466.30 171.30 466.30 171.04 466.60 171.04 466.60 171.98 466.90 171.98 466.90 173.00 467.20 173.00 467.20 172.10 467.50 172.10 467.50 170.67 467.80 170.67 467.80 172.30 468.10 172.30 468.10 169.78 468.40 169.78 468.40 171.40 468.70 171.40 468.70 167.51 469.00 167.51 469.00 170.63 469.30 170.63 469.30 169.08 469.60 169.08 469.60 169.72 469.90 169.72 469.90 168.92 470.20 168.92 470.20 170.10 470.50 170.10 470.50 168.72 470.80 168.72 470.80 169.44 471.10 169.44 471.10 167.91 471.40 167.91 471.40 167.99 471.70 167.99 471.70 166.82 472.00 166.82 472.00 166.95 472.30 166.95 472.30 163.65 472.60 163.65 472.60 163.70 472.90 163.70 472.90 163.58 473.20 163.58 473.20 163.85 473.50 163.85 473.50 167.39 473.80 167.39 473.80 167.52 474.10 167.52 474.10 167.88 474.40 167.88 474.40 171.10 474.70 171.10 474.70 167.66 475.00 167.66 475.00 168.44 475.30 168.44 475.30 167.64 475.60 167.64 475.60 165.25 475.90 165.25 475.90 165.50 476.20 165.50 476.20 165.11 476.50 165.11 476.50 165.62 476.80 165.62 476.80 168.67 477.10 168.67 477.10 168.43 477.40 168.43 477.40 163.53 477.70 163.53 477.70 169.75 478.00 169.75 478.00 168.72 478.30 168.72 478.30 170.41 478.60 170.41 478.60 166.01 478.90 166.01 478.90 169.00 479.20 169.00 479.20 166.77 479.50 166.77 479.50 168.29 479.80 168.29 479.80 166.76 480.10 166.76 480.10 168.35 480.40 168.35 480.40 168.83 480.70 168.83 480.70 166.27 481.00 166.27 481.00 169.56 481.30 169.56 481.30 166.95 481.60 166.95 481.60 167.76 481.90 167.76 481.90 167.79 482.20 167.79 482.20 161.49 482.50 161.49 482.50 169.06 482.80 169.06 482.80 166.73 483.10 166.73 483.10 166.27 483.40 166.27 483.40 163.81 483.70 163.81 483.70 164.87 484.00 164.87 484.00 165.46 484.30 165.46 484.30 167.65 484.60 167.65 484.60 166.33 484.90 166.33 484.90 168.42 485.20 168.42 485.20 165.59 485.50 165.59 485.50 165.03 485.80 165.03 485.80 167.26 486.10 167.26 486.10 162.35 486.40 162.35 486.40 162.75 486.70 162.75 486.70 162.95 487.00 162.95 487.00 162.71 487.30 162.71 487.30 166.45 487.60 166.45 487.60 166.35 487.90 166.35 487.90 166.00 488.20 166.00 488.20 168.84 488.50 168.84 488.50 160.08 488.80 160.08 488.80 167.88 489.10 167.88 489.10 167.12 489.40 167.12 489.40 165.94 489.70 165.94 489.70 167.53 490.00 167.53 490.00 164.84 490.30 164.84 490.30 162.74 490.60 162.74 490.60 166.99 490.90 166.99 490.90 166.09 491.20 166.09 491.20 162.82 491.50 162.82 491.50 164.67 491.80 164.67 491.80 166.47 492.10 166.47 492.10 165.26 492.40 165.26 492.40 163.15 492.70 163.15 492.70 167.38 493.00 167.38 493.00 162.70 493.30 162.70 493.30 165.24 493.60 165.24 493.60 163.55 493.90 163.55 493.90 160.12 494.20 160.12 494.20 159.68 494.50 159.68 494.50 159.11 494.80 159.11 494.80 160.01 495.10 160.01 495.10 164.03 495.40 164.03 495.40 164.79 495.70 164.79 495.70 163.56 496.00 163.56 496.00 164.62 496.30 164.62 496.30 163.21 496.60 163.21 496.60 163.22 496.90 163.22 496.90 162.17 497.20 162.17 497.20 162.93 497.50 162.93 497.50 165.73 497.80 165.73 497.80 162.24 498.10 162.24 498.10 161.30 498.40 161.30 498.40 158.51 498.70 158.51 498.70 158.98 499.00 158.98 499.00 158.53 499.30 158.53 499.30 159.53 499.60 159.53 499.60 159.89 499.90 159.89 499.90 162.80 500.20 162.80 500.20 163.18 500.50 163.18 500.50 163.43 500.80 163.43 500.80 159.41 501.10 159.41 501.10 154.54 501.40 154.54 501.40 162.34 501.70 162.34 501.70 153.96 502.00 153.96 502.00 161.15 502.30 161.15 502.30 154.69 502.60 154.69 502.60 155.35 502.90 155.35 502.90 155.51 503.20 155.51 503.20 155.39 503.50 155.39 503.50 160.15 503.80 160.15 503.80 160.40 504.10 160.40 504.10 161.42 504.40 161.42 504.40 163.11 504.70 163.11 504.70 162.54 505.00 162.54 505.00 163.01 505.30 163.01 505.30 165.33 505.60 165.33 505.60 161.14 505.90 161.14 505.90 166.85 506.20 166.85 506.20 162.06 506.50 162.06 506.50 163.97 506.80 163.97 506.80 164.00 507.10 164.00 507.10 167.42 507.40 167.42 507.40 166.58 507.70 166.58 507.70 164.45 508.00 164.45 508.00 167.09 508.30 167.09 508.30 163.32 508.60 163.32 508.60 163.60 508.90 163.60 508.90 160.08 509.20 160.08 509.20 160.41 509.50 160.41 509.50 160.96 509.80 160.96 509.80 161.26 510.10 161.26 510.10 164.96 510.40 164.96 510.40 165.03 510.70 165.03 510.70 164.64 511.00 164.64 511.00 165.34 511.30 165.34 511.30 164.71 511.60 164.71 511.60 163.63 511.90 163.63 511.90 165.28 512.20 165.28 512.20 166.20 512.50 166.20 512.50 168.72 512.80 168.72 512.80 165.59 513.10 165.59 513.10 166.52 513.40 166.52 513.40 164.51 513.70 164.51 513.70 168.67 514.00 168.67 514.00 165.59 514.30 165.59 514.30 164.59 514.60 164.59 514.60 168.88 514.90 168.88 514.90 167.32 515.20 167.32 515.20 165.98 515.50 165.98 515.50 165.22 515.80 165.22 515.80 168.65 516.10 168.65 516.10 168.99 516.40 168.99 516.40 168.90 516.70 168.90 516.70 168.09 517.00 168.09 517.00 166.58 517.30 166.58 517.30 166.25 517.60 166.25 517.60 170.42 517.90 170.42 517.90 167.34 518.20 167.34 518.20 166.55 518.50 166.55 518.50 167.95 518.80 167.95 518.80 165.82 519.10 165.82 519.10 168.04 519.40 168.04 519.40 170.51 519.70 170.51 519.70 167.84 520.00 167.84 520.00 171.10 520.30 171.10 520.30 170.78 520.60 170.78 520.60 170.23 520.90 170.23 520.90 168.72 521.20 168.72 521.20 170.45 521.50 170.45 521.50 171.11 521.80 171.11 521.80 170.10 522.10 170.10 522.10 170.38 522.40 170.38 522.40 170.03 522.70 170.03 522.70 170.66 523.00 170.66 523.00 171.05 523.30 171.05 523.30 172.89 523.60 172.89 523.60 169.48 523.90 169.48 523.90 172.39 524.20 172.39 524.20 171.40 524.50 171.40 524.50 170.52 524.80 170.52 524.80 173.25 525.10 173.25 525.10 172.77 525.40 172.77 525.40 174.00 525.70 174.00 525.70 173.36 526.00 173.36 526.00 173.66 526.30 173.66 526.30 173.81 526.60 173.81 526.60 174.02 526.90 174.02 526.90 174.48 527.20 174.48 527.20 174.14 527.50 174.14 527.50 174.87 527.80 174.87 527.80 175.67 528.10 175.67 528.10 174.76 528.40 174.76 528.40 175.04 528.70 175.04 528.70 175.20 529.00 175.20 529.00 175.42 529.30 175.42 529.30 176.12 529.60 176.12 529.60 175.65 529.90 175.65 529.90 175.95 530.20 175.95 530.20 175.59 530.50 175.59 530.50 176.32 530.80 176.32 530.80 175.86 531.10 175.86 531.10 175.82 531.40 175.82 531.40 176.25 531.70 176.25 531.70 176.50 532.00 176.50 532.00 176.17 532.30 176.17 532.30 176.24 532.60 176.24 532.60 176.10 532.90 176.10 532.90 176.23 533.20 176.23 533.20 176.75 533.50 176.75 533.50 176.52 533.80 176.52 533.80 176.50 534.10 176.50 534.10 176.55 534.40 176.55 534.40 176.41 534.70 176.41 534.70 176.76 535.00 176.76 535.00 176.47 535.30 176.47 535.30 176.96 535.60 176.96 535.60 176.82 535.90 176.82 535.90 176.99 536.20 176.99 536.20 177.13 536.50 177.13 536.50 176.95 536.80 176.95 536.80 177.06 537.10 177.06 537.10 176.46 537.40 176.46 537.40 177.06 537.70 177.06 537.70 176.84 538.00 176.84 538.00 177.05 538.30 177.05 538.30 177.13 538.60 177.13 538.60 177.00 538.90 177.00 538.90 177.00 539.20 177.00 539.20 177.36 539.50 177.36 539.50 177.17 539.80 177.17 539.80 177.30 540.10 177.30 540.10 177.37 540.40 177.37 540.40 177.33 540.70 177.33 540.70 177.25 541.00 177.25 541.00 177.27 541.30 177.27 541.30 177.41 541.60 177.41 541.60 177.50 541.90 177.50 541.90 177.39 542.20 177.39 542.20 177.46 542.50 177.46 542.50 177.55 542.80 177.55 542.80 177.47 543.10 177.47 543.10 177.63 543.40 177.63 543.40 177.65 543.70 177.65 543.70 177.67 544.00 177.67 544.00 177.45 544.30 177.45 544.30 177.63 544.60 177.63 544.60 177.70 544.90 177.70 544.90 177.77 545.20 177.77 545.20 177.70 545.50 177.70 545.50 177.73 545.80 177.73 545.80 177.76 546.10 177.76 546.10 177.83 546.40 177.83 546.40 177.87 546.70 177.87 546.70 177.91 547.00 177.91 547.00 177.91 547.30 177.91 547.30 177.94 547.60 177.94 547.60 177.97 547.90 177.97 547.90 177.99 548.20 177.99 548.20 178.00 548.50 178.00 548.50 178.00 548.80 178.00 548.80 178.00 549.10 178.00 549.00 178.00Z" fill="#36b946"/>
<path d="M297 163.2H352.3" fill="none" stroke="#555" stroke-width="0.8"/>
<path d="M352.3 178V153.3H466.7" fill="none" stroke="#6a6fb4" stroke-width="0.8"/>
<path d="M466.7 178V143.5H563.3V178" fill="none" stroke="#b86a88" stroke-width="0.8"/>
<path d="M466.7 153.3V178" fill="none" stroke="#6a4a8a" stroke-width="0.9"/>
<text x="311.9" y="173.2" font-size="6.8" font-weight="bold" text-anchor="middle" fill="#222" stroke="#222" stroke-width="0.22">1</text>
<text x="414.4" y="160.3" font-size="6.4" font-weight="bold" text-anchor="middle" fill="#3040a8" stroke="#3040a8" stroke-width="0.22">2</text>
<text x="513.3" y="150" font-size="6.4" font-weight="bold" text-anchor="middle" fill="#e0304a" stroke="#e0304a" stroke-width="0.22">3</text>
<path d="M297 31V178" fill="none" stroke="#7a7a7a" stroke-width="1.1"/>
<path d="M296.5 178.1H563.8" stroke="#333" stroke-width="1.2"/>
<path d="M293.6 31.1H297" stroke="#333" stroke-width="0.9"/>
<text x="292.3" y="32.5" font-size="3.8" font-weight="bold" text-anchor="end" fill="#222" stroke="#222" stroke-width="0.12">300</text>
<path d="M293.6 55.3H297" stroke="#333" stroke-width="0.9"/>
<text x="292.3" y="56.699999999999996" font-size="3.8" font-weight="bold" text-anchor="end" fill="#222" stroke="#222" stroke-width="0.12">250</text>
<path d="M293.6 79.3H297" stroke="#333" stroke-width="0.9"/>
<text x="292.3" y="80.7" font-size="3.8" font-weight="bold" text-anchor="end" fill="#222" stroke="#222" stroke-width="0.12">200</text>
<path d="M293.6 104.6H297" stroke="#333" stroke-width="0.9"/>
<text x="292.3" y="106.0" font-size="3.8" font-weight="bold" text-anchor="end" fill="#222" stroke="#222" stroke-width="0.12">150</text>
<path d="M293.6 129.3H297" stroke="#333" stroke-width="0.9"/>
<text x="292.3" y="130.70000000000002" font-size="3.8" font-weight="bold" text-anchor="end" fill="#222" stroke="#222" stroke-width="0.12">100</text>
<path d="M293.6 153.1H297" stroke="#333" stroke-width="0.9"/>
<text x="292.3" y="154.5" font-size="3.8" font-weight="bold" text-anchor="end" fill="#222" stroke="#222" stroke-width="0.12">50</text>
<path d="M297.0 178V181.8" stroke="#555" stroke-width="0.8"/>
<text x="297.0" y="186" font-size="3.8" font-weight="bold" text-anchor="middle" fill="#222" stroke="#222" stroke-width="0.12">0</text>
<path d="M323.0 178V181.8" stroke="#555" stroke-width="0.8"/>
<text x="323.0" y="186" font-size="3.8" font-weight="bold" text-anchor="middle" fill="#222" stroke="#222" stroke-width="0.12">100</text>
<path d="M349.1 178V181.8" stroke="#555" stroke-width="0.8"/>
<text x="349.1" y="186" font-size="3.8" font-weight="bold" text-anchor="middle" fill="#222" stroke="#222" stroke-width="0.12">200</text>
<path d="M375.1 178V181.8" stroke="#555" stroke-width="0.8"/>
<text x="375.1" y="186" font-size="3.8" font-weight="bold" text-anchor="middle" fill="#222" stroke="#222" stroke-width="0.12">300</text>
<path d="M401.1 178V181.8" stroke="#555" stroke-width="0.8"/>
<text x="401.1" y="186" font-size="3.8" font-weight="bold" text-anchor="middle" fill="#222" stroke="#222" stroke-width="0.12">400</text>
<path d="M427.2 178V181.8" stroke="#555" stroke-width="0.8"/>
<text x="427.2" y="186" font-size="3.8" font-weight="bold" text-anchor="middle" fill="#222" stroke="#222" stroke-width="0.12">500</text>
<path d="M453.2 178V181.8" stroke="#555" stroke-width="0.8"/>
<text x="453.2" y="186" font-size="3.8" font-weight="bold" text-anchor="middle" fill="#222" stroke="#222" stroke-width="0.12">600</text>
<path d="M479.2 178V181.8" stroke="#555" stroke-width="0.8"/>
<text x="479.2" y="186" font-size="3.8" font-weight="bold" text-anchor="middle" fill="#222" stroke="#222" stroke-width="0.12">700</text>
<path d="M505.3 178V181.8" stroke="#555" stroke-width="0.8"/>
<text x="505.3" y="186" font-size="3.8" font-weight="bold" text-anchor="middle" fill="#222" stroke="#222" stroke-width="0.12">800</text>
<path d="M531.3 178V181.8" stroke="#555" stroke-width="0.8"/>
<text x="531.3" y="186" font-size="3.8" font-weight="bold" text-anchor="middle" fill="#222" stroke="#222" stroke-width="0.12">900</text>
<path d="M563.3 178V181.8" stroke="#555" stroke-width="0.8"/>
<text x="563.3" y="186" font-size="3.8" font-weight="bold" text-anchor="middle" fill="#222" stroke="#222" stroke-width="0.12">1023</text>
<text transform="translate(277.9 94.5) rotate(-90)" font-size="10" font-weight="bold" text-anchor="middle" fill="#111" stroke="#111" stroke-width="0.22">Events</text>
<text x="359.8" y="198.2" font-size="9.6" font-weight="bold" fill="#111" textLength="15.2" lengthAdjust="spacingAndGlyphs" stroke="#111" stroke-width="0.22">DFI</text>
<text x="378" y="198.3" font-size="7.8" font-weight="bold" fill="#111" stroke="#111" stroke-width="0.22">(Red / Red + Green Fluorescence)</text>
<rect x="302.4" y="31.4" width="244.6" height="33" rx="4.2" fill="#ed6c21"/>
<text x="345.8" y="45.8" font-size="12.6" font-weight="bold" fill="#fff" textLength="161" lengthAdjust="spacingAndGlyphs" stroke="#fff" stroke-width="0.22">Histogram showing normal,</text>
<text x="312" y="58.6" font-size="12.6" font-weight="bold" fill="#fff" textLength="228.4" lengthAdjust="spacingAndGlyphs" stroke="#fff" stroke-width="0.22">moderate, and high DNA fragmentation</text>
<path d="M297 94.6H564" stroke="#8a8a8a" stroke-width="0.9"/>
<text x="304" y="91.1" font-size="8.7" fill="#222" stroke="#222" stroke-width="0.22">Normal = 25%</text>
<text x="395.2" y="91.1" font-size="8.7" fill="#222" stroke="#222" stroke-width="0.22">Moderate = 35%</text>
<text x="492.8" y="91.1" font-size="8.7" fill="#222" stroke="#222" stroke-width="0.22">High = 41%</text>
<path d="M324.75 100V127.10000000000001L321.2 125.30000000000001L326 139.3L330.8 125.30000000000001L327.25 127.10000000000001V100Z" fill="#ed2a3d"/>
<path d="M412.85 100V136.8L409.3 135L414.1 149L418.90000000000003 135L415.35 136.8V100Z" fill="#ed2a3d"/>
<path d="M512.05 100V126.10000000000001L508.49999999999994 124.30000000000001L513.3 138.3L518.0999999999999 124.30000000000001L514.55 126.10000000000001V100Z" fill="#ed2a3d"/>
<rect x="53.9" y="239.9" width="499.1" height="63.4" rx="6.5" fill="none" stroke="#ed6c21" stroke-width="2"/>
<text x="77.7" y="251" font-size="10.3" font-weight="bold" text-anchor="middle" fill="#111" stroke="#111" stroke-width="0.22">File</text>
<text x="77.7" y="262.3" font-size="8.4" text-anchor="middle" fill="#222" stroke="#222" stroke-width="0.22">133697</text>
<text x="77.7" y="272.7" font-size="8.4" text-anchor="middle" fill="#222" stroke="#222" stroke-width="0.22">133698</text>
<text x="77.7" y="287.1" font-size="8.3" font-weight="bold" text-anchor="middle" fill="#111" stroke="#111" stroke-width="0.22">mean</text>
<text x="77.7" y="297.4" font-size="8.3" font-weight="bold" text-anchor="middle" fill="#111" stroke="#111" stroke-width="0.22">std dev</text>
<text x="146.4" y="251" font-size="10.3" font-weight="bold" text-anchor="middle" fill="#111" stroke="#111" stroke-width="0.22">% Total</text>
<text x="146.4" y="262.3" font-size="8.4" text-anchor="middle" fill="#222" stroke="#222" stroke-width="0.22">75.11</text>
<text x="146.4" y="272.7" font-size="8.4" text-anchor="middle" fill="#222" stroke="#222" stroke-width="0.22">75.09</text>
<text x="146.4" y="287.1" font-size="8.3" font-weight="bold" text-anchor="middle" fill="#111" stroke="#111" stroke-width="0.22">75.1</text>
<text x="146.4" y="297.4" font-size="8.3" font-weight="bold" text-anchor="middle" fill="#111" stroke="#111" stroke-width="0.22">0.0</text>
<text x="225.2" y="251" font-size="10.3" font-weight="bold" text-anchor="middle" fill="#111" stroke="#111" stroke-width="0.22">% Moderate</text>
<text x="225.2" y="262.3" font-size="8.4" text-anchor="middle" fill="#222" stroke="#222" stroke-width="0.22">34.25</text>
<text x="225.2" y="272.7" font-size="8.4" text-anchor="middle" fill="#222" stroke="#222" stroke-width="0.22">34.81</text>
<text x="225.2" y="287.1" font-size="8.3" font-weight="bold" text-anchor="middle" fill="#111" stroke="#111" stroke-width="0.22">34.5</text>
<text x="225.2" y="297.4" font-size="8.3" font-weight="bold" text-anchor="middle" fill="#111" stroke="#111" stroke-width="0.22">0.4</text>
<text x="304.3" y="251" font-size="10.3" font-weight="bold" text-anchor="middle" fill="#111" stroke="#111" stroke-width="0.22">% High</text>
<text x="304.3" y="262.3" font-size="8.4" text-anchor="middle" fill="#222" stroke="#222" stroke-width="0.22">40.86</text>
<text x="304.3" y="272.7" font-size="8.4" text-anchor="middle" fill="#222" stroke="#222" stroke-width="0.22">40.28</text>
<text x="304.3" y="287.1" font-size="8.3" font-weight="bold" text-anchor="middle" fill="#111" stroke="#111" stroke-width="0.22">40.6</text>
<text x="304.3" y="297.4" font-size="8.3" font-weight="bold" text-anchor="middle" fill="#111" stroke="#111" stroke-width="0.22">0.4</text>
<text x="372.7" y="251" font-size="10.3" font-weight="bold" text-anchor="middle" fill="#111" stroke="#111" stroke-width="0.22">% HDS</text>
<text x="372.7" y="262.3" font-size="8.4" text-anchor="middle" fill="#222" stroke="#222" stroke-width="0.22">3.60</text>
<text x="372.7" y="272.7" font-size="8.4" text-anchor="middle" fill="#222" stroke="#222" stroke-width="0.22">3.55</text>
<text x="372.7" y="287.1" font-size="8.3" font-weight="bold" text-anchor="middle" fill="#111" stroke="#111" stroke-width="0.22">3.6</text>
<text x="372.7" y="297.4" font-size="8.3" font-weight="bold" text-anchor="middle" fill="#111" stroke="#111" stroke-width="0.22">0.0</text>
<text x="440.8" y="251" font-size="10.3" font-weight="bold" text-anchor="middle" fill="#111" stroke="#111" stroke-width="0.22">Mean DFI</text>
<text x="440.8" y="262.3" font-size="8.4" text-anchor="middle" fill="#222" stroke="#222" stroke-width="0.22">496.89</text>
<text x="440.8" y="272.7" font-size="8.4" text-anchor="middle" fill="#222" stroke="#222" stroke-width="0.22">494.83</text>
<text x="440.8" y="287.1" font-size="8.3" font-weight="bold" text-anchor="middle" fill="#111" stroke="#111" stroke-width="0.22">495.9</text>
<text x="440.8" y="297.4" font-size="8.3" font-weight="bold" text-anchor="middle" fill="#111" stroke="#111" stroke-width="0.22">1.5</text>
<text x="521.0" y="251" font-size="10.3" font-weight="bold" text-anchor="middle" fill="#111" stroke="#111" stroke-width="0.22">SD DFI</text>
<text x="521.0" y="262.3" font-size="8.4" text-anchor="middle" fill="#222" stroke="#222" stroke-width="0.22">95.51</text>
<text x="521.0" y="272.7" font-size="8.4" text-anchor="middle" fill="#222" stroke="#222" stroke-width="0.22">103.32</text>
<text x="521.0" y="287.1" font-size="8.3" font-weight="bold" text-anchor="middle" fill="#111" stroke="#111" stroke-width="0.22">99.4</text>
<text x="521.0" y="297.4" font-size="8.3" font-weight="bold" text-anchor="middle" fill="#111" stroke="#111" stroke-width="0.22">5.5</text>
<path d="M336 303H538V310.4A5.4 5.4 0 0 1 532.6 315.8H341.4A5.4 5.4 0 0 1 336 310.4Z" fill="#ed6c21"/>
<text x="343.2" y="312.7" font-size="9.8" font-weight="bold" fill="#fff" stroke="#fff" stroke-width="0.25" textLength="187" lengthAdjust="spacingAndGlyphs" xml:space="preserve">DATA FROM  DUPLICATE MEASUREMENTS</text>
<text x="256.2" y="337.8" font-size="10.2" font-weight="bold" fill="#111" stroke="#111" stroke-width="0.22">SCSA<tspan x="294" textLength="61.4" lengthAdjust="spacingAndGlyphs">Test Results</tspan></text>
<circle cx="288" cy="331" r="2.6" fill="#fff" stroke="#444" stroke-width="0.8"/><text x="288" y="332.6" font-size="4.4" font-weight="bold" text-anchor="middle" fill="#444" stroke="#444" stroke-width="0.12">R</text>
<path d="M200 347.3H569.2" stroke="#9a9a9a" stroke-width="1"/>
<path d="M43.3 384.3H569.2" stroke="#9a9a9a" stroke-width="1"/>
<rect x="32.5" y="343" width="174.7" height="11.8" rx="5.9" fill="#ed6c21"/>
<text x="38.4" y="352.4" font-size="9.5" font-weight="bold" fill="#fff" stroke="#fff" stroke-width="0.25" textLength="163.2" lengthAdjust="spacingAndGlyphs">TOTAL DNA FRAGMENTATION INDEX</text>
<rect x="86.1" y="355.7" width="68" height="17.1" rx="5" fill="#fff" stroke="#ed6c21" stroke-width="1.8"/>
<text x="90.5" y="368.7" font-size="10.3" fill="#222" stroke="#222" stroke-width="0.22"><tspan font-weight="bold" fill="#111">% DFI</tspan> = 75%</text>
<rect x="167.1" y="358.6" width="189.8" height="16.6" rx="5" fill="#fff" stroke="#ed6c21" stroke-width="1.8"/>
<text x="179.3" y="368.5" font-size="10.4" font-weight="bold" fill="#ec2b27" textLength="65.6" lengthAdjust="spacingAndGlyphs" stroke="#ec2b27" stroke-width="0.22">Very poor PO</text>
<path d="M171 375.6H352.5V383.6A5.2 5.2 0 0 1 347.3 388.8H176.2A5.2 5.2 0 0 1 171 383.6Z" fill="#ed6c21"/>
<text x="174.7" y="386.2" font-size="9.1" font-weight="bold" fill="#fff" stroke="#fff" stroke-width="0.25" textLength="174" lengthAdjust="spacingAndGlyphs">ASSESSMENT OF SPERM DNA QUALITY</text>
<path d="M366.7 357H433.3V349.4A5.2 5.2 0 0 0 428.1 344.2H371.9A5.2 5.2 0 0 0 366.7 349.4Z" fill="#ed6c21"/>
<text x="374.9" y="353.9" font-size="9.1" font-weight="bold" fill="#fff" stroke="#fff" stroke-width="0.25" textLength="50.5" lengthAdjust="spacingAndGlyphs">TOTAL HDS</text>
<rect x="361.9" y="357.1" width="75.4" height="17.2" rx="5" fill="#fff" stroke="#ed6c21" stroke-width="1.8"/>
<text x="365.2" y="368.5" font-size="10.3" fill="#222" stroke="#222" stroke-width="0.22"><tspan font-weight="bold" fill="#111">% HDS</tspan> = 4%</text>
<text x="439.6" y="368.6" font-size="10.4" font-weight="bold" fill="#ec2b27" textLength="70.6" lengthAdjust="spacingAndGlyphs" stroke="#ec2b27" stroke-width="0.22">Normal Range</text>
</svg>
</body></html>
